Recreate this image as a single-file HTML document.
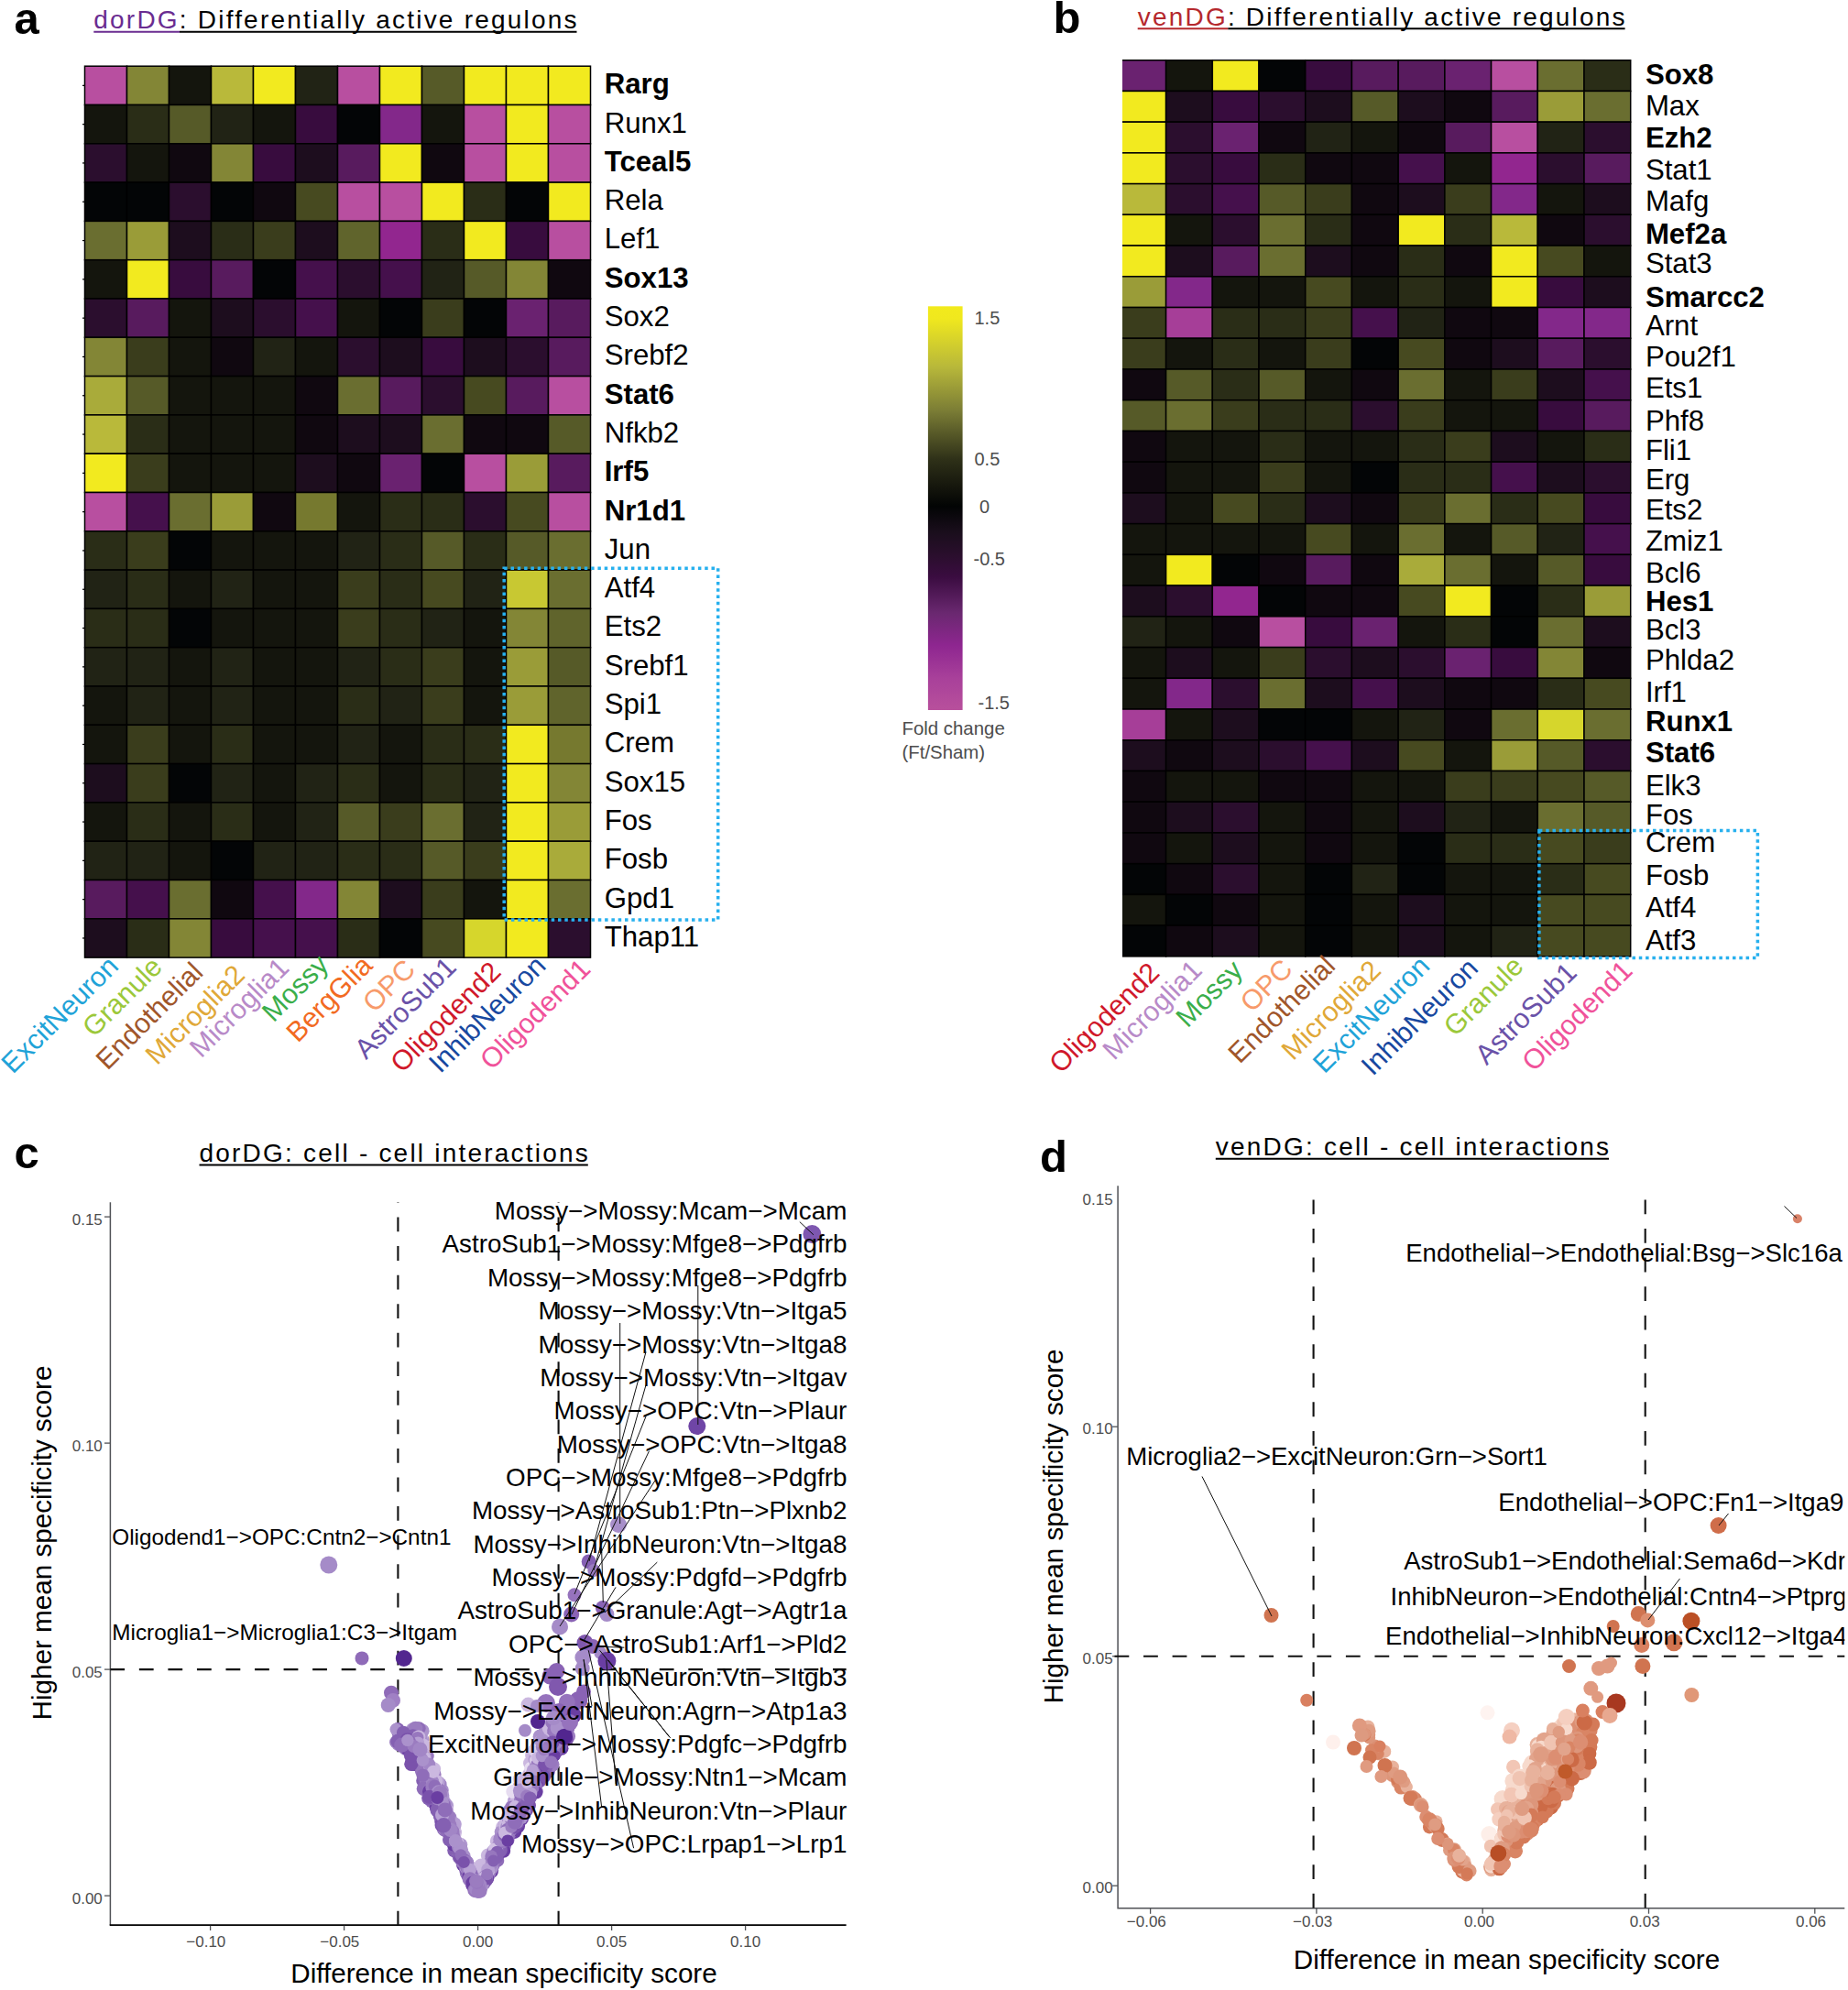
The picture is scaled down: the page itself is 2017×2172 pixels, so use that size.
<!DOCTYPE html>
<html><head><meta charset="utf-8"><title>Figure</title>
<style>
html,body{margin:0;padding:0;background:#fff}
svg{display:block;font-family:"Liberation Sans",sans-serif}
</style></head><body>
<svg width="2017" height="2172" viewBox="0 0 2017 2172">
<rect width="2017" height="2172" fill="#fff"/>
<g stroke="#000" stroke-width="1.5">
<rect x="92.50" y="72.20" width="46.00" height="42.30" fill="#b84fa0"/>
<rect x="138.50" y="72.20" width="46.00" height="42.30" fill="#838636"/>
<rect x="184.50" y="72.20" width="46.00" height="42.30" fill="#14150d"/>
<rect x="230.50" y="72.20" width="46.00" height="42.30" fill="#b9b93a"/>
<rect x="276.50" y="72.20" width="46.00" height="42.30" fill="#f2ea1f"/>
<rect x="322.50" y="72.20" width="46.00" height="42.30" fill="#212315"/>
<rect x="368.50" y="72.20" width="46.00" height="42.30" fill="#b84fa0"/>
<rect x="414.50" y="72.20" width="46.00" height="42.30" fill="#f2ea1f"/>
<rect x="460.50" y="72.20" width="46.00" height="42.30" fill="#565a28"/>
<rect x="506.50" y="72.20" width="46.00" height="42.30" fill="#f2ea1f"/>
<rect x="552.50" y="72.20" width="46.00" height="42.30" fill="#f2ea1f"/>
<rect x="598.50" y="72.20" width="46.00" height="42.30" fill="#f2ea1f"/>
<rect x="92.50" y="114.50" width="46.00" height="42.30" fill="#14150d"/>
<rect x="138.50" y="114.50" width="46.00" height="42.30" fill="#2a2d17"/>
<rect x="184.50" y="114.50" width="46.00" height="42.30" fill="#565a28"/>
<rect x="230.50" y="114.50" width="46.00" height="42.30" fill="#212315"/>
<rect x="276.50" y="114.50" width="46.00" height="42.30" fill="#14150d"/>
<rect x="322.50" y="114.50" width="46.00" height="42.30" fill="#380c3e"/>
<rect x="368.50" y="114.50" width="46.00" height="42.30" fill="#030506"/>
<rect x="414.50" y="114.50" width="46.00" height="42.30" fill="#83288a"/>
<rect x="460.50" y="114.50" width="46.00" height="42.30" fill="#14150d"/>
<rect x="506.50" y="114.50" width="46.00" height="42.30" fill="#b84fa0"/>
<rect x="552.50" y="114.50" width="46.00" height="42.30" fill="#f2ea1f"/>
<rect x="598.50" y="114.50" width="46.00" height="42.30" fill="#b84fa0"/>
<rect x="92.50" y="156.80" width="46.00" height="42.30" fill="#2b0e2e"/>
<rect x="138.50" y="156.80" width="46.00" height="42.30" fill="#14150d"/>
<rect x="184.50" y="156.80" width="46.00" height="42.30" fill="#100810"/>
<rect x="230.50" y="156.80" width="46.00" height="42.30" fill="#838636"/>
<rect x="276.50" y="156.80" width="46.00" height="42.30" fill="#380c3e"/>
<rect x="322.50" y="156.80" width="46.00" height="42.30" fill="#1d0d1e"/>
<rect x="368.50" y="156.80" width="46.00" height="42.30" fill="#581b5e"/>
<rect x="414.50" y="156.80" width="46.00" height="42.30" fill="#f2ea1f"/>
<rect x="460.50" y="156.80" width="46.00" height="42.30" fill="#100810"/>
<rect x="506.50" y="156.80" width="46.00" height="42.30" fill="#b84fa0"/>
<rect x="552.50" y="156.80" width="46.00" height="42.30" fill="#f2ea1f"/>
<rect x="598.50" y="156.80" width="46.00" height="42.30" fill="#b84fa0"/>
<rect x="92.50" y="199.10" width="46.00" height="42.30" fill="#030506"/>
<rect x="138.50" y="199.10" width="46.00" height="42.30" fill="#030506"/>
<rect x="184.50" y="199.10" width="46.00" height="42.30" fill="#2b0e2e"/>
<rect x="230.50" y="199.10" width="46.00" height="42.30" fill="#030506"/>
<rect x="276.50" y="199.10" width="46.00" height="42.30" fill="#100810"/>
<rect x="322.50" y="199.10" width="46.00" height="42.30" fill="#474a20"/>
<rect x="368.50" y="199.10" width="46.00" height="42.30" fill="#b84fa0"/>
<rect x="414.50" y="199.10" width="46.00" height="42.30" fill="#b84fa0"/>
<rect x="460.50" y="199.10" width="46.00" height="42.30" fill="#f2ea1f"/>
<rect x="506.50" y="199.10" width="46.00" height="42.30" fill="#2a2d17"/>
<rect x="552.50" y="199.10" width="46.00" height="42.30" fill="#030506"/>
<rect x="598.50" y="199.10" width="46.00" height="42.30" fill="#f2ea1f"/>
<rect x="92.50" y="241.40" width="46.00" height="42.30" fill="#6a6e30"/>
<rect x="138.50" y="241.40" width="46.00" height="42.30" fill="#9a9c38"/>
<rect x="184.50" y="241.40" width="46.00" height="42.30" fill="#1d0d1e"/>
<rect x="230.50" y="241.40" width="46.00" height="42.30" fill="#2a2d17"/>
<rect x="276.50" y="241.40" width="46.00" height="42.30" fill="#3a3d1c"/>
<rect x="322.50" y="241.40" width="46.00" height="42.30" fill="#1d0d1e"/>
<rect x="368.50" y="241.40" width="46.00" height="42.30" fill="#60642c"/>
<rect x="414.50" y="241.40" width="46.00" height="42.30" fill="#92268f"/>
<rect x="460.50" y="241.40" width="46.00" height="42.30" fill="#2a2d17"/>
<rect x="506.50" y="241.40" width="46.00" height="42.30" fill="#f2ea1f"/>
<rect x="552.50" y="241.40" width="46.00" height="42.30" fill="#380c3e"/>
<rect x="598.50" y="241.40" width="46.00" height="42.30" fill="#b84fa0"/>
<rect x="92.50" y="283.70" width="46.00" height="42.30" fill="#14150d"/>
<rect x="138.50" y="283.70" width="46.00" height="42.30" fill="#f2ea1f"/>
<rect x="184.50" y="283.70" width="46.00" height="42.30" fill="#380c3e"/>
<rect x="230.50" y="283.70" width="46.00" height="42.30" fill="#581b5e"/>
<rect x="276.50" y="283.70" width="46.00" height="42.30" fill="#030506"/>
<rect x="322.50" y="283.70" width="46.00" height="42.30" fill="#45104c"/>
<rect x="368.50" y="283.70" width="46.00" height="42.30" fill="#2b0e2e"/>
<rect x="414.50" y="283.70" width="46.00" height="42.30" fill="#45104c"/>
<rect x="460.50" y="283.70" width="46.00" height="42.30" fill="#212315"/>
<rect x="506.50" y="283.70" width="46.00" height="42.30" fill="#565a28"/>
<rect x="552.50" y="283.70" width="46.00" height="42.30" fill="#838636"/>
<rect x="598.50" y="283.70" width="46.00" height="42.30" fill="#100810"/>
<rect x="92.50" y="326.00" width="46.00" height="42.30" fill="#2b0e2e"/>
<rect x="138.50" y="326.00" width="46.00" height="42.30" fill="#581b5e"/>
<rect x="184.50" y="326.00" width="46.00" height="42.30" fill="#14150d"/>
<rect x="230.50" y="326.00" width="46.00" height="42.30" fill="#1d0d1e"/>
<rect x="276.50" y="326.00" width="46.00" height="42.30" fill="#2b0e2e"/>
<rect x="322.50" y="326.00" width="46.00" height="42.30" fill="#45104c"/>
<rect x="368.50" y="326.00" width="46.00" height="42.30" fill="#14150d"/>
<rect x="414.50" y="326.00" width="46.00" height="42.30" fill="#030506"/>
<rect x="460.50" y="326.00" width="46.00" height="42.30" fill="#3a3d1c"/>
<rect x="506.50" y="326.00" width="46.00" height="42.30" fill="#030506"/>
<rect x="552.50" y="326.00" width="46.00" height="42.30" fill="#6a2270"/>
<rect x="598.50" y="326.00" width="46.00" height="42.30" fill="#581b5e"/>
<rect x="92.50" y="368.30" width="46.00" height="42.30" fill="#838636"/>
<rect x="138.50" y="368.30" width="46.00" height="42.30" fill="#3a3d1c"/>
<rect x="184.50" y="368.30" width="46.00" height="42.30" fill="#14150d"/>
<rect x="230.50" y="368.30" width="46.00" height="42.30" fill="#100810"/>
<rect x="276.50" y="368.30" width="46.00" height="42.30" fill="#212315"/>
<rect x="322.50" y="368.30" width="46.00" height="42.30" fill="#14150d"/>
<rect x="368.50" y="368.30" width="46.00" height="42.30" fill="#2b0e2e"/>
<rect x="414.50" y="368.30" width="46.00" height="42.30" fill="#1d0d1e"/>
<rect x="460.50" y="368.30" width="46.00" height="42.30" fill="#380c3e"/>
<rect x="506.50" y="368.30" width="46.00" height="42.30" fill="#1d0d1e"/>
<rect x="552.50" y="368.30" width="46.00" height="42.30" fill="#2b0e2e"/>
<rect x="598.50" y="368.30" width="46.00" height="42.30" fill="#581b5e"/>
<rect x="92.50" y="410.60" width="46.00" height="42.30" fill="#a9ab3a"/>
<rect x="138.50" y="410.60" width="46.00" height="42.30" fill="#565a28"/>
<rect x="184.50" y="410.60" width="46.00" height="42.30" fill="#14150d"/>
<rect x="230.50" y="410.60" width="46.00" height="42.30" fill="#14150d"/>
<rect x="276.50" y="410.60" width="46.00" height="42.30" fill="#14150d"/>
<rect x="322.50" y="410.60" width="46.00" height="42.30" fill="#100810"/>
<rect x="368.50" y="410.60" width="46.00" height="42.30" fill="#6a6e30"/>
<rect x="414.50" y="410.60" width="46.00" height="42.30" fill="#581b5e"/>
<rect x="460.50" y="410.60" width="46.00" height="42.30" fill="#2b0e2e"/>
<rect x="506.50" y="410.60" width="46.00" height="42.30" fill="#474a20"/>
<rect x="552.50" y="410.60" width="46.00" height="42.30" fill="#581b5e"/>
<rect x="598.50" y="410.60" width="46.00" height="42.30" fill="#b84fa0"/>
<rect x="92.50" y="452.90" width="46.00" height="42.30" fill="#b9b93a"/>
<rect x="138.50" y="452.90" width="46.00" height="42.30" fill="#2a2d17"/>
<rect x="184.50" y="452.90" width="46.00" height="42.30" fill="#14150d"/>
<rect x="230.50" y="452.90" width="46.00" height="42.30" fill="#14150d"/>
<rect x="276.50" y="452.90" width="46.00" height="42.30" fill="#14150d"/>
<rect x="322.50" y="452.90" width="46.00" height="42.30" fill="#100810"/>
<rect x="368.50" y="452.90" width="46.00" height="42.30" fill="#1d0d1e"/>
<rect x="414.50" y="452.90" width="46.00" height="42.30" fill="#1d0d1e"/>
<rect x="460.50" y="452.90" width="46.00" height="42.30" fill="#6a6e30"/>
<rect x="506.50" y="452.90" width="46.00" height="42.30" fill="#100810"/>
<rect x="552.50" y="452.90" width="46.00" height="42.30" fill="#100810"/>
<rect x="598.50" y="452.90" width="46.00" height="42.30" fill="#565a28"/>
<rect x="92.50" y="495.20" width="46.00" height="42.30" fill="#f2ea1f"/>
<rect x="138.50" y="495.20" width="46.00" height="42.30" fill="#3a3d1c"/>
<rect x="184.50" y="495.20" width="46.00" height="42.30" fill="#14150d"/>
<rect x="230.50" y="495.20" width="46.00" height="42.30" fill="#14150d"/>
<rect x="276.50" y="495.20" width="46.00" height="42.30" fill="#14150d"/>
<rect x="322.50" y="495.20" width="46.00" height="42.30" fill="#1d0d1e"/>
<rect x="368.50" y="495.20" width="46.00" height="42.30" fill="#100810"/>
<rect x="414.50" y="495.20" width="46.00" height="42.30" fill="#6a2270"/>
<rect x="460.50" y="495.20" width="46.00" height="42.30" fill="#030506"/>
<rect x="506.50" y="495.20" width="46.00" height="42.30" fill="#b84fa0"/>
<rect x="552.50" y="495.20" width="46.00" height="42.30" fill="#9a9c38"/>
<rect x="598.50" y="495.20" width="46.00" height="42.30" fill="#581b5e"/>
<rect x="92.50" y="537.50" width="46.00" height="42.30" fill="#b84fa0"/>
<rect x="138.50" y="537.50" width="46.00" height="42.30" fill="#45104c"/>
<rect x="184.50" y="537.50" width="46.00" height="42.30" fill="#6a6e30"/>
<rect x="230.50" y="537.50" width="46.00" height="42.30" fill="#9a9c38"/>
<rect x="276.50" y="537.50" width="46.00" height="42.30" fill="#100810"/>
<rect x="322.50" y="537.50" width="46.00" height="42.30" fill="#76792f"/>
<rect x="368.50" y="537.50" width="46.00" height="42.30" fill="#14150d"/>
<rect x="414.50" y="537.50" width="46.00" height="42.30" fill="#2a2d17"/>
<rect x="460.50" y="537.50" width="46.00" height="42.30" fill="#2a2d17"/>
<rect x="506.50" y="537.50" width="46.00" height="42.30" fill="#2b0e2e"/>
<rect x="552.50" y="537.50" width="46.00" height="42.30" fill="#474a20"/>
<rect x="598.50" y="537.50" width="46.00" height="42.30" fill="#b84fa0"/>
<rect x="92.50" y="579.80" width="46.00" height="42.30" fill="#2a2d17"/>
<rect x="138.50" y="579.80" width="46.00" height="42.30" fill="#3a3d1c"/>
<rect x="184.50" y="579.80" width="46.00" height="42.30" fill="#030506"/>
<rect x="230.50" y="579.80" width="46.00" height="42.30" fill="#14150d"/>
<rect x="276.50" y="579.80" width="46.00" height="42.30" fill="#14150d"/>
<rect x="322.50" y="579.80" width="46.00" height="42.30" fill="#14150d"/>
<rect x="368.50" y="579.80" width="46.00" height="42.30" fill="#212315"/>
<rect x="414.50" y="579.80" width="46.00" height="42.30" fill="#2a2d17"/>
<rect x="460.50" y="579.80" width="46.00" height="42.30" fill="#565a28"/>
<rect x="506.50" y="579.80" width="46.00" height="42.30" fill="#2a2d17"/>
<rect x="552.50" y="579.80" width="46.00" height="42.30" fill="#565a28"/>
<rect x="598.50" y="579.80" width="46.00" height="42.30" fill="#6a6e30"/>
<rect x="92.50" y="622.10" width="46.00" height="42.30" fill="#212315"/>
<rect x="138.50" y="622.10" width="46.00" height="42.30" fill="#2a2d17"/>
<rect x="184.50" y="622.10" width="46.00" height="42.30" fill="#14150d"/>
<rect x="230.50" y="622.10" width="46.00" height="42.30" fill="#212315"/>
<rect x="276.50" y="622.10" width="46.00" height="42.30" fill="#14150d"/>
<rect x="322.50" y="622.10" width="46.00" height="42.30" fill="#14150d"/>
<rect x="368.50" y="622.10" width="46.00" height="42.30" fill="#3a3d1c"/>
<rect x="414.50" y="622.10" width="46.00" height="42.30" fill="#2a2d17"/>
<rect x="460.50" y="622.10" width="46.00" height="42.30" fill="#474a20"/>
<rect x="506.50" y="622.10" width="46.00" height="42.30" fill="#212315"/>
<rect x="552.50" y="622.10" width="46.00" height="42.30" fill="#c8c832"/>
<rect x="598.50" y="622.10" width="46.00" height="42.30" fill="#6a6e30"/>
<rect x="92.50" y="664.40" width="46.00" height="42.30" fill="#2a2d17"/>
<rect x="138.50" y="664.40" width="46.00" height="42.30" fill="#2a2d17"/>
<rect x="184.50" y="664.40" width="46.00" height="42.30" fill="#030506"/>
<rect x="230.50" y="664.40" width="46.00" height="42.30" fill="#14150d"/>
<rect x="276.50" y="664.40" width="46.00" height="42.30" fill="#14150d"/>
<rect x="322.50" y="664.40" width="46.00" height="42.30" fill="#14150d"/>
<rect x="368.50" y="664.40" width="46.00" height="42.30" fill="#3a3d1c"/>
<rect x="414.50" y="664.40" width="46.00" height="42.30" fill="#2a2d17"/>
<rect x="460.50" y="664.40" width="46.00" height="42.30" fill="#212315"/>
<rect x="506.50" y="664.40" width="46.00" height="42.30" fill="#14150d"/>
<rect x="552.50" y="664.40" width="46.00" height="42.30" fill="#838636"/>
<rect x="598.50" y="664.40" width="46.00" height="42.30" fill="#60642c"/>
<rect x="92.50" y="706.70" width="46.00" height="42.30" fill="#212315"/>
<rect x="138.50" y="706.70" width="46.00" height="42.30" fill="#212315"/>
<rect x="184.50" y="706.70" width="46.00" height="42.30" fill="#14150d"/>
<rect x="230.50" y="706.70" width="46.00" height="42.30" fill="#212315"/>
<rect x="276.50" y="706.70" width="46.00" height="42.30" fill="#14150d"/>
<rect x="322.50" y="706.70" width="46.00" height="42.30" fill="#14150d"/>
<rect x="368.50" y="706.70" width="46.00" height="42.30" fill="#212315"/>
<rect x="414.50" y="706.70" width="46.00" height="42.30" fill="#2a2d17"/>
<rect x="460.50" y="706.70" width="46.00" height="42.30" fill="#3a3d1c"/>
<rect x="506.50" y="706.70" width="46.00" height="42.30" fill="#14150d"/>
<rect x="552.50" y="706.70" width="46.00" height="42.30" fill="#9a9c38"/>
<rect x="598.50" y="706.70" width="46.00" height="42.30" fill="#565a28"/>
<rect x="92.50" y="749.00" width="46.00" height="42.30" fill="#14150d"/>
<rect x="138.50" y="749.00" width="46.00" height="42.30" fill="#212315"/>
<rect x="184.50" y="749.00" width="46.00" height="42.30" fill="#14150d"/>
<rect x="230.50" y="749.00" width="46.00" height="42.30" fill="#212315"/>
<rect x="276.50" y="749.00" width="46.00" height="42.30" fill="#14150d"/>
<rect x="322.50" y="749.00" width="46.00" height="42.30" fill="#14150d"/>
<rect x="368.50" y="749.00" width="46.00" height="42.30" fill="#2a2d17"/>
<rect x="414.50" y="749.00" width="46.00" height="42.30" fill="#212315"/>
<rect x="460.50" y="749.00" width="46.00" height="42.30" fill="#3a3d1c"/>
<rect x="506.50" y="749.00" width="46.00" height="42.30" fill="#14150d"/>
<rect x="552.50" y="749.00" width="46.00" height="42.30" fill="#9a9c38"/>
<rect x="598.50" y="749.00" width="46.00" height="42.30" fill="#60642c"/>
<rect x="92.50" y="791.30" width="46.00" height="42.30" fill="#14150d"/>
<rect x="138.50" y="791.30" width="46.00" height="42.30" fill="#3a3d1c"/>
<rect x="184.50" y="791.30" width="46.00" height="42.30" fill="#14150d"/>
<rect x="230.50" y="791.30" width="46.00" height="42.30" fill="#2a2d17"/>
<rect x="276.50" y="791.30" width="46.00" height="42.30" fill="#14150d"/>
<rect x="322.50" y="791.30" width="46.00" height="42.30" fill="#14150d"/>
<rect x="368.50" y="791.30" width="46.00" height="42.30" fill="#212315"/>
<rect x="414.50" y="791.30" width="46.00" height="42.30" fill="#14150d"/>
<rect x="460.50" y="791.30" width="46.00" height="42.30" fill="#2a2d17"/>
<rect x="506.50" y="791.30" width="46.00" height="42.30" fill="#2a2d17"/>
<rect x="552.50" y="791.30" width="46.00" height="42.30" fill="#f2ea1f"/>
<rect x="598.50" y="791.30" width="46.00" height="42.30" fill="#76792f"/>
<rect x="92.50" y="833.60" width="46.00" height="42.30" fill="#1d0d1e"/>
<rect x="138.50" y="833.60" width="46.00" height="42.30" fill="#3a3d1c"/>
<rect x="184.50" y="833.60" width="46.00" height="42.30" fill="#030506"/>
<rect x="230.50" y="833.60" width="46.00" height="42.30" fill="#212315"/>
<rect x="276.50" y="833.60" width="46.00" height="42.30" fill="#14150d"/>
<rect x="322.50" y="833.60" width="46.00" height="42.30" fill="#212315"/>
<rect x="368.50" y="833.60" width="46.00" height="42.30" fill="#2a2d17"/>
<rect x="414.50" y="833.60" width="46.00" height="42.30" fill="#14150d"/>
<rect x="460.50" y="833.60" width="46.00" height="42.30" fill="#2a2d17"/>
<rect x="506.50" y="833.60" width="46.00" height="42.30" fill="#212315"/>
<rect x="552.50" y="833.60" width="46.00" height="42.30" fill="#f2ea1f"/>
<rect x="598.50" y="833.60" width="46.00" height="42.30" fill="#838636"/>
<rect x="92.50" y="875.90" width="46.00" height="42.30" fill="#14150d"/>
<rect x="138.50" y="875.90" width="46.00" height="42.30" fill="#2a2d17"/>
<rect x="184.50" y="875.90" width="46.00" height="42.30" fill="#14150d"/>
<rect x="230.50" y="875.90" width="46.00" height="42.30" fill="#2a2d17"/>
<rect x="276.50" y="875.90" width="46.00" height="42.30" fill="#14150d"/>
<rect x="322.50" y="875.90" width="46.00" height="42.30" fill="#212315"/>
<rect x="368.50" y="875.90" width="46.00" height="42.30" fill="#565a28"/>
<rect x="414.50" y="875.90" width="46.00" height="42.30" fill="#3a3d1c"/>
<rect x="460.50" y="875.90" width="46.00" height="42.30" fill="#6a6e30"/>
<rect x="506.50" y="875.90" width="46.00" height="42.30" fill="#212315"/>
<rect x="552.50" y="875.90" width="46.00" height="42.30" fill="#f2ea1f"/>
<rect x="598.50" y="875.90" width="46.00" height="42.30" fill="#9a9c38"/>
<rect x="92.50" y="918.20" width="46.00" height="42.30" fill="#212315"/>
<rect x="138.50" y="918.20" width="46.00" height="42.30" fill="#212315"/>
<rect x="184.50" y="918.20" width="46.00" height="42.30" fill="#14150d"/>
<rect x="230.50" y="918.20" width="46.00" height="42.30" fill="#030506"/>
<rect x="276.50" y="918.20" width="46.00" height="42.30" fill="#212315"/>
<rect x="322.50" y="918.20" width="46.00" height="42.30" fill="#212315"/>
<rect x="368.50" y="918.20" width="46.00" height="42.30" fill="#2a2d17"/>
<rect x="414.50" y="918.20" width="46.00" height="42.30" fill="#2a2d17"/>
<rect x="460.50" y="918.20" width="46.00" height="42.30" fill="#565a28"/>
<rect x="506.50" y="918.20" width="46.00" height="42.30" fill="#3a3d1c"/>
<rect x="552.50" y="918.20" width="46.00" height="42.30" fill="#f2ea1f"/>
<rect x="598.50" y="918.20" width="46.00" height="42.30" fill="#a9ab3a"/>
<rect x="92.50" y="960.50" width="46.00" height="42.30" fill="#581b5e"/>
<rect x="138.50" y="960.50" width="46.00" height="42.30" fill="#45104c"/>
<rect x="184.50" y="960.50" width="46.00" height="42.30" fill="#6a6e30"/>
<rect x="230.50" y="960.50" width="46.00" height="42.30" fill="#100810"/>
<rect x="276.50" y="960.50" width="46.00" height="42.30" fill="#45104c"/>
<rect x="322.50" y="960.50" width="46.00" height="42.30" fill="#83288a"/>
<rect x="368.50" y="960.50" width="46.00" height="42.30" fill="#838636"/>
<rect x="414.50" y="960.50" width="46.00" height="42.30" fill="#1d0d1e"/>
<rect x="460.50" y="960.50" width="46.00" height="42.30" fill="#3a3d1c"/>
<rect x="506.50" y="960.50" width="46.00" height="42.30" fill="#14150d"/>
<rect x="552.50" y="960.50" width="46.00" height="42.30" fill="#f2ea1f"/>
<rect x="598.50" y="960.50" width="46.00" height="42.30" fill="#6a6e30"/>
<rect x="92.50" y="1002.80" width="46.00" height="42.30" fill="#1d0d1e"/>
<rect x="138.50" y="1002.80" width="46.00" height="42.30" fill="#2a2d17"/>
<rect x="184.50" y="1002.80" width="46.00" height="42.30" fill="#838636"/>
<rect x="230.50" y="1002.80" width="46.00" height="42.30" fill="#380c3e"/>
<rect x="276.50" y="1002.80" width="46.00" height="42.30" fill="#45104c"/>
<rect x="322.50" y="1002.80" width="46.00" height="42.30" fill="#45104c"/>
<rect x="368.50" y="1002.80" width="46.00" height="42.30" fill="#2a2d17"/>
<rect x="414.50" y="1002.80" width="46.00" height="42.30" fill="#030506"/>
<rect x="460.50" y="1002.80" width="46.00" height="42.30" fill="#474a20"/>
<rect x="506.50" y="1002.80" width="46.00" height="42.30" fill="#d6d62c"/>
<rect x="552.50" y="1002.80" width="46.00" height="42.30" fill="#f2ea1f"/>
<rect x="598.50" y="1002.80" width="46.00" height="42.30" fill="#2b0e2e"/>
</g>
<g stroke="#000" stroke-width="1.2">
<line x1="90.00" x2="92.50" y1="93.35" y2="93.35"/>
<line x1="90.00" x2="92.50" y1="135.65" y2="135.65"/>
<line x1="90.00" x2="92.50" y1="177.95" y2="177.95"/>
<line x1="90.00" x2="92.50" y1="220.25" y2="220.25"/>
<line x1="90.00" x2="92.50" y1="262.55" y2="262.55"/>
<line x1="90.00" x2="92.50" y1="304.85" y2="304.85"/>
<line x1="90.00" x2="92.50" y1="347.15" y2="347.15"/>
<line x1="90.00" x2="92.50" y1="389.45" y2="389.45"/>
<line x1="90.00" x2="92.50" y1="431.75" y2="431.75"/>
<line x1="90.00" x2="92.50" y1="474.05" y2="474.05"/>
<line x1="90.00" x2="92.50" y1="516.35" y2="516.35"/>
<line x1="90.00" x2="92.50" y1="558.65" y2="558.65"/>
<line x1="90.00" x2="92.50" y1="600.95" y2="600.95"/>
<line x1="90.00" x2="92.50" y1="643.25" y2="643.25"/>
<line x1="90.00" x2="92.50" y1="685.55" y2="685.55"/>
<line x1="90.00" x2="92.50" y1="727.85" y2="727.85"/>
<line x1="90.00" x2="92.50" y1="770.15" y2="770.15"/>
<line x1="90.00" x2="92.50" y1="812.45" y2="812.45"/>
<line x1="90.00" x2="92.50" y1="854.75" y2="854.75"/>
<line x1="90.00" x2="92.50" y1="897.05" y2="897.05"/>
<line x1="90.00" x2="92.50" y1="939.35" y2="939.35"/>
<line x1="90.00" x2="92.50" y1="981.65" y2="981.65"/>
<line x1="90.00" x2="92.50" y1="1023.95" y2="1023.95"/>
</g>
<g font-size="31.2" fill="#000">
<text x="659.7" y="102.25" font-weight="bold">Rarg</text>
<text x="659.7" y="144.55">Runx1</text>
<text x="659.7" y="186.85" font-weight="bold">Tceal5</text>
<text x="659.7" y="229.15">Rela</text>
<text x="659.7" y="271.45">Lef1</text>
<text x="659.7" y="313.75" font-weight="bold">Sox13</text>
<text x="659.7" y="356.05">Sox2</text>
<text x="659.7" y="398.35">Srebf2</text>
<text x="659.7" y="440.65" font-weight="bold">Stat6</text>
<text x="659.7" y="482.95">Nfkb2</text>
<text x="659.7" y="525.25" font-weight="bold">Irf5</text>
<text x="659.7" y="567.55" font-weight="bold">Nr1d1</text>
<text x="659.7" y="609.85">Jun</text>
<text x="659.7" y="652.15">Atf4</text>
<text x="659.7" y="694.45">Ets2</text>
<text x="659.7" y="736.75">Srebf1</text>
<text x="659.7" y="779.05">Spi1</text>
<text x="659.7" y="821.35">Crem</text>
<text x="659.7" y="863.65">Sox15</text>
<text x="659.7" y="905.95">Fos</text>
<text x="659.7" y="948.25">Fosb</text>
<text x="659.7" y="990.55">Gpd1</text>
<text x="659.7" y="1032.85">Thap11</text>
</g>
<g font-size="30.3" text-anchor="end">
<text transform="translate(130.80,1056.40) rotate(-45)" fill="#1fa3d8">ExcitNeuron</text>
<text transform="translate(178.76,1057.04) rotate(-45)" fill="#9bc83a">Granule</text>
<text transform="translate(223.20,1062.90) rotate(-45)" fill="#a0562a">Endothelial</text>
<text transform="translate(268.86,1065.94) rotate(-45)" fill="#e0a838">Microglia2</text>
<text transform="translate(317.26,1058.04) rotate(-45)" fill="#b88ac8">Microglia1</text>
<text transform="translate(360.31,1054.79) rotate(-45)" fill="#3aae4a">Mossy</text>
<text transform="translate(408.24,1055.56) rotate(-45)" fill="#f26a22">BergGlia</text>
<text transform="translate(454.86,1059.74) rotate(-45)" fill="#f79a6a">OPC</text>
<text transform="translate(499.56,1057.24) rotate(-45)" fill="#6a52a8">AstroSub1</text>
<text transform="translate(548.46,1062.44) rotate(-45)" fill="#d0182a">Oligodend2</text>
<text transform="translate(597.30,1055.80) rotate(-45)" fill="#1848a0">InhibNeuron</text>
<text transform="translate(646.16,1059.44) rotate(-45)" fill="#f0529a">Oligodend1</text>
</g>
<defs><clipPath id="clb"><rect x="1224.9" y="60" width="600" height="1000"/></clipPath></defs>
<g stroke="#000" stroke-width="1.5" clip-path="url(#clb)">
<rect x="1221.90" y="65.70" width="50.71" height="33.73" fill="#6a2270"/>
<rect x="1272.61" y="65.70" width="50.71" height="33.73" fill="#14150d"/>
<rect x="1323.32" y="65.70" width="50.71" height="33.73" fill="#f2ea1f"/>
<rect x="1374.03" y="65.70" width="50.71" height="33.73" fill="#030506"/>
<rect x="1424.74" y="65.70" width="50.71" height="33.73" fill="#380c3e"/>
<rect x="1475.45" y="65.70" width="50.71" height="33.73" fill="#581b5e"/>
<rect x="1526.16" y="65.70" width="50.71" height="33.73" fill="#581b5e"/>
<rect x="1576.87" y="65.70" width="50.71" height="33.73" fill="#6a2270"/>
<rect x="1627.58" y="65.70" width="50.71" height="33.73" fill="#b84fa0"/>
<rect x="1678.29" y="65.70" width="50.71" height="33.73" fill="#6a6e30"/>
<rect x="1729.00" y="65.70" width="50.71" height="33.73" fill="#2a2d17"/>
<rect x="1221.90" y="99.43" width="50.71" height="33.73" fill="#f2ea1f"/>
<rect x="1272.61" y="99.43" width="50.71" height="33.73" fill="#1d0d1e"/>
<rect x="1323.32" y="99.43" width="50.71" height="33.73" fill="#380c3e"/>
<rect x="1374.03" y="99.43" width="50.71" height="33.73" fill="#2b0e2e"/>
<rect x="1424.74" y="99.43" width="50.71" height="33.73" fill="#1d0d1e"/>
<rect x="1475.45" y="99.43" width="50.71" height="33.73" fill="#565a28"/>
<rect x="1526.16" y="99.43" width="50.71" height="33.73" fill="#1d0d1e"/>
<rect x="1576.87" y="99.43" width="50.71" height="33.73" fill="#100810"/>
<rect x="1627.58" y="99.43" width="50.71" height="33.73" fill="#581b5e"/>
<rect x="1678.29" y="99.43" width="50.71" height="33.73" fill="#9a9c38"/>
<rect x="1729.00" y="99.43" width="50.71" height="33.73" fill="#6a6e30"/>
<rect x="1221.90" y="133.16" width="50.71" height="33.73" fill="#f2ea1f"/>
<rect x="1272.61" y="133.16" width="50.71" height="33.73" fill="#2b0e2e"/>
<rect x="1323.32" y="133.16" width="50.71" height="33.73" fill="#6a2270"/>
<rect x="1374.03" y="133.16" width="50.71" height="33.73" fill="#100810"/>
<rect x="1424.74" y="133.16" width="50.71" height="33.73" fill="#212315"/>
<rect x="1475.45" y="133.16" width="50.71" height="33.73" fill="#14150d"/>
<rect x="1526.16" y="133.16" width="50.71" height="33.73" fill="#100810"/>
<rect x="1576.87" y="133.16" width="50.71" height="33.73" fill="#581b5e"/>
<rect x="1627.58" y="133.16" width="50.71" height="33.73" fill="#b84fa0"/>
<rect x="1678.29" y="133.16" width="50.71" height="33.73" fill="#212315"/>
<rect x="1729.00" y="133.16" width="50.71" height="33.73" fill="#2b0e2e"/>
<rect x="1221.90" y="166.89" width="50.71" height="33.73" fill="#f2ea1f"/>
<rect x="1272.61" y="166.89" width="50.71" height="33.73" fill="#2b0e2e"/>
<rect x="1323.32" y="166.89" width="50.71" height="33.73" fill="#380c3e"/>
<rect x="1374.03" y="166.89" width="50.71" height="33.73" fill="#2a2d17"/>
<rect x="1424.74" y="166.89" width="50.71" height="33.73" fill="#100810"/>
<rect x="1475.45" y="166.89" width="50.71" height="33.73" fill="#100810"/>
<rect x="1526.16" y="166.89" width="50.71" height="33.73" fill="#45104c"/>
<rect x="1576.87" y="166.89" width="50.71" height="33.73" fill="#14150d"/>
<rect x="1627.58" y="166.89" width="50.71" height="33.73" fill="#92268f"/>
<rect x="1678.29" y="166.89" width="50.71" height="33.73" fill="#2b0e2e"/>
<rect x="1729.00" y="166.89" width="50.71" height="33.73" fill="#581b5e"/>
<rect x="1221.90" y="200.62" width="50.71" height="33.73" fill="#b9b93a"/>
<rect x="1272.61" y="200.62" width="50.71" height="33.73" fill="#2b0e2e"/>
<rect x="1323.32" y="200.62" width="50.71" height="33.73" fill="#45104c"/>
<rect x="1374.03" y="200.62" width="50.71" height="33.73" fill="#565a28"/>
<rect x="1424.74" y="200.62" width="50.71" height="33.73" fill="#3a3d1c"/>
<rect x="1475.45" y="200.62" width="50.71" height="33.73" fill="#100810"/>
<rect x="1526.16" y="200.62" width="50.71" height="33.73" fill="#1d0d1e"/>
<rect x="1576.87" y="200.62" width="50.71" height="33.73" fill="#3a3d1c"/>
<rect x="1627.58" y="200.62" width="50.71" height="33.73" fill="#83288a"/>
<rect x="1678.29" y="200.62" width="50.71" height="33.73" fill="#14150d"/>
<rect x="1729.00" y="200.62" width="50.71" height="33.73" fill="#1d0d1e"/>
<rect x="1221.90" y="234.35" width="50.71" height="33.73" fill="#f2ea1f"/>
<rect x="1272.61" y="234.35" width="50.71" height="33.73" fill="#14150d"/>
<rect x="1323.32" y="234.35" width="50.71" height="33.73" fill="#2b0e2e"/>
<rect x="1374.03" y="234.35" width="50.71" height="33.73" fill="#6a6e30"/>
<rect x="1424.74" y="234.35" width="50.71" height="33.73" fill="#2a2d17"/>
<rect x="1475.45" y="234.35" width="50.71" height="33.73" fill="#100810"/>
<rect x="1526.16" y="234.35" width="50.71" height="33.73" fill="#f2ea1f"/>
<rect x="1576.87" y="234.35" width="50.71" height="33.73" fill="#2a2d17"/>
<rect x="1627.58" y="234.35" width="50.71" height="33.73" fill="#b9b93a"/>
<rect x="1678.29" y="234.35" width="50.71" height="33.73" fill="#100810"/>
<rect x="1729.00" y="234.35" width="50.71" height="33.73" fill="#2b0e2e"/>
<rect x="1221.90" y="268.08" width="50.71" height="33.73" fill="#f2ea1f"/>
<rect x="1272.61" y="268.08" width="50.71" height="33.73" fill="#1d0d1e"/>
<rect x="1323.32" y="268.08" width="50.71" height="33.73" fill="#581b5e"/>
<rect x="1374.03" y="268.08" width="50.71" height="33.73" fill="#6a6e30"/>
<rect x="1424.74" y="268.08" width="50.71" height="33.73" fill="#1d0d1e"/>
<rect x="1475.45" y="268.08" width="50.71" height="33.73" fill="#100810"/>
<rect x="1526.16" y="268.08" width="50.71" height="33.73" fill="#2a2d17"/>
<rect x="1576.87" y="268.08" width="50.71" height="33.73" fill="#100810"/>
<rect x="1627.58" y="268.08" width="50.71" height="33.73" fill="#f2ea1f"/>
<rect x="1678.29" y="268.08" width="50.71" height="33.73" fill="#474a20"/>
<rect x="1729.00" y="268.08" width="50.71" height="33.73" fill="#14150d"/>
<rect x="1221.90" y="301.81" width="50.71" height="33.73" fill="#9a9c38"/>
<rect x="1272.61" y="301.81" width="50.71" height="33.73" fill="#83288a"/>
<rect x="1323.32" y="301.81" width="50.71" height="33.73" fill="#14150d"/>
<rect x="1374.03" y="301.81" width="50.71" height="33.73" fill="#14150d"/>
<rect x="1424.74" y="301.81" width="50.71" height="33.73" fill="#474a20"/>
<rect x="1475.45" y="301.81" width="50.71" height="33.73" fill="#14150d"/>
<rect x="1526.16" y="301.81" width="50.71" height="33.73" fill="#2a2d17"/>
<rect x="1576.87" y="301.81" width="50.71" height="33.73" fill="#14150d"/>
<rect x="1627.58" y="301.81" width="50.71" height="33.73" fill="#f2ea1f"/>
<rect x="1678.29" y="301.81" width="50.71" height="33.73" fill="#380c3e"/>
<rect x="1729.00" y="301.81" width="50.71" height="33.73" fill="#1d0d1e"/>
<rect x="1221.90" y="335.54" width="50.71" height="33.73" fill="#3a3d1c"/>
<rect x="1272.61" y="335.54" width="50.71" height="33.73" fill="#a63e98"/>
<rect x="1323.32" y="335.54" width="50.71" height="33.73" fill="#2a2d17"/>
<rect x="1374.03" y="335.54" width="50.71" height="33.73" fill="#2a2d17"/>
<rect x="1424.74" y="335.54" width="50.71" height="33.73" fill="#3a3d1c"/>
<rect x="1475.45" y="335.54" width="50.71" height="33.73" fill="#45104c"/>
<rect x="1526.16" y="335.54" width="50.71" height="33.73" fill="#212315"/>
<rect x="1576.87" y="335.54" width="50.71" height="33.73" fill="#100810"/>
<rect x="1627.58" y="335.54" width="50.71" height="33.73" fill="#100810"/>
<rect x="1678.29" y="335.54" width="50.71" height="33.73" fill="#83288a"/>
<rect x="1729.00" y="335.54" width="50.71" height="33.73" fill="#83288a"/>
<rect x="1221.90" y="369.27" width="50.71" height="33.73" fill="#3a3d1c"/>
<rect x="1272.61" y="369.27" width="50.71" height="33.73" fill="#14150d"/>
<rect x="1323.32" y="369.27" width="50.71" height="33.73" fill="#2a2d17"/>
<rect x="1374.03" y="369.27" width="50.71" height="33.73" fill="#14150d"/>
<rect x="1424.74" y="369.27" width="50.71" height="33.73" fill="#3a3d1c"/>
<rect x="1475.45" y="369.27" width="50.71" height="33.73" fill="#030506"/>
<rect x="1526.16" y="369.27" width="50.71" height="33.73" fill="#474a20"/>
<rect x="1576.87" y="369.27" width="50.71" height="33.73" fill="#100810"/>
<rect x="1627.58" y="369.27" width="50.71" height="33.73" fill="#1d0d1e"/>
<rect x="1678.29" y="369.27" width="50.71" height="33.73" fill="#581b5e"/>
<rect x="1729.00" y="369.27" width="50.71" height="33.73" fill="#2b0e2e"/>
<rect x="1221.90" y="403.00" width="50.71" height="33.73" fill="#100810"/>
<rect x="1272.61" y="403.00" width="50.71" height="33.73" fill="#565a28"/>
<rect x="1323.32" y="403.00" width="50.71" height="33.73" fill="#2a2d17"/>
<rect x="1374.03" y="403.00" width="50.71" height="33.73" fill="#565a28"/>
<rect x="1424.74" y="403.00" width="50.71" height="33.73" fill="#14150d"/>
<rect x="1475.45" y="403.00" width="50.71" height="33.73" fill="#100810"/>
<rect x="1526.16" y="403.00" width="50.71" height="33.73" fill="#6a6e30"/>
<rect x="1576.87" y="403.00" width="50.71" height="33.73" fill="#14150d"/>
<rect x="1627.58" y="403.00" width="50.71" height="33.73" fill="#3a3d1c"/>
<rect x="1678.29" y="403.00" width="50.71" height="33.73" fill="#1d0d1e"/>
<rect x="1729.00" y="403.00" width="50.71" height="33.73" fill="#45104c"/>
<rect x="1221.90" y="436.73" width="50.71" height="33.73" fill="#565a28"/>
<rect x="1272.61" y="436.73" width="50.71" height="33.73" fill="#6a6e30"/>
<rect x="1323.32" y="436.73" width="50.71" height="33.73" fill="#3a3d1c"/>
<rect x="1374.03" y="436.73" width="50.71" height="33.73" fill="#2a2d17"/>
<rect x="1424.74" y="436.73" width="50.71" height="33.73" fill="#2a2d17"/>
<rect x="1475.45" y="436.73" width="50.71" height="33.73" fill="#2b0e2e"/>
<rect x="1526.16" y="436.73" width="50.71" height="33.73" fill="#3a3d1c"/>
<rect x="1576.87" y="436.73" width="50.71" height="33.73" fill="#14150d"/>
<rect x="1627.58" y="436.73" width="50.71" height="33.73" fill="#14150d"/>
<rect x="1678.29" y="436.73" width="50.71" height="33.73" fill="#380c3e"/>
<rect x="1729.00" y="436.73" width="50.71" height="33.73" fill="#581b5e"/>
<rect x="1221.90" y="470.46" width="50.71" height="33.73" fill="#100810"/>
<rect x="1272.61" y="470.46" width="50.71" height="33.73" fill="#14150d"/>
<rect x="1323.32" y="470.46" width="50.71" height="33.73" fill="#14150d"/>
<rect x="1374.03" y="470.46" width="50.71" height="33.73" fill="#2a2d17"/>
<rect x="1424.74" y="470.46" width="50.71" height="33.73" fill="#14150d"/>
<rect x="1475.45" y="470.46" width="50.71" height="33.73" fill="#14150d"/>
<rect x="1526.16" y="470.46" width="50.71" height="33.73" fill="#2a2d17"/>
<rect x="1576.87" y="470.46" width="50.71" height="33.73" fill="#3a3d1c"/>
<rect x="1627.58" y="470.46" width="50.71" height="33.73" fill="#1d0d1e"/>
<rect x="1678.29" y="470.46" width="50.71" height="33.73" fill="#14150d"/>
<rect x="1729.00" y="470.46" width="50.71" height="33.73" fill="#2a2d17"/>
<rect x="1221.90" y="504.19" width="50.71" height="33.73" fill="#100810"/>
<rect x="1272.61" y="504.19" width="50.71" height="33.73" fill="#14150d"/>
<rect x="1323.32" y="504.19" width="50.71" height="33.73" fill="#14150d"/>
<rect x="1374.03" y="504.19" width="50.71" height="33.73" fill="#3a3d1c"/>
<rect x="1424.74" y="504.19" width="50.71" height="33.73" fill="#14150d"/>
<rect x="1475.45" y="504.19" width="50.71" height="33.73" fill="#030506"/>
<rect x="1526.16" y="504.19" width="50.71" height="33.73" fill="#2a2d17"/>
<rect x="1576.87" y="504.19" width="50.71" height="33.73" fill="#2a2d17"/>
<rect x="1627.58" y="504.19" width="50.71" height="33.73" fill="#45104c"/>
<rect x="1678.29" y="504.19" width="50.71" height="33.73" fill="#1d0d1e"/>
<rect x="1729.00" y="504.19" width="50.71" height="33.73" fill="#2b0e2e"/>
<rect x="1221.90" y="537.92" width="50.71" height="33.73" fill="#1d0d1e"/>
<rect x="1272.61" y="537.92" width="50.71" height="33.73" fill="#14150d"/>
<rect x="1323.32" y="537.92" width="50.71" height="33.73" fill="#474a20"/>
<rect x="1374.03" y="537.92" width="50.71" height="33.73" fill="#2a2d17"/>
<rect x="1424.74" y="537.92" width="50.71" height="33.73" fill="#1d0d1e"/>
<rect x="1475.45" y="537.92" width="50.71" height="33.73" fill="#100810"/>
<rect x="1526.16" y="537.92" width="50.71" height="33.73" fill="#3a3d1c"/>
<rect x="1576.87" y="537.92" width="50.71" height="33.73" fill="#6a6e30"/>
<rect x="1627.58" y="537.92" width="50.71" height="33.73" fill="#2a2d17"/>
<rect x="1678.29" y="537.92" width="50.71" height="33.73" fill="#474a20"/>
<rect x="1729.00" y="537.92" width="50.71" height="33.73" fill="#380c3e"/>
<rect x="1221.90" y="571.65" width="50.71" height="33.73" fill="#14150d"/>
<rect x="1272.61" y="571.65" width="50.71" height="33.73" fill="#14150d"/>
<rect x="1323.32" y="571.65" width="50.71" height="33.73" fill="#14150d"/>
<rect x="1374.03" y="571.65" width="50.71" height="33.73" fill="#14150d"/>
<rect x="1424.74" y="571.65" width="50.71" height="33.73" fill="#474a20"/>
<rect x="1475.45" y="571.65" width="50.71" height="33.73" fill="#14150d"/>
<rect x="1526.16" y="571.65" width="50.71" height="33.73" fill="#6a6e30"/>
<rect x="1576.87" y="571.65" width="50.71" height="33.73" fill="#14150d"/>
<rect x="1627.58" y="571.65" width="50.71" height="33.73" fill="#565a28"/>
<rect x="1678.29" y="571.65" width="50.71" height="33.73" fill="#212315"/>
<rect x="1729.00" y="571.65" width="50.71" height="33.73" fill="#45104c"/>
<rect x="1221.90" y="605.38" width="50.71" height="33.73" fill="#14150d"/>
<rect x="1272.61" y="605.38" width="50.71" height="33.73" fill="#f2ea1f"/>
<rect x="1323.32" y="605.38" width="50.71" height="33.73" fill="#030506"/>
<rect x="1374.03" y="605.38" width="50.71" height="33.73" fill="#100810"/>
<rect x="1424.74" y="605.38" width="50.71" height="33.73" fill="#581b5e"/>
<rect x="1475.45" y="605.38" width="50.71" height="33.73" fill="#100810"/>
<rect x="1526.16" y="605.38" width="50.71" height="33.73" fill="#a9ab3a"/>
<rect x="1576.87" y="605.38" width="50.71" height="33.73" fill="#6a6e30"/>
<rect x="1627.58" y="605.38" width="50.71" height="33.73" fill="#14150d"/>
<rect x="1678.29" y="605.38" width="50.71" height="33.73" fill="#565a28"/>
<rect x="1729.00" y="605.38" width="50.71" height="33.73" fill="#380c3e"/>
<rect x="1221.90" y="639.11" width="50.71" height="33.73" fill="#1d0d1e"/>
<rect x="1272.61" y="639.11" width="50.71" height="33.73" fill="#2b0e2e"/>
<rect x="1323.32" y="639.11" width="50.71" height="33.73" fill="#92268f"/>
<rect x="1374.03" y="639.11" width="50.71" height="33.73" fill="#030506"/>
<rect x="1424.74" y="639.11" width="50.71" height="33.73" fill="#100810"/>
<rect x="1475.45" y="639.11" width="50.71" height="33.73" fill="#100810"/>
<rect x="1526.16" y="639.11" width="50.71" height="33.73" fill="#474a20"/>
<rect x="1576.87" y="639.11" width="50.71" height="33.73" fill="#f2ea1f"/>
<rect x="1627.58" y="639.11" width="50.71" height="33.73" fill="#030506"/>
<rect x="1678.29" y="639.11" width="50.71" height="33.73" fill="#2a2d17"/>
<rect x="1729.00" y="639.11" width="50.71" height="33.73" fill="#9a9c38"/>
<rect x="1221.90" y="672.84" width="50.71" height="33.73" fill="#212315"/>
<rect x="1272.61" y="672.84" width="50.71" height="33.73" fill="#14150d"/>
<rect x="1323.32" y="672.84" width="50.71" height="33.73" fill="#100810"/>
<rect x="1374.03" y="672.84" width="50.71" height="33.73" fill="#b84fa0"/>
<rect x="1424.74" y="672.84" width="50.71" height="33.73" fill="#380c3e"/>
<rect x="1475.45" y="672.84" width="50.71" height="33.73" fill="#6a2270"/>
<rect x="1526.16" y="672.84" width="50.71" height="33.73" fill="#14150d"/>
<rect x="1576.87" y="672.84" width="50.71" height="33.73" fill="#2a2d17"/>
<rect x="1627.58" y="672.84" width="50.71" height="33.73" fill="#030506"/>
<rect x="1678.29" y="672.84" width="50.71" height="33.73" fill="#6a6e30"/>
<rect x="1729.00" y="672.84" width="50.71" height="33.73" fill="#1d0d1e"/>
<rect x="1221.90" y="706.57" width="50.71" height="33.73" fill="#14150d"/>
<rect x="1272.61" y="706.57" width="50.71" height="33.73" fill="#1d0d1e"/>
<rect x="1323.32" y="706.57" width="50.71" height="33.73" fill="#14150d"/>
<rect x="1374.03" y="706.57" width="50.71" height="33.73" fill="#3a3d1c"/>
<rect x="1424.74" y="706.57" width="50.71" height="33.73" fill="#2b0e2e"/>
<rect x="1475.45" y="706.57" width="50.71" height="33.73" fill="#1d0d1e"/>
<rect x="1526.16" y="706.57" width="50.71" height="33.73" fill="#2b0e2e"/>
<rect x="1576.87" y="706.57" width="50.71" height="33.73" fill="#6a2270"/>
<rect x="1627.58" y="706.57" width="50.71" height="33.73" fill="#380c3e"/>
<rect x="1678.29" y="706.57" width="50.71" height="33.73" fill="#838636"/>
<rect x="1729.00" y="706.57" width="50.71" height="33.73" fill="#100810"/>
<rect x="1221.90" y="740.30" width="50.71" height="33.73" fill="#14150d"/>
<rect x="1272.61" y="740.30" width="50.71" height="33.73" fill="#83288a"/>
<rect x="1323.32" y="740.30" width="50.71" height="33.73" fill="#2b0e2e"/>
<rect x="1374.03" y="740.30" width="50.71" height="33.73" fill="#6a6e30"/>
<rect x="1424.74" y="740.30" width="50.71" height="33.73" fill="#1d0d1e"/>
<rect x="1475.45" y="740.30" width="50.71" height="33.73" fill="#45104c"/>
<rect x="1526.16" y="740.30" width="50.71" height="33.73" fill="#1d0d1e"/>
<rect x="1576.87" y="740.30" width="50.71" height="33.73" fill="#100810"/>
<rect x="1627.58" y="740.30" width="50.71" height="33.73" fill="#100810"/>
<rect x="1678.29" y="740.30" width="50.71" height="33.73" fill="#2a2d17"/>
<rect x="1729.00" y="740.30" width="50.71" height="33.73" fill="#474a20"/>
<rect x="1221.90" y="774.03" width="50.71" height="33.73" fill="#a63e98"/>
<rect x="1272.61" y="774.03" width="50.71" height="33.73" fill="#14150d"/>
<rect x="1323.32" y="774.03" width="50.71" height="33.73" fill="#1d0d1e"/>
<rect x="1374.03" y="774.03" width="50.71" height="33.73" fill="#030506"/>
<rect x="1424.74" y="774.03" width="50.71" height="33.73" fill="#030506"/>
<rect x="1475.45" y="774.03" width="50.71" height="33.73" fill="#14150d"/>
<rect x="1526.16" y="774.03" width="50.71" height="33.73" fill="#212315"/>
<rect x="1576.87" y="774.03" width="50.71" height="33.73" fill="#100810"/>
<rect x="1627.58" y="774.03" width="50.71" height="33.73" fill="#6a6e30"/>
<rect x="1678.29" y="774.03" width="50.71" height="33.73" fill="#d6d62c"/>
<rect x="1729.00" y="774.03" width="50.71" height="33.73" fill="#6a6e30"/>
<rect x="1221.90" y="807.76" width="50.71" height="33.73" fill="#1d0d1e"/>
<rect x="1272.61" y="807.76" width="50.71" height="33.73" fill="#100810"/>
<rect x="1323.32" y="807.76" width="50.71" height="33.73" fill="#1d0d1e"/>
<rect x="1374.03" y="807.76" width="50.71" height="33.73" fill="#2b0e2e"/>
<rect x="1424.74" y="807.76" width="50.71" height="33.73" fill="#45104c"/>
<rect x="1475.45" y="807.76" width="50.71" height="33.73" fill="#1d0d1e"/>
<rect x="1526.16" y="807.76" width="50.71" height="33.73" fill="#474a20"/>
<rect x="1576.87" y="807.76" width="50.71" height="33.73" fill="#14150d"/>
<rect x="1627.58" y="807.76" width="50.71" height="33.73" fill="#9a9c38"/>
<rect x="1678.29" y="807.76" width="50.71" height="33.73" fill="#565a28"/>
<rect x="1729.00" y="807.76" width="50.71" height="33.73" fill="#2b0e2e"/>
<rect x="1221.90" y="841.49" width="50.71" height="33.73" fill="#100810"/>
<rect x="1272.61" y="841.49" width="50.71" height="33.73" fill="#14150d"/>
<rect x="1323.32" y="841.49" width="50.71" height="33.73" fill="#14150d"/>
<rect x="1374.03" y="841.49" width="50.71" height="33.73" fill="#100810"/>
<rect x="1424.74" y="841.49" width="50.71" height="33.73" fill="#100810"/>
<rect x="1475.45" y="841.49" width="50.71" height="33.73" fill="#14150d"/>
<rect x="1526.16" y="841.49" width="50.71" height="33.73" fill="#14150d"/>
<rect x="1576.87" y="841.49" width="50.71" height="33.73" fill="#3a3d1c"/>
<rect x="1627.58" y="841.49" width="50.71" height="33.73" fill="#3a3d1c"/>
<rect x="1678.29" y="841.49" width="50.71" height="33.73" fill="#474a20"/>
<rect x="1729.00" y="841.49" width="50.71" height="33.73" fill="#565a28"/>
<rect x="1221.90" y="875.22" width="50.71" height="33.73" fill="#100810"/>
<rect x="1272.61" y="875.22" width="50.71" height="33.73" fill="#1d0d1e"/>
<rect x="1323.32" y="875.22" width="50.71" height="33.73" fill="#2b0e2e"/>
<rect x="1374.03" y="875.22" width="50.71" height="33.73" fill="#14150d"/>
<rect x="1424.74" y="875.22" width="50.71" height="33.73" fill="#100810"/>
<rect x="1475.45" y="875.22" width="50.71" height="33.73" fill="#14150d"/>
<rect x="1526.16" y="875.22" width="50.71" height="33.73" fill="#1d0d1e"/>
<rect x="1576.87" y="875.22" width="50.71" height="33.73" fill="#212315"/>
<rect x="1627.58" y="875.22" width="50.71" height="33.73" fill="#14150d"/>
<rect x="1678.29" y="875.22" width="50.71" height="33.73" fill="#6a6e30"/>
<rect x="1729.00" y="875.22" width="50.71" height="33.73" fill="#565a28"/>
<rect x="1221.90" y="908.95" width="50.71" height="33.73" fill="#100810"/>
<rect x="1272.61" y="908.95" width="50.71" height="33.73" fill="#14150d"/>
<rect x="1323.32" y="908.95" width="50.71" height="33.73" fill="#1d0d1e"/>
<rect x="1374.03" y="908.95" width="50.71" height="33.73" fill="#14150d"/>
<rect x="1424.74" y="908.95" width="50.71" height="33.73" fill="#100810"/>
<rect x="1475.45" y="908.95" width="50.71" height="33.73" fill="#14150d"/>
<rect x="1526.16" y="908.95" width="50.71" height="33.73" fill="#030506"/>
<rect x="1576.87" y="908.95" width="50.71" height="33.73" fill="#2a2d17"/>
<rect x="1627.58" y="908.95" width="50.71" height="33.73" fill="#2a2d17"/>
<rect x="1678.29" y="908.95" width="50.71" height="33.73" fill="#474a20"/>
<rect x="1729.00" y="908.95" width="50.71" height="33.73" fill="#3a3d1c"/>
<rect x="1221.90" y="942.68" width="50.71" height="33.73" fill="#030506"/>
<rect x="1272.61" y="942.68" width="50.71" height="33.73" fill="#100810"/>
<rect x="1323.32" y="942.68" width="50.71" height="33.73" fill="#2b0e2e"/>
<rect x="1374.03" y="942.68" width="50.71" height="33.73" fill="#14150d"/>
<rect x="1424.74" y="942.68" width="50.71" height="33.73" fill="#030506"/>
<rect x="1475.45" y="942.68" width="50.71" height="33.73" fill="#212315"/>
<rect x="1526.16" y="942.68" width="50.71" height="33.73" fill="#030506"/>
<rect x="1576.87" y="942.68" width="50.71" height="33.73" fill="#14150d"/>
<rect x="1627.58" y="942.68" width="50.71" height="33.73" fill="#14150d"/>
<rect x="1678.29" y="942.68" width="50.71" height="33.73" fill="#2a2d17"/>
<rect x="1729.00" y="942.68" width="50.71" height="33.73" fill="#474a20"/>
<rect x="1221.90" y="976.41" width="50.71" height="33.73" fill="#14150d"/>
<rect x="1272.61" y="976.41" width="50.71" height="33.73" fill="#030506"/>
<rect x="1323.32" y="976.41" width="50.71" height="33.73" fill="#100810"/>
<rect x="1374.03" y="976.41" width="50.71" height="33.73" fill="#14150d"/>
<rect x="1424.74" y="976.41" width="50.71" height="33.73" fill="#030506"/>
<rect x="1475.45" y="976.41" width="50.71" height="33.73" fill="#14150d"/>
<rect x="1526.16" y="976.41" width="50.71" height="33.73" fill="#1d0d1e"/>
<rect x="1576.87" y="976.41" width="50.71" height="33.73" fill="#14150d"/>
<rect x="1627.58" y="976.41" width="50.71" height="33.73" fill="#14150d"/>
<rect x="1678.29" y="976.41" width="50.71" height="33.73" fill="#474a20"/>
<rect x="1729.00" y="976.41" width="50.71" height="33.73" fill="#474a20"/>
<rect x="1221.90" y="1010.14" width="50.71" height="33.73" fill="#030506"/>
<rect x="1272.61" y="1010.14" width="50.71" height="33.73" fill="#100810"/>
<rect x="1323.32" y="1010.14" width="50.71" height="33.73" fill="#1d0d1e"/>
<rect x="1374.03" y="1010.14" width="50.71" height="33.73" fill="#14150d"/>
<rect x="1424.74" y="1010.14" width="50.71" height="33.73" fill="#030506"/>
<rect x="1475.45" y="1010.14" width="50.71" height="33.73" fill="#14150d"/>
<rect x="1526.16" y="1010.14" width="50.71" height="33.73" fill="#1d0d1e"/>
<rect x="1576.87" y="1010.14" width="50.71" height="33.73" fill="#14150d"/>
<rect x="1627.58" y="1010.14" width="50.71" height="33.73" fill="#212315"/>
<rect x="1678.29" y="1010.14" width="50.71" height="33.73" fill="#474a20"/>
<rect x="1729.00" y="1010.14" width="50.71" height="33.73" fill="#474a20"/>
</g>
<g stroke="#000" stroke-width="1.2">
</g>
<g font-size="31.2" fill="#000">
<text x="1795.9" y="91.80" font-weight="bold">Sox8</text>
<text x="1795.9" y="126.10">Max</text>
<text x="1795.9" y="160.70" font-weight="bold">Ezh2</text>
<text x="1795.9" y="196.10">Stat1</text>
<text x="1795.9" y="230.20">Mafg</text>
<text x="1795.9" y="265.80" font-weight="bold">Mef2a</text>
<text x="1795.9" y="298.10">Stat3</text>
<text x="1795.9" y="334.50" font-weight="bold">Smarcc2</text>
<text x="1795.9" y="365.70">Arnt</text>
<text x="1795.9" y="399.80">Pou2f1</text>
<text x="1795.9" y="433.70">Ets1</text>
<text x="1795.9" y="470.30">Phf8</text>
<text x="1795.9" y="501.80">Fli1</text>
<text x="1795.9" y="533.60">Erg</text>
<text x="1795.9" y="566.90">Ets2</text>
<text x="1795.9" y="601.00">Zmiz1</text>
<text x="1795.9" y="635.60">Bcl6</text>
<text x="1795.9" y="666.90" font-weight="bold">Hes1</text>
<text x="1795.9" y="698.10">Bcl3</text>
<text x="1795.9" y="730.90">Phlda2</text>
<text x="1795.9" y="766.30">Irf1</text>
<text x="1795.9" y="798.10" font-weight="bold">Runx1</text>
<text x="1795.9" y="832.20" font-weight="bold">Stat6</text>
<text x="1795.9" y="867.50">Elk3</text>
<text x="1795.9" y="900.10">Fos</text>
<text x="1795.9" y="929.50">Crem</text>
<text x="1795.9" y="966.20">Fosb</text>
<text x="1795.9" y="1001.30">Atf4</text>
<text x="1795.9" y="1037.20">Atf3</text>
</g>
<g font-size="30.3" text-anchor="end">
<text transform="translate(1267.26,1063.24) rotate(-45)" fill="#d0182a">Oligodend2</text>
<text transform="translate(1313.76,1060.54) rotate(-45)" fill="#b88ac8">Microglia1</text>
<text transform="translate(1358.01,1060.89) rotate(-45)" fill="#3aae4a">Mossy</text>
<text transform="translate(1412.56,1059.54) rotate(-45)" fill="#f79a6a">OPC</text>
<text transform="translate(1459.10,1056.10) rotate(-45)" fill="#a0562a">Endothelial</text>
<text transform="translate(1508.86,1060.84) rotate(-45)" fill="#e0a838">Microglia2</text>
<text transform="translate(1562.20,1056.10) rotate(-45)" fill="#1fa3d8">ExcitNeuron</text>
<text transform="translate(1615.00,1058.50) rotate(-45)" fill="#1848a0">InhibNeuron</text>
<text transform="translate(1664.46,1056.34) rotate(-45)" fill="#9bc83a">Granule</text>
<text transform="translate(1722.56,1063.44) rotate(-45)" fill="#6a52a8">AstroSub1</text>
<text transform="translate(1783.36,1061.14) rotate(-45)" fill="#f0529a">Oligodend1</text>
</g>
<g fill="none" stroke="#27b0ee" stroke-width="3.5" stroke-dasharray="3.5 3.8">
<rect x="550.2" y="620.2" width="233.5" height="383.7"/>
<rect x="1679.9" y="906.5" width="238.5" height="139.1"/>
</g>
<defs><linearGradient id="cb" x1="0" y1="0" x2="0" y2="1">
<stop offset="0" stop-color="#f2ea1c"/><stop offset="0.03" stop-color="#f0e81e"/>
<stop offset="0.15" stop-color="#b8b83a"/><stop offset="0.26" stop-color="#7a7c35"/>
<stop offset="0.38" stop-color="#2e3018"/><stop offset="0.45" stop-color="#14150c"/>
<stop offset="0.495" stop-color="#020404"/><stop offset="0.56" stop-color="#1a0e1c"/>
<stop offset="0.62" stop-color="#2b0e2e"/><stop offset="0.67" stop-color="#3a0c40"/>
<stop offset="0.76" stop-color="#6a2870"/><stop offset="0.84" stop-color="#8e2690"/>
<stop offset="0.92" stop-color="#a8409a"/><stop offset="1" stop-color="#b8509c"/>
</linearGradient></defs>
<rect x="1012.9" y="334.3" width="37.7" height="440.7" fill="url(#cb)"/>
<g font-size="20" fill="#4d4d4d">
<text x="1063.5" y="353.6">1.5</text>
<text x="1063.5" y="508.2">0.5</text>
<text x="1069" y="560">0</text>
<text x="1062.5" y="616.5">-0.5</text>
<text x="1067.5" y="774">-1.5</text>
</g>
<g font-size="20.4" fill="#4d4d4d"><text x="984.5" y="802.3">Fold change</text><text x="984.5" y="827.5">(Ft/Sham)</text></g>
<g font-size="49" font-weight="bold" fill="#000">
<text x="15.5" y="36.8">a</text><text x="1149.5" y="36.3">b</text><text x="15.5" y="1275">c</text><text x="1135" y="1278.6">d</text>
</g>
<g font-size="28" fill="#000">
<text x="102.3" y="31" textLength="527.2" lengthAdjust="spacing"><tspan fill="#6a2c91">dorDG</tspan>: Differentially active regulons</text>
<text x="1241.7" y="27.6" textLength="531.9" lengthAdjust="spacing"><tspan fill="#b5282d">venDG</tspan>: Differentially active regulons</text>
<text x="217.5" y="1267.6" textLength="424.3" lengthAdjust="spacing">dorDG: cell - cell interactions</text>
<text x="1326.8" y="1260.7" textLength="429.2" lengthAdjust="spacing">venDG: cell - cell interactions</text>
</g>
<g stroke-width="2">
<line x1="102.3" x2="196" y1="34.8" y2="34.8" stroke="#6a2c91"/><line x1="196" x2="629.5" y1="34.8" y2="34.8" stroke="#000"/>
<line x1="1241.7" x2="1340.3" y1="31.2" y2="31.2" stroke="#b5282d"/><line x1="1340.3" x2="1773.6" y1="31.2" y2="31.2" stroke="#000"/>
<line x1="217.5" x2="641.8" y1="1271.6" y2="1271.6" stroke="#000"/>
<line x1="1326.8" x2="1756" y1="1264.7" y2="1264.7" stroke="#000"/>
</g>
<g fill="none">
<path d="M120.4 1312.2 V2101.2" stroke="#505256" stroke-width="1.5"/><path d="M119.7 2101.2 H923.6" stroke="#000" stroke-width="1.7"/>
</g>
<g stroke="#505256" stroke-width="1.3">
<line x1="229.6" x2="229.6" y1="2101.7" y2="2107"/>
<line x1="375.6" x2="375.6" y1="2101.7" y2="2107"/>
<line x1="521.6" x2="521.6" y1="2101.7" y2="2107"/>
<line x1="667.6" x2="667.6" y1="2101.7" y2="2107"/>
<line x1="813.6" x2="813.6" y1="2101.7" y2="2107"/>
<line x1="114" x2="120.4" y1="2069.1" y2="2069.1"/>
<line x1="114" x2="120.4" y1="1822.1" y2="1822.1"/>
<line x1="114" x2="120.4" y1="1575.1" y2="1575.1"/>
<line x1="114" x2="120.4" y1="1328.1" y2="1328.1"/>
</g>
<g font-size="17" fill="#4d4d4d" text-anchor="middle">
<text x="224.8" y="2124.8">−0.10</text>
<text x="370.8" y="2124.8">−0.05</text>
<text x="521.6" y="2124.8">0.00</text>
<text x="667.6" y="2124.8">0.05</text>
<text x="813.6" y="2124.8">0.10</text>
</g><g font-size="17" fill="#4d4d4d" text-anchor="end">
<text x="111.8" y="2077.7">0.00</text>
<text x="111.8" y="1830.7">0.05</text>
<text x="111.8" y="1583.7">0.10</text>
<text x="111.8" y="1336.7">0.15</text>
</g>
<g font-size="29.64" fill="#000" text-anchor="middle">
<text x="550" y="2164.3">Difference in mean specificity score</text>
<text transform="translate(56,1684) rotate(-90)">Higher mean specificity score</text>
</g>
<g stroke="#111" stroke-width="2.1" stroke-dasharray="15.8 15.75" fill="none">
<line x1="434.4" x2="434.4" y1="1312.2" y2="2101" stroke-dashoffset="15.2"/>
<line x1="609.6" x2="609.6" y1="1312.2" y2="2101" stroke-dashoffset="15.2"/>
<line x1="120.3" x2="923.6" y1="1822.1" y2="1822.1"/>
</g>
<g><circle cx="583.4" cy="1938.7" r="6.5" fill="#ab92cc"/>
<circle cx="574.8" cy="1957.0" r="7.5" fill="#8f6db9"/>
<circle cx="535.3" cy="2039.2" r="7.7" fill="#cbb8e0"/>
<circle cx="600.6" cy="1900.4" r="6.8" fill="#8f6db9"/>
<circle cx="477.7" cy="1966.8" r="7.2" fill="#9b7cc0"/>
<circle cx="574.2" cy="1966.7" r="7.4" fill="#7a52ab"/>
<circle cx="492.1" cy="1988.2" r="6.7" fill="#ab92cc"/>
<circle cx="586.8" cy="1943.8" r="7.8" fill="#9777be"/>
<circle cx="555.6" cy="1998.9" r="8.2" fill="#8f6db9"/>
<circle cx="607.5" cy="1902.7" r="7.3" fill="#9b7cc0"/>
<circle cx="461.1" cy="1934.7" r="6.4" fill="#9777be"/>
<circle cx="596.5" cy="1916.3" r="7.5" fill="#8f6db9"/>
<circle cx="460.4" cy="1921.1" r="7.9" fill="#9b7cc0"/>
<circle cx="563.1" cy="1988.2" r="6.4" fill="#6a3ea2"/>
<circle cx="492.0" cy="1999.0" r="6.5" fill="#cbb8e0"/>
<circle cx="570.2" cy="1975.3" r="8.0" fill="#8460b2"/>
<circle cx="460.9" cy="1898.9" r="7.7" fill="#ab92cc"/>
<circle cx="496.4" cy="2009.4" r="6.8" fill="#8460b2"/>
<circle cx="455.9" cy="1902.3" r="7.7" fill="#cbb8e0"/>
<circle cx="585.0" cy="1932.4" r="7.8" fill="#8f6db9"/>
<circle cx="540.4" cy="2028.5" r="7.0" fill="#a286c6"/>
<circle cx="583.1" cy="1921.5" r="6.3" fill="#cbb8e0"/>
<circle cx="501.7" cy="2021.9" r="8.0" fill="#9777be"/>
<circle cx="462.8" cy="1925.2" r="6.9" fill="#9b7cc0"/>
<circle cx="496.5" cy="1999.5" r="7.2" fill="#ab92cc"/>
<circle cx="450.1" cy="1921.0" r="7.8" fill="#8460b2"/>
<circle cx="620.3" cy="1895.1" r="7.8" fill="#9b7cc0"/>
<circle cx="535.2" cy="2036.2" r="7.9" fill="#8460b2"/>
<circle cx="482.6" cy="1963.3" r="8.2" fill="#b7a0d4"/>
<circle cx="597.9" cy="1926.0" r="8.1" fill="#a286c6"/>
<circle cx="594.0" cy="1911.5" r="7.9" fill="#ab92cc"/>
<circle cx="517.1" cy="2052.2" r="7.6" fill="#9b7cc0"/>
<circle cx="506.1" cy="2029.7" r="7.8" fill="#8f6db9"/>
<circle cx="494.8" cy="2004.5" r="7.0" fill="#9b7cc0"/>
<circle cx="528.0" cy="2048.8" r="7.8" fill="#b7a0d4"/>
<circle cx="511.3" cy="2035.9" r="6.7" fill="#b7a0d4"/>
<circle cx="497.6" cy="2013.7" r="8.0" fill="#9b7cc0"/>
<circle cx="593.2" cy="1910.0" r="7.4" fill="#b7a0d4"/>
<circle cx="488.7" cy="1970.7" r="6.5" fill="#b7a0d4"/>
<circle cx="568.4" cy="1975.9" r="7.1" fill="#9b7cc0"/>
<circle cx="598.6" cy="1928.1" r="6.3" fill="#7a52ab"/>
<circle cx="539.5" cy="2030.0" r="8.2" fill="#8460b2"/>
<circle cx="544.0" cy="2020.8" r="6.3" fill="#9b7cc0"/>
<circle cx="558.4" cy="1991.4" r="7.9" fill="#8460b2"/>
<circle cx="551.8" cy="1993.3" r="6.7" fill="#b7a0d4"/>
<circle cx="581.1" cy="1942.3" r="6.3" fill="#cbb8e0"/>
<circle cx="567.3" cy="1977.2" r="6.2" fill="#ab92cc"/>
<circle cx="598.5" cy="1917.5" r="7.1" fill="#7a52ab"/>
<circle cx="580.7" cy="1945.8" r="6.2" fill="#9777be"/>
<circle cx="489.2" cy="1990.2" r="7.8" fill="#a286c6"/>
<circle cx="471.1" cy="1966.2" r="7.2" fill="#8f6db9"/>
<circle cx="484.9" cy="1983.1" r="6.8" fill="#8460b2"/>
<circle cx="493.7" cy="1995.4" r="7.1" fill="#8f6db9"/>
<circle cx="582.8" cy="1948.0" r="7.4" fill="#8f6db9"/>
<circle cx="547.3" cy="2017.4" r="6.9" fill="#9777be"/>
<circle cx="619.8" cy="1885.4" r="7.7" fill="#8f6db9"/>
<circle cx="612.4" cy="1894.6" r="7.9" fill="#9777be"/>
<circle cx="469.8" cy="1952.0" r="8.2" fill="#7a52ab"/>
<circle cx="450.4" cy="1887.7" r="7.5" fill="#ab92cc"/>
<circle cx="500.3" cy="2012.3" r="6.6" fill="#a286c6"/>
<circle cx="585.1" cy="1906.1" r="6.2" fill="#cbb8e0"/>
<circle cx="556.7" cy="2001.2" r="7.5" fill="#9b7cc0"/>
<circle cx="476.0" cy="1961.6" r="8.1" fill="#9b7cc0"/>
<circle cx="568.2" cy="1977.7" r="7.6" fill="#7a52ab"/>
<circle cx="592.6" cy="1914.8" r="8.2" fill="#8f6db9"/>
<circle cx="461.1" cy="1911.9" r="6.6" fill="#ab92cc"/>
<circle cx="550.4" cy="2010.5" r="6.7" fill="#9777be"/>
<circle cx="541.3" cy="2027.4" r="7.7" fill="#6a3ea2"/>
<circle cx="511.4" cy="2046.9" r="8.0" fill="#8f6db9"/>
<circle cx="493.7" cy="2003.0" r="6.7" fill="#9b7cc0"/>
<circle cx="470.0" cy="1942.3" r="7.1" fill="#cbb8e0"/>
<circle cx="461.4" cy="1920.2" r="6.8" fill="#9777be"/>
<circle cx="573.1" cy="1945.5" r="8.0" fill="#b7a0d4"/>
<circle cx="465.7" cy="1933.4" r="6.7" fill="#ab92cc"/>
<circle cx="593.4" cy="1913.7" r="7.2" fill="#ab92cc"/>
<circle cx="576.9" cy="1947.3" r="6.5" fill="#9b7cc0"/>
<circle cx="534.5" cy="2039.0" r="7.0" fill="#ab92cc"/>
<circle cx="456.0" cy="1887.1" r="7.7" fill="#9777be"/>
<circle cx="574.8" cy="1952.2" r="7.6" fill="#9777be"/>
<circle cx="574.5" cy="1953.2" r="7.8" fill="#ab92cc"/>
<circle cx="545.8" cy="2016.1" r="7.1" fill="#ab92cc"/>
<circle cx="522.3" cy="2062.1" r="7.2" fill="#ab92cc"/>
<circle cx="578.4" cy="1924.6" r="7.4" fill="#cbb8e0"/>
<circle cx="607.2" cy="1913.3" r="6.3" fill="#6a3ea2"/>
<circle cx="548.4" cy="2007.4" r="6.7" fill="#ab92cc"/>
<circle cx="542.4" cy="2025.8" r="7.5" fill="#8460b2"/>
<circle cx="499.1" cy="2014.0" r="7.1" fill="#7a52ab"/>
<circle cx="484.3" cy="1988.0" r="6.9" fill="#8f6db9"/>
<circle cx="474.3" cy="1930.7" r="6.9" fill="#cbb8e0"/>
<circle cx="519.2" cy="2063.3" r="6.8" fill="#8f6db9"/>
<circle cx="489.2" cy="2001.1" r="6.6" fill="#9777be"/>
<circle cx="502.7" cy="2027.4" r="7.9" fill="#8f6db9"/>
<circle cx="589.1" cy="1928.9" r="6.8" fill="#7a52ab"/>
<circle cx="528.8" cy="2048.4" r="7.7" fill="#b7a0d4"/>
<circle cx="547.3" cy="2012.0" r="6.5" fill="#8460b2"/>
<circle cx="513.2" cy="2041.7" r="6.6" fill="#cbb8e0"/>
<circle cx="503.5" cy="2024.3" r="6.3" fill="#8f6db9"/>
<circle cx="590.3" cy="1923.7" r="7.2" fill="#7a52ab"/>
<circle cx="578.7" cy="1956.9" r="8.1" fill="#8460b2"/>
<circle cx="535.2" cy="2038.7" r="8.0" fill="#8f6db9"/>
<circle cx="556.0" cy="1989.1" r="7.0" fill="#9777be"/>
<circle cx="434.1" cy="1887.4" r="7.3" fill="#8460b2"/>
<circle cx="606.7" cy="1896.1" r="7.9" fill="#6a3ea2"/>
<circle cx="589.3" cy="1944.1" r="7.0" fill="#7a52ab"/>
<circle cx="601.6" cy="1887.2" r="6.4" fill="#b7a0d4"/>
<circle cx="519.9" cy="2062.6" r="7.0" fill="#a286c6"/>
<circle cx="563.3" cy="1992.5" r="7.5" fill="#8460b2"/>
<circle cx="590.2" cy="1920.6" r="7.6" fill="#9b7cc0"/>
<circle cx="560.2" cy="1968.7" r="7.0" fill="#cbb8e0"/>
<circle cx="530.2" cy="2045.4" r="8.1" fill="#9b7cc0"/>
<circle cx="534.8" cy="2037.7" r="6.6" fill="#ab92cc"/>
<circle cx="513.3" cy="2046.0" r="7.8" fill="#8460b2"/>
<circle cx="539.0" cy="2020.2" r="7.4" fill="#cbb8e0"/>
<circle cx="453.6" cy="1892.9" r="7.5" fill="#cbb8e0"/>
<circle cx="544.0" cy="2012.8" r="7.0" fill="#9b7cc0"/>
<circle cx="492.5" cy="2004.9" r="7.0" fill="#8460b2"/>
<circle cx="561.0" cy="1995.6" r="6.3" fill="#7a52ab"/>
<circle cx="601.2" cy="1901.1" r="7.9" fill="#a286c6"/>
<circle cx="566.9" cy="1985.5" r="7.3" fill="#8f6db9"/>
<circle cx="524.0" cy="2059.5" r="6.8" fill="#9b7cc0"/>
<circle cx="470.7" cy="1942.3" r="7.8" fill="#9b7cc0"/>
<circle cx="440.5" cy="1893.8" r="7.2" fill="#8460b2"/>
<circle cx="508.9" cy="2036.9" r="7.9" fill="#ab92cc"/>
<circle cx="510.1" cy="2038.0" r="7.9" fill="#a286c6"/>
<circle cx="598.7" cy="1903.6" r="6.7" fill="#9b7cc0"/>
<circle cx="563.2" cy="1975.2" r="6.3" fill="#9b7cc0"/>
<circle cx="453.2" cy="1900.7" r="7.8" fill="#8460b2"/>
<circle cx="610.1" cy="1885.7" r="6.4" fill="#a286c6"/>
<circle cx="506.5" cy="2035.1" r="7.7" fill="#8460b2"/>
<circle cx="516.3" cy="2055.2" r="6.4" fill="#9b7cc0"/>
<circle cx="488.7" cy="1975.7" r="6.6" fill="#cbb8e0"/>
<circle cx="485.2" cy="1973.3" r="7.3" fill="#ab92cc"/>
<circle cx="613.9" cy="1885.4" r="6.4" fill="#7a52ab"/>
<circle cx="468.5" cy="1947.7" r="7.0" fill="#ab92cc"/>
<circle cx="589.5" cy="1895.4" r="7.9" fill="#ab92cc"/>
<circle cx="522.7" cy="2062.7" r="6.8" fill="#9b7cc0"/>
<circle cx="558.3" cy="1999.1" r="6.9" fill="#8460b2"/>
<circle cx="548.3" cy="2017.3" r="8.0" fill="#7a52ab"/>
<circle cx="448.2" cy="1899.7" r="6.2" fill="#8f6db9"/>
<circle cx="501.5" cy="2024.7" r="7.5" fill="#7a52ab"/>
<circle cx="562.0" cy="1965.7" r="8.0" fill="#b7a0d4"/>
<circle cx="454.7" cy="1914.8" r="6.9" fill="#8f6db9"/>
<circle cx="549.0" cy="1994.4" r="8.0" fill="#cbb8e0"/>
<circle cx="598.7" cy="1925.5" r="7.0" fill="#9777be"/>
<circle cx="619.6" cy="1886.3" r="7.6" fill="#8f6db9"/>
<circle cx="549.3" cy="2002.2" r="7.2" fill="#cbb8e0"/>
<circle cx="464.0" cy="1920.4" r="6.7" fill="#9b7cc0"/>
<circle cx="588.8" cy="1930.3" r="6.6" fill="#ab92cc"/>
<circle cx="583.5" cy="1926.0" r="7.4" fill="#b7a0d4"/>
<circle cx="503.8" cy="2021.5" r="7.4" fill="#a286c6"/>
<circle cx="603.6" cy="1889.1" r="8.0" fill="#ab92cc"/>
<circle cx="585.5" cy="1947.4" r="7.2" fill="#6a3ea2"/>
<circle cx="574.1" cy="1960.6" r="6.8" fill="#8f6db9"/>
<circle cx="574.5" cy="1962.3" r="6.2" fill="#8f6db9"/>
<circle cx="555.9" cy="1984.1" r="8.0" fill="#cbb8e0"/>
<circle cx="598.1" cy="1911.5" r="7.2" fill="#9777be"/>
<circle cx="509.4" cy="2044.1" r="7.1" fill="#8460b2"/>
<circle cx="536.1" cy="2041.8" r="8.1" fill="#9777be"/>
<circle cx="500.1" cy="2014.9" r="7.3" fill="#9b7cc0"/>
<circle cx="603.3" cy="1884.8" r="7.1" fill="#a286c6"/>
<circle cx="542.8" cy="2009.5" r="6.3" fill="#9b7cc0"/>
<circle cx="564.0" cy="1957.8" r="6.8" fill="#cbb8e0"/>
<circle cx="508.9" cy="2036.2" r="6.2" fill="#b7a0d4"/>
<circle cx="582.9" cy="1911.6" r="7.7" fill="#cbb8e0"/>
<circle cx="572.0" cy="1953.3" r="6.8" fill="#8f6db9"/>
<circle cx="524.3" cy="2061.4" r="7.7" fill="#8f6db9"/>
<circle cx="531.9" cy="2043.3" r="7.4" fill="#cbb8e0"/>
<circle cx="511.8" cy="2039.4" r="7.4" fill="#b7a0d4"/>
<circle cx="557.7" cy="1994.6" r="6.8" fill="#a286c6"/>
<circle cx="551.2" cy="2007.3" r="6.3" fill="#a286c6"/>
<circle cx="445.3" cy="1905.6" r="7.8" fill="#9b7cc0"/>
<circle cx="487.3" cy="1984.6" r="6.6" fill="#9777be"/>
<circle cx="587.0" cy="1927.6" r="7.5" fill="#b7a0d4"/>
<circle cx="613.4" cy="1887.5" r="6.8" fill="#8f6db9"/>
<circle cx="594.7" cy="1906.2" r="7.1" fill="#a286c6"/>
<circle cx="537.5" cy="2037.2" r="6.4" fill="#a286c6"/>
<circle cx="613.9" cy="1900.9" r="6.3" fill="#6a3ea2"/>
<circle cx="471.6" cy="1955.8" r="6.6" fill="#8460b2"/>
<circle cx="606.8" cy="1895.6" r="7.8" fill="#8460b2"/>
<circle cx="484.8" cy="1996.7" r="7.6" fill="#6a3ea2"/>
<circle cx="461.2" cy="1932.6" r="6.3" fill="#8460b2"/>
<circle cx="599.8" cy="1897.1" r="6.8" fill="#ab92cc"/>
<circle cx="573.2" cy="1962.5" r="8.2" fill="#9777be"/>
<circle cx="565.9" cy="1990.6" r="7.5" fill="#6a3ea2"/>
<circle cx="588.2" cy="1927.1" r="6.7" fill="#ab92cc"/>
<circle cx="542.9" cy="2021.0" r="6.7" fill="#9777be"/>
<circle cx="569.3" cy="1963.3" r="7.0" fill="#ab92cc"/>
<circle cx="566.4" cy="1978.0" r="6.2" fill="#ab92cc"/>
<circle cx="584.4" cy="1935.2" r="7.2" fill="#ab92cc"/>
<circle cx="601.3" cy="1903.3" r="7.2" fill="#b7a0d4"/>
<circle cx="593.5" cy="1911.5" r="6.4" fill="#a286c6"/>
<circle cx="485.3" cy="1971.9" r="6.5" fill="#b7a0d4"/>
<circle cx="563.5" cy="1976.4" r="6.2" fill="#9777be"/>
<circle cx="455.0" cy="1890.3" r="7.3" fill="#9b7cc0"/>
<circle cx="511.5" cy="2040.3" r="7.6" fill="#b7a0d4"/>
<circle cx="528.6" cy="2050.4" r="7.2" fill="#8f6db9"/>
<circle cx="511.0" cy="2046.1" r="7.8" fill="#6a3ea2"/>
<circle cx="487.0" cy="1986.0" r="7.2" fill="#9777be"/>
<circle cx="514.6" cy="2053.1" r="8.0" fill="#8f6db9"/>
<circle cx="467.5" cy="1944.4" r="7.1" fill="#ab92cc"/>
<circle cx="562.4" cy="1969.3" r="6.9" fill="#b7a0d4"/>
<circle cx="482.6" cy="1953.9" r="7.2" fill="#ab92cc"/>
<circle cx="554.7" cy="2003.4" r="6.7" fill="#9777be"/>
<circle cx="436.4" cy="1898.1" r="8.5" fill="#8f6db9"/>
<circle cx="541.9" cy="2025.1" r="6.3" fill="#8f6db9"/>
<circle cx="467.9" cy="1930.6" r="6.4" fill="#9777be"/>
<circle cx="547.2" cy="2013.5" r="7.1" fill="#ab92cc"/>
<circle cx="477.0" cy="1947.3" r="7.5" fill="#ab92cc"/>
<circle cx="492.0" cy="1989.8" r="7.8" fill="#ab92cc"/>
<circle cx="551.6" cy="1992.0" r="7.8" fill="#a286c6"/>
<circle cx="566.7" cy="1965.0" r="6.4" fill="#ab92cc"/>
<circle cx="488.9" cy="1990.3" r="8.2" fill="#9777be"/>
<circle cx="479.1" cy="1967.1" r="7.5" fill="#7a52ab"/>
<circle cx="493.3" cy="2004.7" r="6.8" fill="#ab92cc"/>
<circle cx="539.1" cy="2029.3" r="6.7" fill="#9777be"/>
<circle cx="548.9" cy="2018.3" r="7.3" fill="#a286c6"/>
<circle cx="513.0" cy="2039.0" r="7.8" fill="#cbb8e0"/>
<circle cx="589.4" cy="1916.6" r="6.9" fill="#cbb8e0"/>
<circle cx="546.6" cy="2002.4" r="6.5" fill="#c0a9d9"/>
<circle cx="541.9" cy="2030.5" r="6.7" fill="#6a3ea2"/>
<circle cx="538.3" cy="2035.9" r="7.2" fill="#9b7cc0"/>
<circle cx="459.8" cy="1920.1" r="6.9" fill="#8460b2"/>
<circle cx="529.0" cy="2043.3" r="6.9" fill="#cbb8e0"/>
<circle cx="477.5" cy="1947.6" r="7.8" fill="#cbb8e0"/>
<circle cx="509.6" cy="2042.9" r="7.6" fill="#7a52ab"/>
<circle cx="598.6" cy="1933.8" r="7.1" fill="#6a3ea2"/>
<circle cx="437.1" cy="1902.2" r="6.9" fill="#6a3ea2"/>
<circle cx="600.0" cy="1890.7" r="8.1" fill="#9777be"/>
<circle cx="590.5" cy="1902.7" r="6.7" fill="#a286c6"/>
<circle cx="536.1" cy="2042.8" r="7.5" fill="#6a3ea2"/>
<circle cx="594.4" cy="1909.5" r="8.1" fill="#cbb8e0"/>
<circle cx="457.7" cy="1897.4" r="8.2" fill="#cbb8e0"/>
<circle cx="606.9" cy="1903.8" r="7.3" fill="#9b7cc0"/>
<circle cx="463.0" cy="1920.1" r="8.0" fill="#b7a0d4"/>
<circle cx="546.3" cy="2015.1" r="6.7" fill="#9777be"/>
<circle cx="496.4" cy="2015.2" r="6.6" fill="#7a52ab"/>
<circle cx="567.3" cy="1949.7" r="7.7" fill="#cbb8e0"/>
<circle cx="542.1" cy="2024.9" r="6.6" fill="#7a52ab"/>
<circle cx="559.6" cy="1990.5" r="7.9" fill="#9777be"/>
<circle cx="470.9" cy="1952.8" r="8.2" fill="#9777be"/>
<circle cx="550.3" cy="2014.7" r="7.5" fill="#8f6db9"/>
<circle cx="535.7" cy="2029.8" r="6.5" fill="#a286c6"/>
<circle cx="565.0" cy="1993.0" r="8.1" fill="#6a3ea2"/>
<circle cx="559.9" cy="1999.4" r="8.0" fill="#a286c6"/>
<circle cx="453.1" cy="1912.4" r="8.0" fill="#a286c6"/>
<circle cx="463.1" cy="1943.1" r="7.7" fill="#6a3ea2"/>
<circle cx="607.1" cy="1910.0" r="6.6" fill="#6a3ea2"/>
<circle cx="617.7" cy="1885.6" r="6.5" fill="#9777be"/>
<circle cx="589.7" cy="1911.9" r="7.9" fill="#8460b2"/>
<circle cx="454.6" cy="1887.6" r="6.5" fill="#8460b2"/>
<circle cx="564.6" cy="1967.9" r="6.9" fill="#9777be"/>
<circle cx="490.9" cy="1985.4" r="6.6" fill="#cbb8e0"/>
<circle cx="481.1" cy="1987.7" r="6.8" fill="#6a3ea2"/>
<circle cx="562.1" cy="1970.0" r="7.1" fill="#ab92cc"/>
<circle cx="599.7" cy="1915.1" r="7.3" fill="#b7a0d4"/>
<circle cx="475.9" cy="1972.2" r="7.2" fill="#6a3ea2"/>
<circle cx="528.4" cy="2053.1" r="8.0" fill="#a286c6"/>
<circle cx="563.9" cy="1977.0" r="6.5" fill="#9b7cc0"/>
<circle cx="479.6" cy="1968.0" r="7.1" fill="#9777be"/>
<circle cx="476.0" cy="1973.9" r="6.6" fill="#6a3ea2"/>
<circle cx="518.0" cy="2060.5" r="6.4" fill="#6a3ea2"/>
<circle cx="540.5" cy="2026.7" r="8.0" fill="#a286c6"/>
<circle cx="612.5" cy="1898.8" r="7.0" fill="#9777be"/>
<circle cx="434.7" cy="1891.5" r="7.1" fill="#9777be"/>
<circle cx="528.1" cy="2051.0" r="7.0" fill="#b7a0d4"/>
<circle cx="577.8" cy="1970.5" r="7.2" fill="#7a52ab"/>
<circle cx="534.5" cy="2039.2" r="7.5" fill="#9777be"/>
<circle cx="574.2" cy="1964.6" r="7.7" fill="#7a52ab"/>
<circle cx="451.9" cy="1890.9" r="8.3" fill="#a286c6"/>
<circle cx="467.4" cy="1930.9" r="6.7" fill="#9b7cc0"/>
<circle cx="438.1" cy="1903.4" r="7.4" fill="#7a52ab"/>
<circle cx="589.5" cy="1920.1" r="7.8" fill="#9777be"/>
<circle cx="489.5" cy="1986.4" r="6.3" fill="#8f6db9"/>
<circle cx="530.8" cy="2045.7" r="8.0" fill="#ab92cc"/>
<circle cx="460.5" cy="1895.3" r="6.6" fill="#cbb8e0"/>
<circle cx="507.1" cy="2035.1" r="7.9" fill="#a286c6"/>
<circle cx="605.4" cy="1909.7" r="7.1" fill="#6a3ea2"/>
<circle cx="545.0" cy="2015.1" r="7.2" fill="#9b7cc0"/>
<circle cx="550.5" cy="2015.3" r="6.9" fill="#8f6db9"/>
<circle cx="486.5" cy="1984.6" r="7.6" fill="#9b7cc0"/>
<circle cx="506.2" cy="2029.5" r="7.7" fill="#a286c6"/>
<circle cx="535.9" cy="2038.4" r="7.8" fill="#9777be"/>
<circle cx="459.7" cy="1891.9" r="6.8" fill="#cbb8e0"/>
<circle cx="460.2" cy="1924.7" r="6.6" fill="#8460b2"/>
<circle cx="593.9" cy="1908.5" r="8.1" fill="#8460b2"/>
<circle cx="454.9" cy="1902.7" r="8.5" fill="#9777be"/>
<circle cx="587.7" cy="1930.9" r="7.4" fill="#9b7cc0"/>
<circle cx="606.9" cy="1889.8" r="7.0" fill="#8f6db9"/>
<circle cx="453.7" cy="1923.5" r="7.9" fill="#9777be"/>
<circle cx="545.0" cy="2020.7" r="7.9" fill="#9b7cc0"/>
<circle cx="572.1" cy="1953.1" r="7.7" fill="#7a52ab"/>
<circle cx="516.6" cy="2056.4" r="7.1" fill="#6a3ea2"/>
<circle cx="507.2" cy="2032.6" r="7.6" fill="#9b7cc0"/>
<circle cx="608.1" cy="1906.5" r="6.6" fill="#9777be"/>
<circle cx="589.9" cy="1908.1" r="7.1" fill="#cbb8e0"/>
<circle cx="536.1" cy="2035.3" r="7.0" fill="#8f6db9"/>
<circle cx="573.1" cy="1959.9" r="7.3" fill="#ab92cc"/>
<circle cx="450.3" cy="1898.3" r="6.8" fill="#ab92cc"/>
<circle cx="514.4" cy="2050.4" r="7.6" fill="#b7a0d4"/>
<circle cx="570.2" cy="1948.6" r="6.4" fill="#ab92cc"/>
<circle cx="599.0" cy="1914.0" r="7.6" fill="#a286c6"/>
<circle cx="446.6" cy="1910.0" r="7.7" fill="#9777be"/>
<circle cx="466.2" cy="1934.3" r="8.2" fill="#9777be"/>
<circle cx="545.6" cy="2017.5" r="7.9" fill="#8f6db9"/>
<circle cx="482.8" cy="1962.3" r="6.9" fill="#cbb8e0"/>
<circle cx="599.4" cy="1892.0" r="6.5" fill="#cbb8e0"/>
<circle cx="586.0" cy="1955.2" r="6.8" fill="#9777be"/>
<circle cx="529.8" cy="2042.1" r="7.4" fill="#ab92cc"/>
<circle cx="520.4" cy="2062.0" r="7.4" fill="#cbb8e0"/>
<circle cx="567.3" cy="1969.7" r="7.2" fill="#8f6db9"/>
<circle cx="532.4" cy="2025.0" r="7.6" fill="#cbb8e0"/>
<circle cx="593.4" cy="1898.6" r="6.7" fill="#b7a0d4"/>
<circle cx="591.7" cy="1902.7" r="6.6" fill="#a286c6"/>
<circle cx="432.1" cy="1901.4" r="7.0" fill="#9777be"/>
<circle cx="585.7" cy="1924.1" r="6.2" fill="#cbb8e0"/>
<circle cx="559.0" cy="1989.2" r="6.6" fill="#b7a0d4"/>
<circle cx="498.8" cy="2014.8" r="7.4" fill="#a286c6"/>
<circle cx="520.4" cy="2061.9" r="7.1" fill="#9777be"/>
<circle cx="562.7" cy="1983.4" r="7.3" fill="#9777be"/>
<circle cx="473.2" cy="1948.2" r="6.7" fill="#a286c6"/>
<circle cx="594.3" cy="1924.8" r="8.0" fill="#7a52ab"/>
<circle cx="536.3" cy="2033.0" r="7.6" fill="#ab92cc"/>
<circle cx="609.5" cy="1879.4" r="7.5" fill="#a286c6"/>
<circle cx="501.1" cy="2021.0" r="6.6" fill="#9b7cc0"/>
<circle cx="563.6" cy="1983.5" r="7.9" fill="#9777be"/>
<circle cx="512.9" cy="2045.5" r="7.9" fill="#9b7cc0"/>
<circle cx="570.3" cy="1962.9" r="6.8" fill="#a286c6"/>
<circle cx="514.0" cy="2043.7" r="7.1" fill="#cbb8e0"/>
<circle cx="587.2" cy="1929.0" r="7.4" fill="#cbb8e0"/>
<circle cx="464.5" cy="1910.8" r="6.5" fill="#cbb8e0"/>
<circle cx="583.6" cy="1929.9" r="7.3" fill="#cbb8e0"/>
<circle cx="554.3" cy="1998.9" r="7.7" fill="#9b7cc0"/>
<circle cx="567.0" cy="1941.7" r="7.3" fill="#ddd0ea"/>
<circle cx="612.1" cy="1886.3" r="7.5" fill="#6a3ea2"/>
<circle cx="472.4" cy="1945.7" r="7.4" fill="#7a52ab"/>
<circle cx="605.9" cy="1905.2" r="8.2" fill="#ab92cc"/>
<circle cx="605.0" cy="1904.1" r="6.7" fill="#6a3ea2"/>
<circle cx="525.0" cy="2056.0" r="6.3" fill="#ab92cc"/>
<circle cx="582.4" cy="1932.9" r="7.3" fill="#cbb8e0"/>
<circle cx="501.0" cy="2017.7" r="6.5" fill="#8f6db9"/>
<circle cx="615.1" cy="1885.7" r="7.8" fill="#9777be"/>
<circle cx="461.0" cy="1889.2" r="7.6" fill="#ab92cc"/>
<circle cx="445.3" cy="1900.1" r="7.0" fill="#9777be"/>
<circle cx="460.2" cy="1914.4" r="7.7" fill="#8460b2"/>
<circle cx="540.0" cy="2031.4" r="8.0" fill="#ab92cc"/>
<circle cx="485.8" cy="1969.1" r="7.8" fill="#ab92cc"/>
<circle cx="592.7" cy="1937.6" r="6.4" fill="#9b7cc0"/>
<circle cx="509.3" cy="2043.8" r="7.6" fill="#9777be"/>
<circle cx="580.5" cy="1926.9" r="7.8" fill="#cbb8e0"/>
<circle cx="538.2" cy="2029.3" r="7.6" fill="#b7a0d4"/>
<circle cx="494.2" cy="1998.2" r="6.7" fill="#ab92cc"/>
<circle cx="540.5" cy="2022.8" r="7.6" fill="#a286c6"/>
<circle cx="553.8" cy="1999.2" r="7.3" fill="#cbb8e0"/>
<circle cx="528.3" cy="2040.3" r="6.9" fill="#cbb8e0"/>
<circle cx="546.9" cy="1999.6" r="7.2" fill="#ab92cc"/>
<circle cx="543.3" cy="2029.9" r="6.7" fill="#8460b2"/>
<circle cx="557.5" cy="1992.3" r="6.8" fill="#a286c6"/>
<circle cx="471.5" cy="1939.0" r="6.7" fill="#9777be"/>
<circle cx="553.3" cy="2000.4" r="6.8" fill="#9b7cc0"/>
<circle cx="434.8" cy="1903.3" r="7.8" fill="#a286c6"/>
<circle cx="542.9" cy="2020.3" r="6.6" fill="#9b7cc0"/>
<circle cx="498.3" cy="2015.9" r="6.5" fill="#a286c6"/>
<circle cx="499.2" cy="2019.9" r="6.3" fill="#8f6db9"/>
<circle cx="463.3" cy="1922.0" r="6.5" fill="#a286c6"/>
<circle cx="591.3" cy="1914.5" r="6.5" fill="#7a52ab"/>
<circle cx="474.8" cy="1957.8" r="7.0" fill="#9b7cc0"/>
<circle cx="469.5" cy="1952.6" r="7.0" fill="#9b7cc0"/>
<circle cx="561.5" cy="1994.7" r="7.5" fill="#ab92cc"/>
<circle cx="580.7" cy="1951.0" r="6.9" fill="#9777be"/>
<circle cx="456.7" cy="1912.5" r="6.7" fill="#8f6db9"/>
<circle cx="501.1" cy="2026.2" r="6.3" fill="#a286c6"/>
<circle cx="452.9" cy="1903.5" r="7.9" fill="#9b7cc0"/>
<circle cx="516.3" cy="2054.5" r="6.6" fill="#a286c6"/>
<circle cx="582.4" cy="1943.3" r="8.0" fill="#9b7cc0"/>
<circle cx="569.2" cy="1956.3" r="7.5" fill="#a286c6"/>
<circle cx="467.1" cy="1916.5" r="6.7" fill="#9777be"/>
<circle cx="472.8" cy="1948.8" r="7.4" fill="#9b7cc0"/>
<circle cx="603.7" cy="1903.5" r="7.1" fill="#8f6db9"/>
<circle cx="527.7" cy="2055.1" r="8.1" fill="#8f6db9"/>
<circle cx="482.8" cy="1973.6" r="7.3" fill="#9b7cc0"/>
<circle cx="449.5" cy="1895.9" r="7.1" fill="#9b7cc0"/>
<circle cx="475.0" cy="1952.9" r="6.9" fill="#ab92cc"/>
<circle cx="510.5" cy="2044.7" r="6.3" fill="#9777be"/>
<circle cx="473.5" cy="1948.8" r="7.6" fill="#ab92cc"/>
<circle cx="580.9" cy="1930.9" r="7.7" fill="#a286c6"/>
<circle cx="564.1" cy="1972.4" r="7.1" fill="#8f6db9"/>
<circle cx="494.8" cy="1993.4" r="8.2" fill="#cbb8e0"/>
<circle cx="467.7" cy="1950.8" r="7.5" fill="#9777be"/>
<circle cx="511.0" cy="2036.5" r="7.8" fill="#cbb8e0"/>
<circle cx="519.1" cy="2057.8" r="6.5" fill="#a286c6"/>
<circle cx="611.4" cy="1881.3" r="7.6" fill="#9777be"/>
<circle cx="597.6" cy="1919.4" r="6.9" fill="#9777be"/>
<circle cx="484.6" cy="1985.5" r="7.1" fill="#8460b2"/>
<circle cx="480.9" cy="1977.0" r="6.6" fill="#8f6db9"/>
<circle cx="526.3" cy="2056.8" r="7.2" fill="#9b7cc0"/>
<circle cx="574.2" cy="1953.4" r="6.4" fill="#ab92cc"/>
<circle cx="495.4" cy="2003.7" r="6.5" fill="#9b7cc0"/>
<circle cx="564.3" cy="1969.5" r="6.9" fill="#a286c6"/>
<circle cx="593.7" cy="1922.7" r="6.9" fill="#8f6db9"/>
<circle cx="614.3" cy="1896.6" r="8.1" fill="#8f6db9"/>
<circle cx="533.3" cy="2038.3" r="7.2" fill="#a286c6"/>
<circle cx="541.3" cy="2023.5" r="6.9" fill="#cbb8e0"/>
<circle cx="603.0" cy="1926.1" r="7.6" fill="#9b7cc0"/>
<circle cx="585.1" cy="1922.4" r="8.0" fill="#e6dcf0"/>
<circle cx="462.2" cy="1934.0" r="6.2" fill="#ab92cc"/>
<circle cx="599.5" cy="1921.0" r="6.8" fill="#8460b2"/>
<circle cx="482.2" cy="1981.0" r="8.1" fill="#a286c6"/>
<circle cx="595.1" cy="1911.3" r="7.8" fill="#9b7cc0"/>
<circle cx="577.5" cy="1943.2" r="6.9" fill="#8460b2"/>
<circle cx="567.1" cy="1976.3" r="6.3" fill="#9777be"/>
<circle cx="560.6" cy="1971.1" r="6.8" fill="#cbb8e0"/>
<circle cx="534.1" cy="2038.1" r="8.1" fill="#cbb8e0"/>
<circle cx="506.4" cy="2029.5" r="8.0" fill="#ab92cc"/>
<circle cx="517.4" cy="2057.2" r="7.6" fill="#a286c6"/>
<circle cx="549.5" cy="2004.0" r="7.0" fill="#9777be"/>
<circle cx="567.7" cy="1957.9" r="7.9" fill="#e6dcf0"/>
<circle cx="566.6" cy="1986.7" r="7.1" fill="#8460b2"/>
<circle cx="476.0" cy="1971.5" r="6.3" fill="#6a3ea2"/>
<circle cx="514.0" cy="2050.2" r="6.5" fill="#cbb8e0"/>
<circle cx="546.3" cy="2021.7" r="6.9" fill="#8f6db9"/>
<circle cx="567.8" cy="1969.1" r="6.6" fill="#ab92cc"/>
<circle cx="616.9" cy="1893.0" r="7.6" fill="#6a3ea2"/>
<circle cx="599.2" cy="1895.5" r="8.2" fill="#8460b2"/>
<circle cx="542.3" cy="2009.4" r="7.5" fill="#cbb8e0"/>
<circle cx="490.9" cy="1990.8" r="7.8" fill="#7a52ab"/>
<circle cx="564.5" cy="1978.8" r="6.3" fill="#9777be"/>
<circle cx="570.8" cy="1946.1" r="8.2" fill="#ddd0ea"/>
<circle cx="526.4" cy="2056.9" r="6.8" fill="#6a3ea2"/>
<circle cx="454.2" cy="1907.5" r="8.0" fill="#9777be"/>
<circle cx="483.2" cy="1985.5" r="6.9" fill="#7a52ab"/>
<circle cx="503.2" cy="2023.7" r="6.7" fill="#6a3ea2"/>
<circle cx="479.6" cy="1973.4" r="6.7" fill="#8460b2"/>
<circle cx="493.5" cy="2006.6" r="7.1" fill="#9777be"/>
<circle cx="491.2" cy="1986.9" r="6.6" fill="#9777be"/>
<circle cx="594.8" cy="1882.6" r="7.6" fill="#cbb8e0"/>
<circle cx="570.7" cy="1949.3" r="7.7" fill="#cbb8e0"/>
<circle cx="476.6" cy="1963.8" r="6.9" fill="#9b7cc0"/>
<circle cx="534.7" cy="2041.9" r="6.4" fill="#a286c6"/>
<circle cx="567.0" cy="1956.8" r="8.0" fill="#ab92cc"/>
<circle cx="561.6" cy="1980.0" r="8.0" fill="#9777be"/>
<circle cx="581.8" cy="1940.2" r="6.7" fill="#b7a0d4"/>
<circle cx="444.6" cy="1899.0" r="8.1" fill="#8f6db9"/>
<circle cx="503.0" cy="2013.3" r="7.3" fill="#b7a0d4"/>
<circle cx="591.0" cy="1908.9" r="7.9" fill="#cbb8e0"/>
<circle cx="465.0" cy="1941.0" r="7.5" fill="#9777be"/>
<circle cx="539.1" cy="2029.9" r="6.9" fill="#a286c6"/>
<circle cx="613.1" cy="1908.3" r="7.4" fill="#6a3ea2"/>
<circle cx="543.2" cy="2030.7" r="7.1" fill="#8f6db9"/>
<circle cx="582.6" cy="1931.3" r="7.4" fill="#b7a0d4"/>
<circle cx="517.1" cy="2053.8" r="6.7" fill="#ab92cc"/>
<circle cx="570.5" cy="1970.2" r="6.5" fill="#6a3ea2"/>
<circle cx="459.1" cy="1925.1" r="7.4" fill="#cbb8e0"/>
<circle cx="465.8" cy="1934.1" r="7.2" fill="#9777be"/>
<circle cx="565.0" cy="1978.1" r="8.2" fill="#9b7cc0"/>
<circle cx="597.2" cy="1905.9" r="7.2" fill="#ab92cc"/>
<circle cx="579.3" cy="1960.5" r="6.7" fill="#7a52ab"/>
<circle cx="538.2" cy="2021.0" r="7.5" fill="#b7a0d4"/>
<circle cx="609.8" cy="1893.1" r="8.0" fill="#8460b2"/>
<circle cx="438.5" cy="1901.1" r="8.3" fill="#ab92cc"/>
<circle cx="555.3" cy="1999.2" r="7.2" fill="#8f6db9"/>
<circle cx="598.4" cy="1881.6" r="6.5" fill="#ab92cc"/>
<circle cx="583.6" cy="1949.4" r="6.6" fill="#7a52ab"/>
<circle cx="528.7" cy="2049.1" r="6.6" fill="#b7a0d4"/>
<circle cx="502.4" cy="2022.4" r="6.8" fill="#ab92cc"/>
<circle cx="504.6" cy="2035.9" r="6.5" fill="#6a3ea2"/>
<circle cx="540.2" cy="2018.8" r="7.4" fill="#cbb8e0"/>
<circle cx="527.8" cy="2046.4" r="6.8" fill="#cbb8e0"/>
<circle cx="457.2" cy="1899.0" r="6.3" fill="#ab92cc"/>
<circle cx="454.9" cy="1910.7" r="6.8" fill="#a286c6"/>
<circle cx="599.3" cy="1908.1" r="6.3" fill="#8f6db9"/>
<circle cx="509.6" cy="2032.8" r="7.5" fill="#8460b2"/>
<circle cx="469.4" cy="1936.0" r="6.9" fill="#9b7cc0"/>
<circle cx="578.9" cy="1961.1" r="7.2" fill="#8460b2"/>
<circle cx="494.6" cy="1997.9" r="7.5" fill="#8f6db9"/>
<circle cx="508.7" cy="2033.6" r="7.8" fill="#ab92cc"/>
<circle cx="480.8" cy="1981.8" r="8.1" fill="#8460b2"/>
<circle cx="602.0" cy="1907.5" r="6.3" fill="#6a3ea2"/>
<circle cx="471.6" cy="1929.8" r="6.9" fill="#ab92cc"/>
<circle cx="589.4" cy="1920.6" r="7.5" fill="#9b7cc0"/>
<circle cx="472.0" cy="1951.2" r="7.1" fill="#ab92cc"/>
<circle cx="572.9" cy="1967.6" r="7.0" fill="#8f6db9"/>
<circle cx="447.3" cy="1901.1" r="6.7" fill="#9b7cc0"/>
<circle cx="502.4" cy="2022.9" r="7.2" fill="#cbb8e0"/>
<circle cx="567.2" cy="1973.1" r="8.0" fill="#ab92cc"/>
<circle cx="596.2" cy="1934.9" r="6.9" fill="#8f6db9"/>
<circle cx="470.9" cy="1951.9" r="8.1" fill="#8460b2"/>
<circle cx="535.6" cy="2036.5" r="7.8" fill="#9b7cc0"/>
<circle cx="551.3" cy="1988.8" r="6.9" fill="#cbb8e0"/>
<circle cx="590.9" cy="1911.0" r="8.0" fill="#ab92cc"/>
<circle cx="453.9" cy="1907.3" r="7.9" fill="#9777be"/>
<circle cx="502.6" cy="2012.7" r="6.2" fill="#ab92cc"/>
<circle cx="565.1" cy="1957.5" r="6.7" fill="#b7a0d4"/>
<circle cx="581.7" cy="1938.9" r="8.0" fill="#ab92cc"/>
<circle cx="455.2" cy="1905.2" r="6.6" fill="#9b7cc0"/>
<circle cx="510.9" cy="2042.3" r="7.9" fill="#9b7cc0"/>
<circle cx="504.3" cy="2024.1" r="8.0" fill="#cbb8e0"/>
<circle cx="463.0" cy="1915.9" r="7.3" fill="#cbb8e0"/>
<circle cx="571.4" cy="1944.4" r="7.9" fill="#cbb8e0"/>
<circle cx="547.8" cy="2012.5" r="6.5" fill="#ab92cc"/>
<circle cx="494.6" cy="2004.3" r="7.9" fill="#8f6db9"/>
<circle cx="456.8" cy="1897.2" r="6.2" fill="#9777be"/>
<circle cx="511.8" cy="2041.1" r="7.5" fill="#9777be"/>
<circle cx="479.0" cy="1964.0" r="6.6" fill="#a286c6"/>
<circle cx="474.7" cy="1954.2" r="8.0" fill="#8460b2"/>
<circle cx="482.8" cy="1972.2" r="8.2" fill="#cbb8e0"/>
<circle cx="531.5" cy="2043.6" r="7.4" fill="#9777be"/>
<circle cx="452.0" cy="1915.4" r="7.8" fill="#9777be"/>
<circle cx="503.1" cy="2018.3" r="7.5" fill="#a286c6"/>
<circle cx="504.2" cy="2027.6" r="7.3" fill="#8460b2"/>
<circle cx="504.4" cy="2031.7" r="6.9" fill="#9777be"/>
<circle cx="492.4" cy="2001.2" r="7.4" fill="#a286c6"/>
<circle cx="558.7" cy="1994.9" r="7.9" fill="#a286c6"/>
<circle cx="518.9" cy="2054.8" r="6.7" fill="#cbb8e0"/>
<circle cx="480.3" cy="1947.4" r="7.3" fill="#a286c6"/>
<circle cx="580.1" cy="1944.2" r="6.7" fill="#a286c6"/>
<circle cx="553.7" cy="2005.7" r="7.7" fill="#8f6db9"/>
<circle cx="518.2" cy="2060.8" r="7.6" fill="#9777be"/>
<circle cx="459.2" cy="1929.5" r="7.6" fill="#6a3ea2"/>
<circle cx="595.2" cy="1887.8" r="7.2" fill="#ab92cc"/>
<circle cx="615.8" cy="1884.2" r="6.5" fill="#ab92cc"/>
<circle cx="492.8" cy="1986.8" r="6.5" fill="#ab92cc"/>
<circle cx="520.1" cy="2062.8" r="7.1" fill="#9777be"/>
<circle cx="482.5" cy="1971.7" r="6.2" fill="#b7a0d4"/>
<circle cx="589.8" cy="1927.7" r="8.0" fill="#a286c6"/>
<circle cx="503.4" cy="2016.8" r="6.8" fill="#a286c6"/>
<circle cx="499.0" cy="2020.5" r="6.6" fill="#7a52ab"/>
<circle cx="575.1" cy="1949.8" r="6.5" fill="#cbb8e0"/>
<circle cx="490.5" cy="1998.1" r="6.2" fill="#9777be"/>
<circle cx="502.7" cy="2027.7" r="7.0" fill="#6a3ea2"/>
<circle cx="574.8" cy="1975.6" r="7.3" fill="#7a52ab"/>
<circle cx="603.2" cy="1911.7" r="7.0" fill="#8460b2"/>
<circle cx="482.0" cy="1956.5" r="7.2" fill="#9b7cc0"/>
<circle cx="513.2" cy="2049.6" r="7.8" fill="#8460b2"/>
<circle cx="496.2" cy="2000.1" r="7.7" fill="#cbb8e0"/>
<circle cx="456.4" cy="1916.4" r="6.7" fill="#ab92cc"/>
<circle cx="593.5" cy="1918.9" r="6.6" fill="#9777be"/>
<circle cx="583.4" cy="1954.0" r="6.5" fill="#9777be"/>
<circle cx="544.4" cy="2019.0" r="8.0" fill="#9b7cc0"/>
<circle cx="547.6" cy="2015.3" r="7.5" fill="#ab92cc"/>
<circle cx="599.2" cy="1886.6" r="7.4" fill="#cbb8e0"/>
<circle cx="561.3" cy="1992.5" r="6.8" fill="#b7a0d4"/>
<circle cx="500.0" cy="2010.9" r="6.7" fill="#cbb8e0"/>
<circle cx="491.6" cy="1983.2" r="6.7" fill="#a286c6"/>
<circle cx="502.0" cy="2018.0" r="6.9" fill="#a286c6"/>
<circle cx="496.6" cy="1993.8" r="6.5" fill="#9b7cc0"/>
<circle cx="489.0" cy="1991.6" r="7.1" fill="#9777be"/>
<circle cx="552.1" cy="1992.5" r="7.9" fill="#cbb8e0"/>
<circle cx="587.2" cy="1933.4" r="7.6" fill="#9b7cc0"/>
<circle cx="501.7" cy="2019.9" r="8.1" fill="#8f6db9"/>
<circle cx="442.6" cy="1908.4" r="7.4" fill="#9b7cc0"/>
<circle cx="574.7" cy="1949.5" r="7.0" fill="#b7a0d4"/>
<circle cx="589.9" cy="1924.5" r="6.3" fill="#9777be"/>
<circle cx="558.7" cy="1978.2" r="7.0" fill="#ab92cc"/>
<circle cx="515.2" cy="2047.2" r="7.8" fill="#a286c6"/>
<circle cx="561.6" cy="1998.9" r="7.8" fill="#6a3ea2"/>
<circle cx="477.4" cy="1949.4" r="7.0" fill="#a286c6"/>
<circle cx="474.9" cy="1936.8" r="6.7" fill="#9b7cc0"/>
<circle cx="455.8" cy="1907.6" r="7.8" fill="#7a52ab"/>
<circle cx="517.5" cy="2061.4" r="6.5" fill="#6a3ea2"/>
<circle cx="612.7" cy="1882.5" r="6.4" fill="#b7a0d4"/>
<circle cx="567.3" cy="1964.3" r="7.5" fill="#a286c6"/>
<circle cx="559.6" cy="1981.5" r="7.9" fill="#a286c6"/>
<circle cx="516.2" cy="2056.2" r="8.2" fill="#8f6db9"/>
<circle cx="580.6" cy="1942.1" r="7.0" fill="#8460b2"/>
<circle cx="526.8" cy="2053.7" r="6.6" fill="#cbb8e0"/>
<circle cx="581.1" cy="1916.0" r="8.0" fill="#cbb8e0"/>
<circle cx="508.9" cy="2037.1" r="7.6" fill="#b7a0d4"/>
<circle cx="606.9" cy="1897.3" r="7.1" fill="#a286c6"/>
<circle cx="491.2" cy="1998.5" r="6.6" fill="#8460b2"/>
<circle cx="580.1" cy="1957.2" r="7.8" fill="#9777be"/>
<circle cx="491.2" cy="2004.0" r="6.4" fill="#a286c6"/>
<circle cx="556.2" cy="2000.6" r="7.0" fill="#9777be"/>
<circle cx="455.8" cy="1918.5" r="6.9" fill="#ab92cc"/>
<circle cx="579.8" cy="1956.5" r="7.0" fill="#9b7cc0"/>
<circle cx="460.5" cy="1920.4" r="7.9" fill="#9b7cc0"/>
<circle cx="534.7" cy="2040.8" r="6.5" fill="#8460b2"/>
<circle cx="535.8" cy="2038.7" r="6.4" fill="#8f6db9"/>
<circle cx="465.5" cy="1934.4" r="7.7" fill="#a286c6"/>
<circle cx="449.4" cy="1902.7" r="7.7" fill="#7a52ab"/>
<circle cx="478.7" cy="1945.0" r="6.8" fill="#b7a0d4"/>
<circle cx="604.9" cy="1903.0" r="7.2" fill="#9b7cc0"/>
<circle cx="584.0" cy="1949.4" r="7.8" fill="#9777be"/>
<circle cx="469.7" cy="1946.1" r="7.1" fill="#8f6db9"/>
<circle cx="583.5" cy="1933.5" r="7.7" fill="#cbb8e0"/>
<circle cx="455.9" cy="1924.2" r="7.3" fill="#8460b2"/>
<circle cx="470.2" cy="1947.0" r="6.5" fill="#a286c6"/>
<circle cx="529.5" cy="2049.2" r="7.6" fill="#ab92cc"/>
<circle cx="467.4" cy="1954.8" r="8.1" fill="#9777be"/>
<circle cx="529.0" cy="2049.8" r="7.5" fill="#a286c6"/>
<circle cx="570.8" cy="1968.1" r="7.6" fill="#7a52ab"/>
<circle cx="502.3" cy="2025.2" r="6.2" fill="#ab92cc"/>
<circle cx="567.6" cy="1974.0" r="6.9" fill="#8f6db9"/>
<circle cx="452.4" cy="1894.8" r="6.8" fill="#9777be"/>
<circle cx="484.5" cy="1996.2" r="7.4" fill="#a286c6"/>
<circle cx="530.7" cy="2041.0" r="7.1" fill="#cbb8e0"/>
<circle cx="559.8" cy="1987.6" r="6.4" fill="#a286c6"/>
<circle cx="444.8" cy="1892.7" r="6.6" fill="#8460b2"/>
<circle cx="610.1" cy="1901.6" r="6.7" fill="#9777be"/>
<circle cx="518.6" cy="2061.2" r="6.6" fill="#a286c6"/>
<circle cx="542.3" cy="2027.5" r="7.9" fill="#8f6db9"/>
<circle cx="464.5" cy="1918.6" r="6.7" fill="#ab92cc"/>
<circle cx="581.7" cy="1932.0" r="6.7" fill="#cbb8e0"/>
<circle cx="550.3" cy="2002.0" r="6.7" fill="#ab92cc"/>
<circle cx="590.9" cy="1919.0" r="7.0" fill="#b7a0d4"/>
<circle cx="592.4" cy="1935.2" r="6.7" fill="#8f6db9"/>
<circle cx="556.9" cy="2000.4" r="7.1" fill="#a286c6"/>
<circle cx="607.5" cy="1881.9" r="7.2" fill="#9b7cc0"/>
<circle cx="520.3" cy="2063.4" r="6.4" fill="#7a52ab"/>
<circle cx="484.7" cy="1982.9" r="7.8" fill="#8f6db9"/>
<circle cx="568.1" cy="1973.2" r="6.5" fill="#9777be"/>
<circle cx="579.0" cy="1940.5" r="7.0" fill="#8f6db9"/>
<circle cx="450.9" cy="1926.6" r="6.4" fill="#6a3ea2"/>
<circle cx="459.7" cy="1897.5" r="6.9" fill="#ab92cc"/>
<circle cx="537.0" cy="2037.3" r="7.3" fill="#8f6db9"/>
<circle cx="560.6" cy="1996.5" r="8.0" fill="#6a3ea2"/>
<circle cx="461.3" cy="1943.7" r="7.1" fill="#8460b2"/>
<circle cx="560.4" cy="1990.1" r="7.4" fill="#a286c6"/>
<circle cx="586.6" cy="1927.8" r="7.6" fill="#a286c6"/>
<circle cx="493.6" cy="1995.7" r="7.0" fill="#ab92cc"/>
<circle cx="577.1" cy="1936.4" r="6.9" fill="#cbb8e0"/>
<circle cx="564.5" cy="1959.7" r="7.6" fill="#ddd0ea"/>
<circle cx="465.1" cy="1944.6" r="7.4" fill="#9777be"/>
<circle cx="487.4" cy="1985.2" r="8.0" fill="#cbb8e0"/>
<circle cx="571.0" cy="1968.8" r="7.6" fill="#8f6db9"/>
<circle cx="566.6" cy="1984.3" r="7.9" fill="#9777be"/>
<circle cx="573.6" cy="1955.8" r="6.9" fill="#a286c6"/>
<circle cx="540.4" cy="2027.0" r="7.7" fill="#8f6db9"/>
<circle cx="556.3" cy="1976.7" r="7.8" fill="#9b7cc0"/>
<circle cx="585.1" cy="1956.4" r="7.2" fill="#6a3ea2"/>
<circle cx="579.6" cy="1930.2" r="7.5" fill="#e6dcf0"/>
<circle cx="459.7" cy="1914.9" r="8.0" fill="#8f6db9"/>
<circle cx="470.7" cy="1952.3" r="7.4" fill="#a286c6"/>
<circle cx="432.2" cy="1887.5" r="6.7" fill="#ab92cc"/>
<circle cx="466.6" cy="1947.0" r="6.9" fill="#9b7cc0"/>
<circle cx="465.4" cy="1928.9" r="6.3" fill="#ab92cc"/>
<circle cx="587.5" cy="1930.7" r="6.9" fill="#cbb8e0"/>
<circle cx="533.0" cy="2041.2" r="7.4" fill="#9b7cc0"/>
<circle cx="536.4" cy="2031.5" r="7.8" fill="#a286c6"/>
<circle cx="482.4" cy="1991.9" r="7.9" fill="#7a52ab"/>
<circle cx="601.8" cy="1897.5" r="6.3" fill="#8460b2"/>
<circle cx="554.6" cy="2003.0" r="7.3" fill="#8f6db9"/>
<circle cx="571.5" cy="1964.8" r="6.5" fill="#ab92cc"/>
<circle cx="575.5" cy="1952.9" r="6.3" fill="#ab92cc"/>
<circle cx="556.6" cy="1995.5" r="7.9" fill="#a286c6"/>
<circle cx="589.0" cy="1930.7" r="7.3" fill="#8f6db9"/>
<circle cx="578.0" cy="1940.9" r="8.2" fill="#9b7cc0"/>
<circle cx="559.8" cy="1986.2" r="6.9" fill="#9b7cc0"/>
<circle cx="484.3" cy="1968.7" r="7.0" fill="#b7a0d4"/>
<circle cx="585.8" cy="1926.8" r="7.9" fill="#a286c6"/>
<circle cx="460.5" cy="1924.5" r="7.3" fill="#8460b2"/>
<circle cx="526.6" cy="2052.5" r="7.3" fill="#ab92cc"/>
<circle cx="557.8" cy="1983.5" r="6.8" fill="#a286c6"/>
<circle cx="516.4" cy="2056.9" r="7.7" fill="#9777be"/>
<circle cx="553.6" cy="1994.5" r="7.7" fill="#ab92cc"/>
<circle cx="568.8" cy="1962.1" r="6.6" fill="#a286c6"/>
<circle cx="439.8" cy="1900.3" r="8.5" fill="#8f6db9"/>
<circle cx="560.0" cy="1981.9" r="6.3" fill="#a286c6"/>
<circle cx="549.7" cy="2008.2" r="7.3" fill="#a286c6"/>
<circle cx="482.4" cy="1972.7" r="7.0" fill="#ab92cc"/>
<circle cx="508.4" cy="2033.7" r="8.1" fill="#a286c6"/>
<circle cx="483.8" cy="1959.6" r="6.5" fill="#ab92cc"/>
<circle cx="492.7" cy="1998.2" r="6.3" fill="#a286c6"/>
<circle cx="482.3" cy="1976.9" r="7.6" fill="#9777be"/>
<circle cx="480.6" cy="1977.5" r="7.2" fill="#9777be"/>
<circle cx="530.4" cy="2050.9" r="8.1" fill="#a286c6"/>
<circle cx="495.5" cy="1999.6" r="7.0" fill="#7a52ab"/>
<circle cx="563.2" cy="1969.3" r="8.3" fill="#cbb8e0"/>
<circle cx="479.8" cy="1953.2" r="6.8" fill="#9b7cc0"/>
<circle cx="462.4" cy="1952.3" r="7.7" fill="#8f6db9"/>
<circle cx="481.1" cy="1958.8" r="7.0" fill="#9b7cc0"/>
<circle cx="536.1" cy="2034.0" r="7.4" fill="#8460b2"/>
<circle cx="550.8" cy="2007.0" r="6.4" fill="#a286c6"/>
<circle cx="508.0" cy="2040.5" r="6.9" fill="#8460b2"/>
<circle cx="434.8" cy="1900.6" r="8.2" fill="#8460b2"/>
<circle cx="606.9" cy="1910.9" r="6.6" fill="#a286c6"/>
<circle cx="613.7" cy="1895.6" r="6.3" fill="#9b7cc0"/>
<circle cx="463.5" cy="1925.0" r="6.7" fill="#a286c6"/>
<circle cx="605.5" cy="1911.1" r="7.9" fill="#9777be"/>
<circle cx="598.9" cy="1917.7" r="6.9" fill="#a286c6"/>
<circle cx="562.6" cy="1990.1" r="6.9" fill="#8f6db9"/>
<circle cx="450.8" cy="1912.7" r="6.7" fill="#9777be"/>
<circle cx="534.6" cy="2036.7" r="7.3" fill="#a286c6"/>
<circle cx="511.7" cy="2041.9" r="7.0" fill="#a286c6"/>
<circle cx="593.5" cy="1923.4" r="6.4" fill="#8f6db9"/>
<circle cx="449.1" cy="1905.6" r="6.8" fill="#6a3ea2"/>
<circle cx="618.5" cy="1898.9" r="7.3" fill="#7a52ab"/>
<circle cx="597.2" cy="1928.1" r="6.4" fill="#8460b2"/>
<circle cx="486.0" cy="1980.1" r="6.4" fill="#ab92cc"/>
<circle cx="513.1" cy="2044.5" r="6.7" fill="#8f6db9"/>
<circle cx="457.4" cy="1886.6" r="7.3" fill="#8f6db9"/>
<circle cx="480.2" cy="1976.9" r="7.4" fill="#6a3ea2"/>
<circle cx="607.1" cy="1893.5" r="7.7" fill="#a286c6"/>
<circle cx="530.9" cy="2039.2" r="7.2" fill="#ab92cc"/>
<circle cx="468.5" cy="1955.4" r="8.0" fill="#9777be"/>
<circle cx="489.1" cy="1996.6" r="6.3" fill="#9777be"/>
<circle cx="472.5" cy="1948.7" r="7.3" fill="#9b7cc0"/>
<circle cx="569.9" cy="1968.5" r="6.5" fill="#8f6db9"/>
<circle cx="550.4" cy="2007.5" r="7.5" fill="#8460b2"/>
<circle cx="524.1" cy="2062.5" r="6.7" fill="#8f6db9"/>
<circle cx="594.6" cy="1911.5" r="6.2" fill="#ab92cc"/>
<circle cx="557.4" cy="1997.9" r="6.8" fill="#ab92cc"/>
<circle cx="472.6" cy="1929.4" r="6.7" fill="#cbb8e0"/>
<circle cx="556.0" cy="1987.6" r="7.9" fill="#a286c6"/>
<circle cx="497.8" cy="2011.2" r="7.1" fill="#ab92cc"/>
<circle cx="496.1" cy="2001.1" r="6.3" fill="#cbb8e0"/>
<circle cx="571.2" cy="1965.3" r="8.1" fill="#9777be"/>
<circle cx="483.3" cy="1979.8" r="7.8" fill="#9777be"/>
<circle cx="553.9" cy="2002.8" r="8.1" fill="#9777be"/>
<circle cx="536.9" cy="2034.2" r="7.6" fill="#a286c6"/>
<circle cx="461.8" cy="1919.9" r="7.0" fill="#9b7cc0"/>
<circle cx="524.2" cy="2062.1" r="7.1" fill="#8460b2"/>
<circle cx="495.2" cy="1996.8" r="7.8" fill="#cbb8e0"/>
<circle cx="447.0" cy="1904.0" r="7.8" fill="#8f6db9"/>
<circle cx="503.3" cy="2021.0" r="6.3" fill="#a286c6"/>
<circle cx="488.6" cy="1983.2" r="7.6" fill="#9b7cc0"/>
<circle cx="612.0" cy="1895.4" r="7.6" fill="#b7a0d4"/>
<circle cx="589.8" cy="1909.9" r="6.4" fill="#ab92cc"/>
<circle cx="525.5" cy="2036.7" r="8.3" fill="#cbb8e0"/>
<circle cx="487.9" cy="1988.0" r="7.8" fill="#a286c6"/>
<circle cx="606.5" cy="1895.4" r="6.5" fill="#ab92cc"/>
<circle cx="464.1" cy="1905.8" r="6.3" fill="#cbb8e0"/>
<circle cx="498.0" cy="2018.8" r="7.5" fill="#9777be"/>
<circle cx="604.1" cy="1896.5" r="7.4" fill="#9777be"/>
<circle cx="496.3" cy="2019.6" r="8.1" fill="#8460b2"/>
<circle cx="577.5" cy="1948.0" r="7.2" fill="#a286c6"/>
<circle cx="604.6" cy="1915.5" r="7.4" fill="#8f6db9"/>
<circle cx="601.3" cy="1916.3" r="6.3" fill="#8f6db9"/>
<circle cx="532.5" cy="2045.4" r="8.2" fill="#a286c6"/>
<circle cx="603.9" cy="1895.7" r="7.8" fill="#7a52ab"/>
<circle cx="599.7" cy="1918.8" r="7.0" fill="#7a52ab"/>
<circle cx="453.5" cy="1921.9" r="6.7" fill="#9777be"/>
<circle cx="528.1" cy="2053.7" r="6.7" fill="#8460b2"/>
<circle cx="561.8" cy="1991.8" r="6.8" fill="#7a52ab"/>
<circle cx="499.8" cy="2021.4" r="7.0" fill="#9b7cc0"/>
<circle cx="554.3" cy="1990.4" r="6.5" fill="#cbb8e0"/>
<circle cx="462.9" cy="1925.2" r="7.6" fill="#9777be"/>
<circle cx="462.1" cy="1936.6" r="6.4" fill="#cbb8e0"/>
<circle cx="552.6" cy="2006.9" r="7.9" fill="#a286c6"/>
<circle cx="600.2" cy="1913.7" r="6.5" fill="#8460b2"/>
<circle cx="561.0" cy="1984.7" r="6.8" fill="#8460b2"/>
<circle cx="488.5" cy="1996.3" r="7.0" fill="#7a52ab"/>
<circle cx="498.9" cy="2015.4" r="7.2" fill="#b7a0d4"/>
<circle cx="459.0" cy="1909.2" r="6.4" fill="#a286c6"/>
<circle cx="553.8" cy="2008.0" r="7.8" fill="#9777be"/>
<circle cx="491.3" cy="1998.1" r="7.9" fill="#9b7cc0"/>
<circle cx="519.1" cy="2063.1" r="7.8" fill="#8f6db9"/>
<circle cx="443.7" cy="1909.7" r="6.2" fill="#6a3ea2"/>
<circle cx="496.0" cy="1991.1" r="7.8" fill="#b7a0d4"/>
<circle cx="570.2" cy="1969.4" r="6.5" fill="#a286c6"/>
<circle cx="565.1" cy="1989.3" r="7.6" fill="#7a52ab"/>
<circle cx="482.1" cy="1978.6" r="6.4" fill="#9777be"/>
<circle cx="515.3" cy="2049.3" r="7.3" fill="#b7a0d4"/>
<circle cx="453.5" cy="1886.6" r="7.9" fill="#9b7cc0"/>
<circle cx="516.6" cy="2054.6" r="6.5" fill="#8f6db9"/>
<circle cx="549.5" cy="2020.1" r="7.7" fill="#6a3ea2"/>
<circle cx="533.3" cy="2046.0" r="7.2" fill="#9777be"/>
<circle cx="559.1" cy="1990.4" r="6.2" fill="#9b7cc0"/>
<circle cx="468.2" cy="1962.4" r="8.1" fill="#8460b2"/>
<circle cx="481.2" cy="1968.2" r="7.2" fill="#9b7cc0"/>
<circle cx="601.1" cy="1878.3" r="6.9" fill="#b7a0d4"/>
<circle cx="507.1" cy="2028.8" r="6.9" fill="#ab92cc"/>
<circle cx="557.4" cy="1987.8" r="6.2" fill="#b7a0d4"/>
<circle cx="522.7" cy="2061.8" r="6.2" fill="#a286c6"/>
<circle cx="516.4" cy="2057.5" r="8.1" fill="#6a3ea2"/>
<circle cx="494.2" cy="2000.7" r="8.2" fill="#cbb8e0"/>
<circle cx="603.1" cy="1880.2" r="7.6" fill="#9777be"/>
<circle cx="450.7" cy="1894.3" r="7.1" fill="#8460b2"/>
<circle cx="517.8" cy="2054.1" r="7.4" fill="#cbb8e0"/>
<circle cx="495.3" cy="2006.7" r="6.7" fill="#6a3ea2"/>
<circle cx="520.2" cy="2061.9" r="7.3" fill="#9777be"/>
<circle cx="599.3" cy="1915.1" r="7.8" fill="#9777be"/>
<circle cx="499.2" cy="2015.1" r="6.6" fill="#ab92cc"/>
<circle cx="539.5" cy="2022.3" r="8.1" fill="#9777be"/>
<circle cx="583.2" cy="1920.1" r="6.9" fill="#b7a0d4"/>
<circle cx="553.8" cy="1999.8" r="7.2" fill="#a286c6"/>
<circle cx="509.4" cy="2038.0" r="8.0" fill="#b7a0d4"/>
<circle cx="442.2" cy="1896.9" r="7.2" fill="#9777be"/>
<circle cx="534.7" cy="2041.3" r="7.8" fill="#a286c6"/>
<circle cx="492.7" cy="1999.2" r="6.5" fill="#9b7cc0"/>
<circle cx="544.3" cy="2015.6" r="8.0" fill="#9b7cc0"/>
<circle cx="556.9" cy="1997.0" r="6.5" fill="#9b7cc0"/>
<circle cx="566.7" cy="1960.6" r="6.2" fill="#ab92cc"/>
<circle cx="537.3" cy="2039.2" r="6.7" fill="#7a52ab"/>
<circle cx="505.2" cy="2028.1" r="7.2" fill="#ab92cc"/>
<circle cx="541.6" cy="2023.7" r="7.4" fill="#a286c6"/>
<circle cx="590.0" cy="1901.3" r="7.4" fill="#cbb8e0"/>
<circle cx="536.7" cy="2038.6" r="7.3" fill="#ab92cc"/>
<circle cx="497.5" cy="2017.0" r="8.0" fill="#8460b2"/>
<circle cx="598.3" cy="1899.4" r="6.4" fill="#a286c6"/>
<circle cx="569.0" cy="1962.1" r="7.9" fill="#9b7cc0"/>
<circle cx="491.5" cy="1995.7" r="6.6" fill="#8f6db9"/>
<circle cx="571.4" cy="1980.1" r="8.0" fill="#7a52ab"/>
<circle cx="601.0" cy="1901.6" r="6.4" fill="#9777be"/>
<circle cx="569.5" cy="1984.9" r="7.5" fill="#6a3ea2"/>
<circle cx="469.9" cy="1931.3" r="7.0" fill="#ab92cc"/>
<circle cx="580.1" cy="1949.4" r="6.3" fill="#7a52ab"/>
<circle cx="525.4" cy="2055.5" r="6.8" fill="#b7a0d4"/>
<circle cx="557.3" cy="1989.6" r="7.9" fill="#cbb8e0"/>
<circle cx="494.5" cy="2013.8" r="6.6" fill="#6a3ea2"/>
<circle cx="583.5" cy="1910.3" r="7.0" fill="#ddd0ea"/>
<circle cx="513.7" cy="2048.3" r="6.5" fill="#8f6db9"/>
<circle cx="468.4" cy="1938.8" r="6.5" fill="#9777be"/>
<circle cx="582.1" cy="1951.8" r="6.3" fill="#9777be"/>
<circle cx="532.7" cy="2041.0" r="6.3" fill="#cbb8e0"/>
<circle cx="452.7" cy="1905.3" r="6.7" fill="#8f6db9"/>
<circle cx="502.8" cy="2017.4" r="6.2" fill="#9b7cc0"/>
<circle cx="569.6" cy="1984.9" r="6.2" fill="#ab92cc"/>
<circle cx="559.7" cy="1955.4" r="7.4" fill="#e6dcf0"/>
<circle cx="585.2" cy="1921.1" r="7.0" fill="#ddd0ea"/>
<circle cx="554.0" cy="1997.5" r="7.7" fill="#8f6db9"/>
<circle cx="470.2" cy="1953.1" r="8.1" fill="#9777be"/>
<circle cx="565.2" cy="1983.8" r="7.9" fill="#9b7cc0"/>
<circle cx="509.1" cy="2032.3" r="7.6" fill="#a286c6"/>
<circle cx="505.3" cy="2032.1" r="8.1" fill="#9777be"/>
<circle cx="456.7" cy="1898.8" r="7.4" fill="#cbb8e0"/>
<circle cx="459.9" cy="1929.3" r="7.1" fill="#8f6db9"/>
<circle cx="440.2" cy="1891.0" r="7.3" fill="#8460b2"/>
<circle cx="472.2" cy="1944.0" r="6.3" fill="#9b7cc0"/>
<circle cx="561.8" cy="1994.4" r="7.3" fill="#7a52ab"/>
<circle cx="463.8" cy="1929.4" r="6.6" fill="#8f6db9"/>
<circle cx="444.7" cy="1899.3" r="8.1" fill="#7a52ab"/>
<circle cx="558.0" cy="1972.5" r="6.9" fill="#9777be"/>
<circle cx="571.1" cy="1977.1" r="8.2" fill="#ab92cc"/>
<circle cx="488.1" cy="1998.4" r="8.0" fill="#8f6db9"/>
<circle cx="549.4" cy="2011.2" r="6.6" fill="#8f6db9"/>
<circle cx="471.9" cy="1950.3" r="7.6" fill="#9777be"/>
<circle cx="567.7" cy="1965.3" r="6.8" fill="#a286c6"/>
<circle cx="574.6" cy="1952.7" r="6.4" fill="#b7a0d4"/>
<circle cx="496.0" cy="2003.5" r="7.3" fill="#cbb8e0"/>
<circle cx="541.9" cy="2026.7" r="7.5" fill="#8460b2"/>
<circle cx="613.1" cy="1889.2" r="7.0" fill="#8f6db9"/>
<circle cx="465.4" cy="1935.4" r="8.0" fill="#9b7cc0"/>
<circle cx="611.8" cy="1906.5" r="7.4" fill="#8460b2"/>
<circle cx="508.9" cy="2038.6" r="6.7" fill="#9777be"/>
<circle cx="527.7" cy="2054.1" r="6.6" fill="#9777be"/>
<circle cx="596.9" cy="1899.3" r="7.3" fill="#cbb8e0"/>
<circle cx="489.5" cy="1986.4" r="7.6" fill="#a286c6"/>
<circle cx="517.2" cy="2058.5" r="6.7" fill="#7a52ab"/>
<circle cx="532.0" cy="2050.2" r="7.2" fill="#6a3ea2"/>
<circle cx="562.6" cy="1972.1" r="7.2" fill="#cbb8e0"/>
<circle cx="478.7" cy="1967.4" r="8.0" fill="#8460b2"/>
<circle cx="500.5" cy="2015.8" r="7.5" fill="#a286c6"/>
<circle cx="468.3" cy="1956.1" r="7.6" fill="#8460b2"/>
<circle cx="494.4" cy="2003.3" r="7.7" fill="#9b7cc0"/>
<circle cx="513.2" cy="2047.6" r="6.6" fill="#b7a0d4"/>
<circle cx="490.0" cy="1984.2" r="7.3" fill="#a286c6"/>
<circle cx="593.5" cy="1938.2" r="6.6" fill="#8460b2"/>
<circle cx="601.6" cy="1912.4" r="6.3" fill="#8f6db9"/>
<circle cx="463.5" cy="1918.2" r="6.6" fill="#cbb8e0"/>
<circle cx="532.7" cy="2041.7" r="7.4" fill="#cbb8e0"/>
<circle cx="593.2" cy="1903.9" r="8.1" fill="#ab92cc"/>
<circle cx="577.9" cy="1940.3" r="6.3" fill="#cbb8e0"/>
<circle cx="476.5" cy="1943.7" r="6.7" fill="#cbb8e0"/>
<circle cx="468.9" cy="1938.6" r="7.4" fill="#9777be"/>
<circle cx="500.3" cy="2027.4" r="6.4" fill="#8460b2"/>
<circle cx="552.4" cy="2000.3" r="7.4" fill="#9b7cc0"/>
<circle cx="546.0" cy="2019.6" r="7.8" fill="#8460b2"/>
<circle cx="603.0" cy="1909.7" r="7.9" fill="#9b7cc0"/>
<circle cx="551.4" cy="2007.1" r="7.6" fill="#ab92cc"/>
<circle cx="517.2" cy="2053.3" r="7.5" fill="#8f6db9"/>
<circle cx="470.2" cy="1952.7" r="6.2" fill="#8460b2"/>
<circle cx="605.4" cy="1916.2" r="6.3" fill="#6a3ea2"/>
<circle cx="533.8" cy="2039.4" r="6.4" fill="#ab92cc"/>
<circle cx="541.0" cy="2019.1" r="8.2" fill="#d3c3e5"/>
<circle cx="536.1" cy="2030.7" r="6.3" fill="#a286c6"/>
<circle cx="459.2" cy="1909.8" r="6.7" fill="#ab92cc"/>
<circle cx="514.8" cy="2055.0" r="6.3" fill="#6a3ea2"/>
<circle cx="592.9" cy="1906.6" r="8.1" fill="#a286c6"/>
<circle cx="586.5" cy="1925.4" r="6.9" fill="#9b7cc0"/>
<circle cx="452.9" cy="1911.4" r="6.8" fill="#9777be"/>
<circle cx="609.3" cy="1890.2" r="7.1" fill="#a286c6"/>
<circle cx="514.0" cy="2044.9" r="7.5" fill="#8f6db9"/>
<circle cx="460.8" cy="1933.3" r="7.8" fill="#9777be"/>
<circle cx="502.4" cy="2028.3" r="6.9" fill="#7a52ab"/>
<circle cx="617.4" cy="1883.5" r="6.9" fill="#6a3ea2"/>
<circle cx="548.5" cy="2011.2" r="6.4" fill="#9777be"/>
<circle cx="587.0" cy="1934.4" r="6.9" fill="#8f6db9"/>
<circle cx="484.4" cy="1976.2" r="7.1" fill="#a286c6"/>
<circle cx="471.8" cy="1944.5" r="7.0" fill="#9777be"/>
<circle cx="536.8" cy="2033.8" r="7.0" fill="#a286c6"/>
<circle cx="460.3" cy="1919.9" r="6.7" fill="#8f6db9"/>
<circle cx="587.3" cy="1918.6" r="7.2" fill="#cbb8e0"/>
<circle cx="487.0" cy="1987.6" r="8.1" fill="#a286c6"/>
<circle cx="489.2" cy="1991.3" r="7.2" fill="#ab92cc"/>
<circle cx="591.0" cy="1934.5" r="6.2" fill="#6a3ea2"/>
<circle cx="484.2" cy="1978.7" r="7.3" fill="#9b7cc0"/>
<circle cx="487.7" cy="1990.8" r="7.5" fill="#9b7cc0"/>
<circle cx="571.4" cy="1971.6" r="7.2" fill="#8460b2"/>
<circle cx="468.5" cy="1955.2" r="7.4" fill="#6a3ea2"/>
<circle cx="557.8" cy="1987.7" r="6.3" fill="#9777be"/>
<circle cx="486.1" cy="1976.2" r="7.9" fill="#9777be"/>
<circle cx="489.8" cy="1990.8" r="6.2" fill="#b7a0d4"/>
<circle cx="558.5" cy="1986.3" r="7.3" fill="#9b7cc0"/>
<circle cx="468.9" cy="1928.6" r="6.7" fill="#cbb8e0"/>
<circle cx="607.3" cy="1903.0" r="6.5" fill="#a286c6"/>
<circle cx="484.1" cy="1970.2" r="7.9" fill="#8f6db9"/>
<circle cx="604.8" cy="1889.1" r="7.7" fill="#9777be"/>
<circle cx="532.6" cy="2040.5" r="7.3" fill="#b7a0d4"/>
<circle cx="490.5" cy="2008.0" r="7.5" fill="#8460b2"/>
<circle cx="456.9" cy="1895.9" r="7.5" fill="#cbb8e0"/>
<circle cx="494.4" cy="1998.8" r="7.1" fill="#9b7cc0"/>
<circle cx="517.0" cy="2055.1" r="8.1" fill="#ab92cc"/>
<circle cx="592.1" cy="1900.6" r="8.2" fill="#ab92cc"/>
<circle cx="583.4" cy="1934.1" r="6.6" fill="#9777be"/>
<circle cx="462.3" cy="1905.2" r="7.5" fill="#cbb8e0"/>
<circle cx="511.7" cy="2041.9" r="8.1" fill="#9777be"/>
<circle cx="471.9" cy="1944.5" r="7.0" fill="#a286c6"/>
<circle cx="455.8" cy="1896.6" r="6.7" fill="#9777be"/>
<circle cx="530.3" cy="2051.2" r="8.1" fill="#7a52ab"/>
<circle cx="477.4" cy="1975.7" r="7.9" fill="#8460b2"/>
<circle cx="472.4" cy="1950.4" r="8.1" fill="#9b7cc0"/>
<circle cx="448.8" cy="1925.3" r="7.6" fill="#7a52ab"/>
<circle cx="554.5" cy="1981.1" r="7.2" fill="#cbb8e0"/>
<circle cx="518.5" cy="2061.2" r="6.9" fill="#7a52ab"/>
<circle cx="452.1" cy="1913.7" r="7.4" fill="#ab92cc"/>
<circle cx="474.4" cy="1949.3" r="6.8" fill="#8f6db9"/>
<circle cx="477.6" cy="1963.1" r="7.3" fill="#9777be"/>
<circle cx="483.4" cy="1966.8" r="6.6" fill="#ab92cc"/>
<circle cx="487.9" cy="1984.5" r="8.0" fill="#9777be"/>
<circle cx="594.2" cy="1925.7" r="7.1" fill="#7a52ab"/>
<circle cx="581.4" cy="1935.3" r="7.5" fill="#b7a0d4"/>
<circle cx="530.0" cy="2048.8" r="7.9" fill="#9b7cc0"/>
<circle cx="581.3" cy="1931.9" r="6.5" fill="#b7a0d4"/>
<circle cx="448.8" cy="1915.5" r="8.0" fill="#7a52ab"/>
<circle cx="468.2" cy="1925.5" r="6.9" fill="#a286c6"/>
<circle cx="490.0" cy="1981.6" r="6.6" fill="#9b7cc0"/>
<circle cx="570.5" cy="1945.7" r="7.8" fill="#cbb8e0"/>
<circle cx="487.4" cy="1988.5" r="6.5" fill="#9b7cc0"/>
<circle cx="591.6" cy="1916.3" r="6.9" fill="#ab92cc"/>
<circle cx="456.3" cy="1902.4" r="6.9" fill="#b7a0d4"/>
<circle cx="438.4" cy="1904.7" r="8.2" fill="#8f6db9"/>
<circle cx="507.2" cy="2025.2" r="6.3" fill="#ab92cc"/>
<circle cx="519.9" cy="2063.3" r="6.9" fill="#9b7cc0"/>
<circle cx="542.7" cy="2021.8" r="7.1" fill="#8460b2"/>
<circle cx="491.4" cy="1991.9" r="7.1" fill="#9b7cc0"/>
<circle cx="604.2" cy="1882.5" r="6.7" fill="#9777be"/>
<circle cx="603.0" cy="1901.9" r="7.5" fill="#7a52ab"/>
<circle cx="546.4" cy="2007.5" r="8.1" fill="#a286c6"/>
<circle cx="550.8" cy="2002.7" r="7.4" fill="#8460b2"/>
<circle cx="478.9" cy="1956.4" r="8.1" fill="#ab92cc"/>
<circle cx="510.7" cy="2040.5" r="6.6" fill="#a286c6"/>
<circle cx="579.2" cy="1941.6" r="7.3" fill="#b7a0d4"/>
<circle cx="512.5" cy="2048.2" r="8.0" fill="#6a3ea2"/>
<circle cx="446.5" cy="1901.0" r="7.6" fill="#8f6db9"/>
<circle cx="523.0" cy="2062.5" r="6.4" fill="#9b7cc0"/>
<circle cx="482.6" cy="1980.9" r="7.6" fill="#b7a0d4"/>
<circle cx="526.7" cy="2057.0" r="7.1" fill="#ab92cc"/>
<circle cx="502.6" cy="2017.2" r="7.7" fill="#ab92cc"/>
<circle cx="507.1" cy="2030.6" r="7.2" fill="#7a52ab"/>
<circle cx="551.3" cy="2000.7" r="7.3" fill="#cbb8e0"/>
<circle cx="497.1" cy="2009.4" r="7.2" fill="#ab92cc"/>
<circle cx="554.2" cy="2009.1" r="6.7" fill="#6a3ea2"/>
<circle cx="485.7" cy="1975.4" r="8.0" fill="#8f6db9"/>
<circle cx="575.4" cy="1961.8" r="8.1" fill="#9777be"/>
<circle cx="468.6" cy="1961.2" r="7.5" fill="#7a52ab"/>
<circle cx="488.8" cy="1994.7" r="6.8" fill="#9777be"/>
<circle cx="527.7" cy="2049.1" r="6.3" fill="#cbb8e0"/>
<circle cx="558.1" cy="1994.2" r="6.6" fill="#9b7cc0"/>
<circle cx="451.5" cy="1906.0" r="7.0" fill="#9b7cc0"/>
<circle cx="515.2" cy="2049.6" r="6.5" fill="#ab92cc"/>
<circle cx="508.6" cy="2031.7" r="6.9" fill="#9b7cc0"/>
<circle cx="600.1" cy="1906.0" r="7.6" fill="#9777be"/>
<circle cx="502.9" cy="2024.8" r="6.6" fill="#8f6db9"/>
<circle cx="491.6" cy="1997.2" r="7.7" fill="#a286c6"/>
<circle cx="593.3" cy="1909.9" r="6.3" fill="#9b7cc0"/>
<circle cx="569.3" cy="1955.4" r="7.8" fill="#ddd0ea"/>
<circle cx="568.4" cy="1959.5" r="7.2" fill="#8f6db9"/>
<circle cx="484.2" cy="1992.2" r="8.2" fill="#8460b2"/>
<circle cx="568.9" cy="1975.6" r="7.8" fill="#7a52ab"/>
<circle cx="568.1" cy="1954.6" r="8.2" fill="#ab92cc"/>
<circle cx="583.5" cy="1943.9" r="6.3" fill="#9b7cc0"/>
<circle cx="444.9" cy="1899.4" r="6.7" fill="#ab92cc"/>
<circle cx="575.5" cy="1945.8" r="6.7" fill="#cbb8e0"/>
<circle cx="579.4" cy="1957.7" r="6.9" fill="#b7a0d4"/>
<circle cx="520.2" cy="2063.5" r="7.4" fill="#ab92cc"/>
<circle cx="470.8" cy="1935.8" r="6.4" fill="#9777be"/>
<circle cx="520.7" cy="2063.4" r="8.2" fill="#cbb8e0"/>
<circle cx="512.8" cy="2040.7" r="7.0" fill="#b7a0d4"/>
<circle cx="497.1" cy="2009.2" r="7.1" fill="#ab92cc"/>
<circle cx="594.3" cy="1939.0" r="6.9" fill="#7a52ab"/>
<circle cx="512.7" cy="2051.2" r="8.0" fill="#9777be"/>
<circle cx="530.8" cy="2050.8" r="6.6" fill="#7a52ab"/>
<circle cx="531.7" cy="2045.8" r="6.4" fill="#9777be"/>
<circle cx="536.1" cy="2026.0" r="6.8" fill="#9777be"/>
<circle cx="461.5" cy="1921.2" r="6.8" fill="#ab92cc"/>
<circle cx="608.6" cy="1885.8" r="8.0" fill="#ab92cc"/>
<circle cx="601.5" cy="1923.2" r="7.0" fill="#9777be"/>
<circle cx="575.3" cy="1968.2" r="7.0" fill="#8460b2"/>
<circle cx="564.2" cy="1988.8" r="7.3" fill="#a286c6"/>
<circle cx="574.7" cy="1960.0" r="6.5" fill="#9b7cc0"/>
<circle cx="538.4" cy="2031.0" r="6.4" fill="#8460b2"/>
<circle cx="479.9" cy="1956.6" r="7.6" fill="#9b7cc0"/>
<circle cx="561.9" cy="1988.6" r="8.1" fill="#8f6db9"/>
<circle cx="473.0" cy="1933.8" r="7.1" fill="#cbb8e0"/>
<circle cx="458.5" cy="1909.5" r="8.1" fill="#a286c6"/>
<circle cx="477.0" cy="1963.4" r="6.5" fill="#a286c6"/>
<circle cx="506.3" cy="2032.4" r="6.5" fill="#7a52ab"/>
<circle cx="515.7" cy="2055.1" r="7.3" fill="#6a3ea2"/>
<circle cx="578.6" cy="1962.5" r="7.0" fill="#8460b2"/>
<circle cx="477.3" cy="1962.0" r="7.1" fill="#6a3ea2"/>
<circle cx="566.9" cy="1981.5" r="7.0" fill="#8f6db9"/>
<circle cx="461.6" cy="1937.6" r="7.2" fill="#8f6db9"/>
<circle cx="521.0" cy="2055.3" r="6.9" fill="#a286c6"/>
<circle cx="524.7" cy="2057.6" r="6.9" fill="#a286c6"/>
<circle cx="519.7" cy="2061.9" r="7.3" fill="#9777be"/>
<circle cx="518.2" cy="2064.1" r="7.1" fill="#9b7cc0"/>
<circle cx="517.3" cy="2063.0" r="7.0" fill="#9777be"/>
<circle cx="522.0" cy="2064.9" r="6.9" fill="#a286c6"/>
<circle cx="522.0" cy="2054.2" r="7.2" fill="#9777be"/>
<circle cx="522.9" cy="2065.3" r="6.6" fill="#a286c6"/>
<circle cx="522.4" cy="2057.6" r="6.8" fill="#9777be"/>
<circle cx="522.4" cy="2056.8" r="7.4" fill="#9777be"/>
<circle cx="521.4" cy="2061.1" r="6.8" fill="#9b7cc0"/>
<circle cx="524.2" cy="2063.2" r="6.5" fill="#a286c6"/>
<circle cx="523.5" cy="2058.2" r="6.8" fill="#9777be"/>
<circle cx="524.2" cy="2056.9" r="7.0" fill="#a286c6"/>
<circle cx="522.1" cy="2058.7" r="6.8" fill="#a286c6"/>
<circle cx="521.9" cy="2059.9" r="7.4" fill="#9b7cc0"/>
<circle cx="520.0" cy="2057.4" r="6.9" fill="#9777be"/>
<circle cx="521.3" cy="2055.9" r="6.8" fill="#a286c6"/>
<circle cx="518.3" cy="2061.7" r="6.5" fill="#9b7cc0"/>
<circle cx="518.7" cy="2062.3" r="6.6" fill="#a286c6"/>
<circle cx="518.8" cy="2052.8" r="6.8" fill="#9777be"/>
<circle cx="524.8" cy="2064.7" r="6.6" fill="#9b7cc0"/>
<circle cx="521.4" cy="2064.9" r="6.6" fill="#9b7cc0"/>
<circle cx="520.5" cy="2054.7" r="7.2" fill="#9777be"/>
<circle cx="520.1" cy="2053.3" r="7.4" fill="#9b7cc0"/>
<circle cx="358.8" cy="1708.0" r="9.5" fill="#a58bc8"/>
<circle cx="395.0" cy="1809.9" r="7.5" fill="#8f6bb8"/>
<circle cx="440.8" cy="1810.0" r="9.0" fill="#53278f"/>
<circle cx="427.0" cy="1847.7" r="8.0" fill="#8f6bb8"/>
<circle cx="429.0" cy="1855.9" r="8.0" fill="#a080c4"/>
<circle cx="423.7" cy="1861.0" r="8.0" fill="#a58bc8"/>
<circle cx="886.4" cy="1347.0" r="10.0" fill="#7e57b0"/>
<circle cx="760.8" cy="1556.6" r="9.5" fill="#6f45a6"/>
<circle cx="675.0" cy="1664.0" r="9.0" fill="#a88fca"/>
<circle cx="642.7" cy="1704.4" r="8.0" fill="#8560b3"/>
<circle cx="648.3" cy="1714.0" r="7.0" fill="#9a7bc0"/>
<circle cx="627.0" cy="1740.7" r="7.5" fill="#9673bd"/>
<circle cx="657.9" cy="1755.0" r="8.0" fill="#8a63b5"/>
<circle cx="662.4" cy="1762.0" r="8.0" fill="#a58bc8"/>
<circle cx="623.7" cy="1762.0" r="8.5" fill="#8a63b5"/>
<circle cx="611.0" cy="1775.5" r="9.0" fill="#a58bc8"/>
<circle cx="638.5" cy="1793.0" r="9.0" fill="#8058ae"/>
<circle cx="647.0" cy="1797.0" r="8.0" fill="#8a63b5"/>
<circle cx="655.4" cy="1804.0" r="7.0" fill="#a58bc8"/>
<circle cx="662.4" cy="1812.7" r="10.0" fill="#6a3ea2"/>
<circle cx="636.4" cy="1809.0" r="9.0" fill="#a58bc8"/>
<circle cx="635.7" cy="1821.0" r="8.0" fill="#a58bc8"/>
<circle cx="607.5" cy="1824.0" r="9.0" fill="#8a63b5"/>
<circle cx="600.5" cy="1829.6" r="9.0" fill="#8a63b5"/>
<circle cx="609.0" cy="1841.0" r="10.0" fill="#8058ae"/>
<circle cx="637.0" cy="1846.5" r="8.0" fill="#8a63b5"/>
<circle cx="631.4" cy="1856.0" r="10.0" fill="#8a63b5"/>
<circle cx="618.8" cy="1857.8" r="9.0" fill="#9673bd"/>
<circle cx="596.0" cy="1859.0" r="10.0" fill="#9673bd"/>
<circle cx="576.6" cy="1860.6" r="8.0" fill="#cbb8e0"/>
<circle cx="586.0" cy="1862.0" r="7.0" fill="#a58bc8"/>
<circle cx="587.0" cy="1879.0" r="8.0" fill="#52268f"/>
<circle cx="625.8" cy="1872.0" r="9.0" fill="#6a3ea2"/>
<circle cx="573.0" cy="1888.7" r="7.0" fill="#a58bc8"/>
<circle cx="616.0" cy="1895.7" r="9.0" fill="#52268f"/>
<circle cx="610.0" cy="1868.0" r="9.0" fill="#8a63b5"/>
<circle cx="622.0" cy="1880.0" r="9.0" fill="#9673bd"/>
<circle cx="604.0" cy="1875.0" r="8.0" fill="#a58bc8"/></g>
<g stroke="#111" stroke-width="1" fill="none">
<line x1="872.8" y1="1333.6" x2="888" y2="1347.8"/>
<line x1="761.8" y1="1403" x2="761.8" y2="1555"/>
<line x1="676.7" y1="1444" x2="676.7" y2="1663"/>
<line x1="705" y1="1475.5" x2="643" y2="1704"/>
<line x1="705" y1="1511.6" x2="648" y2="1714"/>
<line x1="705" y1="1546" x2="627" y2="1740"/>
<line x1="708.5" y1="1583.7" x2="624" y2="1762"/>
<line x1="715" y1="1616" x2="611" y2="1775"/>
<line x1="656.6" y1="1690" x2="658.3" y2="1749"/>
<line x1="717.3" y1="1705.1" x2="660" y2="1760"/>
<line x1="672" y1="1732.4" x2="637" y2="1791"/>
<line x1="637.1" y1="1811.6" x2="656.6" y2="1972"/>
<line x1="642.3" y1="1801.3" x2="691.6" y2="2017.2"/>
<line x1="661.8" y1="1811.6" x2="672.1" y2="1947.3"/>
<line x1="654.6" y1="1801.3" x2="731.7" y2="1896.9"/>
<line x1="664" y1="1812" x2="730.7" y2="1895.9"/>
<line x1="650.5" y1="1797.2" x2="681.3" y2="1798.2"/>
<line x1="637" y1="1811" x2="646" y2="1862"/>
</g>
<g font-size="27.8" fill="#000" text-anchor="end">
<text x="924.4" y="1331.0">Mossy−&gt;Mossy:Mcam−&gt;Mcam</text>
<text x="924.4" y="1367.4">AstroSub1−&gt;Mossy:Mfge8−&gt;Pdgfrb</text>
<text x="924.4" y="1403.7">Mossy−&gt;Mossy:Mfge8−&gt;Pdgfrb</text>
<text x="924.4" y="1440.1">Mossy−&gt;Mossy:Vtn−&gt;Itga5</text>
<text x="924.4" y="1476.5">Mossy−&gt;Mossy:Vtn−&gt;Itga8</text>
<text x="924.4" y="1512.8">Mossy−&gt;Mossy:Vtn−&gt;Itgav</text>
<text x="924.4" y="1549.2">Mossy−&gt;OPC:Vtn−&gt;Plaur</text>
<text x="924.4" y="1585.6">Mossy−&gt;OPC:Vtn−&gt;Itga8</text>
<text x="924.4" y="1622.0">OPC−&gt;Mossy:Mfge8−&gt;Pdgfrb</text>
<text x="924.4" y="1658.3">Mossy−&gt;AstroSub1:Ptn−&gt;Plxnb2</text>
<text x="924.4" y="1694.7">Mossy−&gt;InhibNeuron:Vtn−&gt;Itga8</text>
<text x="924.4" y="1731.1">Mossy−&gt;Mossy:Pdgfd−&gt;Pdgfrb</text>
<text x="924.4" y="1767.4">AstroSub1−&gt;Granule:Agt−&gt;Agtr1a</text>
<text x="924.4" y="1803.8">OPC−&gt;AstroSub1:Arf1−&gt;Pld2</text>
<text x="924.4" y="1840.2">Mossy−&gt;InhibNeuron:Vtn−&gt;Itgb3</text>
<text x="924.4" y="1876.5">Mossy−&gt;ExcitNeuron:Agrn−&gt;Atp1a3</text>
<text x="924.4" y="1912.9">ExcitNeuron−&gt;Mossy:Pdgfc−&gt;Pdgfrb</text>
<text x="924.4" y="1949.3">Granule−&gt;Mossy:Ntn1−&gt;Mcam</text>
<text x="924.4" y="1985.7">Mossy−&gt;InhibNeuron:Vtn−&gt;Plaur</text>
<text x="924.4" y="2022.0">Mossy−&gt;OPC:Lrpap1−&gt;Lrp1</text>
</g>
<g font-size="24.3" fill="#000">
<text x="122.3" y="1686">Oligodend1−&gt;OPC:Cntn2−&gt;Cntn1</text>
<text x="122.3" y="1790">Microglia1−&gt;Microglia1:C3−&gt;Itgam</text>
</g>
<defs><clipPath id="cld"><rect x="1100" y="1200" width="913.3" height="972"/></clipPath></defs><g clip-path="url(#cld)"><g stroke="#505256" stroke-width="1.5" fill="none"><path d="M1220.1 1294.3 V2082.7 H2017"/></g>
<g stroke="#505256" stroke-width="1.3">
<line x1="1255.6" x2="1255.6" y1="2082.7" y2="2088.8"/>
<line x1="1436.9" x2="1436.9" y1="2082.7" y2="2088.8"/>
<line x1="1618.2" x2="1618.2" y1="2082.7" y2="2088.8"/>
<line x1="1799.5" x2="1799.5" y1="2082.7" y2="2088.8"/>
<line x1="1980.8" x2="1980.8" y1="2082.7" y2="2088.8"/>
<line x1="1214.1" x2="1220" y1="2058.2" y2="2058.2"/>
<line x1="1214.1" x2="1220" y1="1807.7" y2="1807.7"/>
<line x1="1214.1" x2="1220" y1="1557.2" y2="1557.2"/>
</g>
<g font-size="17" fill="#4d4d4d" text-anchor="middle">
<text x="1251.3" y="2102.8">−0.06</text>
<text x="1432.6" y="2102.8">−0.03</text>
<text x="1614.5" y="2102.8">0.00</text>
<text x="1795.2" y="2102.8">0.03</text>
<text x="1976.5" y="2102.8">0.06</text>
</g><g font-size="17" fill="#4d4d4d" text-anchor="end">
<text x="1214.6" y="2066.4">0.00</text>
<text x="1214.6" y="1815.9">0.05</text>
<text x="1214.6" y="1565.4">0.10</text>
<text x="1214.6" y="1314.9">0.15</text>
</g>
<g font-size="29.64" fill="#000" text-anchor="middle">
<text x="1644.5" y="2148.6">Difference in mean specificity score</text>
<text transform="translate(1160,1666) rotate(-90)">Higher mean specificity score</text>
</g>
<g stroke="#111" stroke-width="2.1" stroke-dasharray="15.8 15.75" fill="none">
<line x1="1433.6" x2="1433.6" y1="1309.5" y2="2082.5"/>
<line x1="1795.7" x2="1795.7" y1="1309.5" y2="2082.5"/>
<line x1="1216.5" x2="2017" y1="1807.7" y2="1807.7"/>
</g>
<g><circle cx="1675.9" cy="1944.9" r="7.5" fill="#e8b29c"/>
<circle cx="1650.9" cy="2008.6" r="7.7" fill="#d98565"/>
<circle cx="1667.4" cy="1950.1" r="7.4" fill="#e8b29c"/>
<circle cx="1678.0" cy="1935.8" r="7.6" fill="#e2a48c"/>
<circle cx="1597.5" cy="2036.2" r="6.3" fill="#df9c82"/>
<circle cx="1645.3" cy="2007.5" r="7.1" fill="#f0c4b2"/>
<circle cx="1633.1" cy="2031.5" r="7.6" fill="#e8b29c"/>
<circle cx="1641.5" cy="1964.2" r="7.9" fill="#f5cfc0"/>
<circle cx="1711.2" cy="1952.0" r="7.3" fill="#d47a58"/>
<circle cx="1705.1" cy="1929.0" r="7.9" fill="#dd967b"/>
<circle cx="1644.5" cy="1967.8" r="8.1" fill="#f2c6b5"/>
<circle cx="1689.9" cy="1972.3" r="6.6" fill="#cc6a46"/>
<circle cx="1705.3" cy="1937.7" r="7.8" fill="#e2a48c"/>
<circle cx="1689.0" cy="1969.0" r="8.4" fill="#dc8e72"/>
<circle cx="1698.6" cy="1929.6" r="8.4" fill="#df9c82"/>
<circle cx="1649.6" cy="1969.8" r="8.6" fill="#f7dacd"/>
<circle cx="1677.7" cy="1904.2" r="8.1" fill="#e8b29c"/>
<circle cx="1560.1" cy="1994.3" r="7.1" fill="#d47a58"/>
<circle cx="1670.5" cy="1986.8" r="8.8" fill="#dc8e72"/>
<circle cx="1721.0" cy="1878.9" r="8.6" fill="#dd967b"/>
<circle cx="1710.2" cy="1881.2" r="8.7" fill="#e8b29c"/>
<circle cx="1693.6" cy="1955.6" r="6.7" fill="#cc6a46"/>
<circle cx="1698.9" cy="1926.1" r="8.1" fill="#df9c82"/>
<circle cx="1639.2" cy="2025.5" r="7.4" fill="#df9c82"/>
<circle cx="1718.3" cy="1918.9" r="7.3" fill="#cc6a46"/>
<circle cx="1727.9" cy="1888.1" r="7.6" fill="#d98565"/>
<circle cx="1679.6" cy="1906.0" r="8.2" fill="#f7dacd"/>
<circle cx="1652.8" cy="1991.4" r="8.3" fill="#e2a48c"/>
<circle cx="1625.3" cy="2002.0" r="8.9" fill="#fdeee8"/>
<circle cx="1665.8" cy="1951.3" r="8.4" fill="#f0c4b2"/>
<circle cx="1730.8" cy="1891.6" r="6.8" fill="#e2a48c"/>
<circle cx="1640.0" cy="1963.5" r="9.4" fill="#f7dacd"/>
<circle cx="1699.9" cy="1955.2" r="8.1" fill="#d47a58"/>
<circle cx="1700.5" cy="1931.0" r="7.4" fill="#f0c4b2"/>
<circle cx="1718.7" cy="1883.8" r="6.6" fill="#df9c82"/>
<circle cx="1511.0" cy="1911.7" r="7.3" fill="#e8b29c"/>
<circle cx="1730.9" cy="1923.7" r="8.3" fill="#cc6a46"/>
<circle cx="1677.9" cy="1985.8" r="7.8" fill="#d47a58"/>
<circle cx="1519.5" cy="1938.0" r="7.0" fill="#dd967b"/>
<circle cx="1567.9" cy="1987.9" r="6.7" fill="#e8b29c"/>
<circle cx="1694.8" cy="1949.1" r="6.7" fill="#dd967b"/>
<circle cx="1694.7" cy="1896.5" r="6.9" fill="#f7dacd"/>
<circle cx="1681.5" cy="1978.2" r="7.7" fill="#cc6a46"/>
<circle cx="1660.0" cy="1949.2" r="8.4" fill="#f0c4b2"/>
<circle cx="1673.4" cy="1947.8" r="8.1" fill="#df9c82"/>
<circle cx="1694.8" cy="1921.2" r="7.9" fill="#f7dacd"/>
<circle cx="1728.4" cy="1912.5" r="7.4" fill="#d47a58"/>
<circle cx="1729.7" cy="1901.3" r="6.8" fill="#cc6a46"/>
<circle cx="1658.1" cy="1941.7" r="8.3" fill="#f7dacd"/>
<circle cx="1598.3" cy="2042.1" r="6.7" fill="#d47a58"/>
<circle cx="1700.7" cy="1901.7" r="7.4" fill="#df9c82"/>
<circle cx="1592.8" cy="2030.1" r="6.7" fill="#dc8e72"/>
<circle cx="1647.5" cy="1982.5" r="8.6" fill="#f7dacd"/>
<circle cx="1652.9" cy="1962.3" r="6.7" fill="#dc8e72"/>
<circle cx="1707.7" cy="1930.7" r="7.8" fill="#d98565"/>
<circle cx="1725.1" cy="1898.9" r="6.7" fill="#d47a58"/>
<circle cx="1678.4" cy="1911.7" r="8.4" fill="#e8b29c"/>
<circle cx="1713.0" cy="1942.3" r="7.5" fill="#cc6a46"/>
<circle cx="1659.1" cy="1975.3" r="6.5" fill="#e2a48c"/>
<circle cx="1493.2" cy="1893.6" r="8.0" fill="#dc8e72"/>
<circle cx="1683.3" cy="1931.9" r="8.5" fill="#f7dacd"/>
<circle cx="1718.4" cy="1894.7" r="8.5" fill="#e8b29c"/>
<circle cx="1724.0" cy="1903.6" r="8.4" fill="#e2a48c"/>
<circle cx="1683.1" cy="1969.2" r="8.4" fill="#df9c82"/>
<circle cx="1573.9" cy="2008.0" r="7.9" fill="#d47a58"/>
<circle cx="1597.4" cy="2042.5" r="8.0" fill="#d47a58"/>
<circle cx="1677.5" cy="1917.6" r="7.0" fill="#f7dacd"/>
<circle cx="1735.0" cy="1906.9" r="7.0" fill="#d98565"/>
<circle cx="1630.4" cy="2038.1" r="8.0" fill="#e2a48c"/>
<circle cx="1714.0" cy="1897.2" r="6.5" fill="#e2a48c"/>
<circle cx="1701.5" cy="1886.5" r="8.4" fill="#f7dacd"/>
<circle cx="1567.0" cy="1992.1" r="7.5" fill="#dc8e72"/>
<circle cx="1628.5" cy="2033.9" r="8.2" fill="#f7dacd"/>
<circle cx="1668.8" cy="1973.6" r="7.1" fill="#e8b29c"/>
<circle cx="1627.6" cy="2040.8" r="7.4" fill="#e8b29c"/>
<circle cx="1598.2" cy="2039.8" r="7.4" fill="#d98565"/>
<circle cx="1643.7" cy="1985.6" r="7.0" fill="#f0c4b2"/>
<circle cx="1579.8" cy="2011.8" r="6.3" fill="#e2a48c"/>
<circle cx="1639.1" cy="2007.1" r="7.9" fill="#dd967b"/>
<circle cx="1713.7" cy="1938.2" r="7.7" fill="#dd967b"/>
<circle cx="1683.8" cy="1951.3" r="7.3" fill="#dd967b"/>
<circle cx="1685.4" cy="1926.9" r="7.7" fill="#f0c4b2"/>
<circle cx="1686.6" cy="1948.7" r="8.7" fill="#d47a58"/>
<circle cx="1652.9" cy="1956.3" r="8.7" fill="#f7dacd"/>
<circle cx="1661.6" cy="1938.8" r="6.7" fill="#f7dacd"/>
<circle cx="1532.6" cy="1947.5" r="7.5" fill="#dd967b"/>
<circle cx="1703.5" cy="1935.4" r="8.0" fill="#df9c82"/>
<circle cx="1587.3" cy="2018.8" r="7.6" fill="#df9c82"/>
<circle cx="1721.1" cy="1931.0" r="7.9" fill="#d98565"/>
<circle cx="1713.1" cy="1889.9" r="7.3" fill="#e2a48c"/>
<circle cx="1525.6" cy="1944.7" r="7.4" fill="#dd967b"/>
<circle cx="1700.4" cy="1960.9" r="7.0" fill="#cc6a46"/>
<circle cx="1600.6" cy="2038.0" r="6.3" fill="#d98565"/>
<circle cx="1649.4" cy="1974.4" r="8.8" fill="#f0c4b2"/>
<circle cx="1666.1" cy="1975.5" r="8.4" fill="#dc8e72"/>
<circle cx="1701.7" cy="1938.7" r="8.2" fill="#dc8e72"/>
<circle cx="1683.5" cy="1952.3" r="7.1" fill="#dc8e72"/>
<circle cx="1634.5" cy="1974.8" r="7.5" fill="#f2c6b5"/>
<circle cx="1726.6" cy="1886.4" r="7.1" fill="#d47a58"/>
<circle cx="1686.5" cy="1919.1" r="7.0" fill="#e8b29c"/>
<circle cx="1566.1" cy="1992.7" r="7.7" fill="#dd967b"/>
<circle cx="1730.8" cy="1891.8" r="8.7" fill="#d47a58"/>
<circle cx="1596.3" cy="2042.7" r="8.0" fill="#d47a58"/>
<circle cx="1705.6" cy="1881.8" r="8.1" fill="#f7dacd"/>
<circle cx="1693.3" cy="1903.0" r="7.2" fill="#df9c82"/>
<circle cx="1723.5" cy="1932.2" r="7.7" fill="#d47a58"/>
<circle cx="1544.0" cy="1963.6" r="7.8" fill="#d98565"/>
<circle cx="1596.2" cy="2033.6" r="8.0" fill="#dd967b"/>
<circle cx="1685.7" cy="1971.3" r="7.6" fill="#dc8e72"/>
<circle cx="1493.0" cy="1885.1" r="7.6" fill="#e8b29c"/>
<circle cx="1665.9" cy="1979.1" r="8.1" fill="#e2a48c"/>
<circle cx="1722.6" cy="1889.0" r="7.7" fill="#d98565"/>
<circle cx="1632.3" cy="2030.8" r="8.8" fill="#e2a48c"/>
<circle cx="1540.4" cy="1963.3" r="7.4" fill="#df9c82"/>
<circle cx="1692.5" cy="1971.8" r="8.7" fill="#cc6a46"/>
<circle cx="1542.1" cy="1960.7" r="6.8" fill="#dc8e72"/>
<circle cx="1688.5" cy="1921.9" r="8.6" fill="#e2a48c"/>
<circle cx="1681.3" cy="1921.9" r="7.5" fill="#f7dacd"/>
<circle cx="1651.7" cy="1969.2" r="7.6" fill="#dd967b"/>
<circle cx="1600.7" cy="2046.9" r="6.6" fill="#d98565"/>
<circle cx="1540.5" cy="1963.0" r="7.9" fill="#dc8e72"/>
<circle cx="1662.5" cy="1984.2" r="7.6" fill="#df9c82"/>
<circle cx="1695.8" cy="1914.9" r="6.8" fill="#e8b29c"/>
<circle cx="1636.3" cy="1985.7" r="8.0" fill="#f5cfc0"/>
<circle cx="1494.6" cy="1896.8" r="6.6" fill="#dd967b"/>
<circle cx="1627.5" cy="2037.4" r="8.4" fill="#df9c82"/>
<circle cx="1675.8" cy="1967.7" r="7.3" fill="#d98565"/>
<circle cx="1650.8" cy="1953.3" r="7.9" fill="#f7dacd"/>
<circle cx="1728.3" cy="1920.6" r="6.6" fill="#d98565"/>
<circle cx="1692.0" cy="1973.0" r="7.3" fill="#cc6a46"/>
<circle cx="1643.7" cy="1973.6" r="7.7" fill="#e8b29c"/>
<circle cx="1526.0" cy="1941.8" r="8.0" fill="#d47a58"/>
<circle cx="1694.7" cy="1931.7" r="6.6" fill="#e2a48c"/>
<circle cx="1706.6" cy="1880.5" r="7.4" fill="#f0c4b2"/>
<circle cx="1717.2" cy="1888.8" r="8.2" fill="#dd967b"/>
<circle cx="1685.3" cy="1899.4" r="8.6" fill="#e2a48c"/>
<circle cx="1720.4" cy="1898.3" r="6.5" fill="#dc8e72"/>
<circle cx="1642.8" cy="1997.5" r="8.5" fill="#e8b29c"/>
<circle cx="1704.8" cy="1945.4" r="6.8" fill="#cc6a46"/>
<circle cx="1500.9" cy="1905.2" r="6.7" fill="#dd967b"/>
<circle cx="1691.0" cy="1946.3" r="8.4" fill="#dd967b"/>
<circle cx="1651.4" cy="2009.2" r="8.6" fill="#dc8e72"/>
<circle cx="1714.5" cy="1940.8" r="7.8" fill="#d47a58"/>
<circle cx="1637.3" cy="2034.9" r="7.7" fill="#e2a48c"/>
<circle cx="1692.8" cy="1960.0" r="7.3" fill="#dd967b"/>
<circle cx="1645.0" cy="2004.4" r="7.8" fill="#e2a48c"/>
<circle cx="1598.4" cy="2031.9" r="7.1" fill="#e8b29c"/>
<circle cx="1675.4" cy="1962.9" r="7.5" fill="#f0c4b2"/>
<circle cx="1687.8" cy="1916.3" r="7.5" fill="#f0c4b2"/>
<circle cx="1693.4" cy="1945.6" r="8.0" fill="#dd967b"/>
<circle cx="1519.9" cy="1928.5" r="7.1" fill="#e8b29c"/>
<circle cx="1707.5" cy="1927.6" r="8.8" fill="#e8b29c"/>
<circle cx="1687.5" cy="1911.0" r="7.0" fill="#e8b29c"/>
<circle cx="1651.4" cy="1943.9" r="9.0" fill="#f7dacd"/>
<circle cx="1700.9" cy="1922.9" r="8.4" fill="#df9c82"/>
<circle cx="1651.7" cy="1928.5" r="7.7" fill="#f2c6b5"/>
<circle cx="1597.2" cy="2041.0" r="7.7" fill="#e8b29c"/>
<circle cx="1627.6" cy="2037.9" r="6.9" fill="#f7dacd"/>
<circle cx="1529.5" cy="1950.6" r="8.0" fill="#d98565"/>
<circle cx="1718.8" cy="1877.6" r="8.2" fill="#e8b29c"/>
<circle cx="1722.5" cy="1914.6" r="7.3" fill="#d98565"/>
<circle cx="1636.3" cy="2039.9" r="7.4" fill="#cc6a46"/>
<circle cx="1714.7" cy="1884.2" r="7.4" fill="#df9c82"/>
<circle cx="1642.3" cy="2034.4" r="6.7" fill="#dc8e72"/>
<circle cx="1660.3" cy="1974.6" r="8.1" fill="#f0c4b2"/>
<circle cx="1535.3" cy="1950.3" r="6.6" fill="#e8b29c"/>
<circle cx="1677.8" cy="1982.4" r="8.6" fill="#cc6a46"/>
<circle cx="1682.2" cy="1908.6" r="8.8" fill="#f7dacd"/>
<circle cx="1725.1" cy="1935.5" r="7.6" fill="#cc6a46"/>
<circle cx="1494.2" cy="1889.2" r="7.4" fill="#df9c82"/>
<circle cx="1690.8" cy="1919.0" r="7.3" fill="#e2a48c"/>
<circle cx="1641.4" cy="2023.8" r="6.9" fill="#dc8e72"/>
<circle cx="1683.6" cy="1912.8" r="7.0" fill="#e2a48c"/>
<circle cx="1721.1" cy="1928.2" r="7.4" fill="#cc6a46"/>
<circle cx="1646.1" cy="1993.5" r="8.6" fill="#df9c82"/>
<circle cx="1642.5" cy="2000.7" r="8.0" fill="#e8b29c"/>
<circle cx="1644.7" cy="2004.6" r="8.0" fill="#df9c82"/>
<circle cx="1532.5" cy="1944.6" r="6.5" fill="#df9c82"/>
<circle cx="1671.5" cy="1923.7" r="7.9" fill="#f7dacd"/>
<circle cx="1721.5" cy="1900.9" r="7.1" fill="#d47a58"/>
<circle cx="1657.4" cy="1961.0" r="7.9" fill="#e8b29c"/>
<circle cx="1636.3" cy="2025.1" r="7.2" fill="#e8b29c"/>
<circle cx="1666.7" cy="2001.3" r="7.7" fill="#dc8e72"/>
<circle cx="1658.6" cy="1964.0" r="8.4" fill="#e8b29c"/>
<circle cx="1678.9" cy="1972.8" r="6.9" fill="#dc8e72"/>
<circle cx="1694.6" cy="1923.4" r="7.7" fill="#e8b29c"/>
<circle cx="1672.8" cy="1973.4" r="7.3" fill="#df9c82"/>
<circle cx="1676.9" cy="1922.5" r="6.8" fill="#e2a48c"/>
<circle cx="1699.3" cy="1948.2" r="7.1" fill="#d98565"/>
<circle cx="1679.3" cy="1928.3" r="8.3" fill="#f7dacd"/>
<circle cx="1564.2" cy="1991.6" r="7.0" fill="#df9c82"/>
<circle cx="1677.9" cy="1910.0" r="7.8" fill="#e8b29c"/>
<circle cx="1596.4" cy="2037.3" r="6.7" fill="#dd967b"/>
<circle cx="1677.2" cy="1949.7" r="6.8" fill="#e8b29c"/>
<circle cx="1720.2" cy="1895.2" r="8.1" fill="#dc8e72"/>
<circle cx="1709.7" cy="1914.5" r="7.1" fill="#df9c82"/>
<circle cx="1660.3" cy="1951.6" r="7.3" fill="#f7dacd"/>
<circle cx="1734.8" cy="1906.7" r="8.6" fill="#d47a58"/>
<circle cx="1671.2" cy="1939.2" r="8.7" fill="#f0c4b2"/>
<circle cx="1709.9" cy="1954.4" r="7.1" fill="#d47a58"/>
<circle cx="1701.6" cy="1951.3" r="7.8" fill="#d98565"/>
<circle cx="1735.0" cy="1914.1" r="7.4" fill="#cc6a46"/>
<circle cx="1695.2" cy="1920.7" r="7.8" fill="#e2a48c"/>
<circle cx="1728.1" cy="1891.2" r="8.0" fill="#d98565"/>
<circle cx="1697.8" cy="1912.2" r="8.8" fill="#e2a48c"/>
<circle cx="1600.1" cy="2037.0" r="6.7" fill="#df9c82"/>
<circle cx="1662.9" cy="2004.9" r="7.5" fill="#d47a58"/>
<circle cx="1654.1" cy="2005.6" r="7.1" fill="#dc8e72"/>
<circle cx="1653.8" cy="2020.2" r="8.2" fill="#d98565"/>
<circle cx="1696.3" cy="1891.3" r="8.8" fill="#e2a48c"/>
<circle cx="1698.6" cy="1900.1" r="8.8" fill="#dc8e72"/>
<circle cx="1681.9" cy="1954.8" r="8.3" fill="#cc6a46"/>
<circle cx="1671.1" cy="1963.8" r="8.4" fill="#e2a48c"/>
<circle cx="1672.2" cy="1953.7" r="7.1" fill="#dd967b"/>
<circle cx="1667.3" cy="1961.0" r="8.8" fill="#df9c82"/>
<circle cx="1649.3" cy="1985.4" r="7.1" fill="#e2a48c"/>
<circle cx="1655.3" cy="2010.6" r="8.0" fill="#d47a58"/>
<circle cx="1655.0" cy="1971.5" r="7.7" fill="#e8b29c"/>
<circle cx="1693.4" cy="1902.0" r="8.2" fill="#f0c4b2"/>
<circle cx="1690.3" cy="1944.7" r="8.5" fill="#df9c82"/>
<circle cx="1704.9" cy="1895.8" r="7.0" fill="#f7dacd"/>
<circle cx="1663.8" cy="1944.1" r="7.0" fill="#f7dacd"/>
<circle cx="1582.2" cy="2019.2" r="7.2" fill="#df9c82"/>
<circle cx="1637.1" cy="2019.0" r="8.3" fill="#f0c4b2"/>
<circle cx="1720.2" cy="1917.8" r="6.8" fill="#d98565"/>
<circle cx="1710.5" cy="1896.9" r="8.2" fill="#e2a48c"/>
<circle cx="1716.0" cy="1931.7" r="8.1" fill="#dc8e72"/>
<circle cx="1680.5" cy="1941.5" r="6.8" fill="#dc8e72"/>
<circle cx="1728.1" cy="1932.8" r="8.7" fill="#dc8e72"/>
<circle cx="1698.7" cy="1946.7" r="7.4" fill="#cc6a46"/>
<circle cx="1715.2" cy="1880.9" r="8.6" fill="#dc8e72"/>
<circle cx="1710.0" cy="1902.9" r="6.6" fill="#dd967b"/>
<circle cx="1726.4" cy="1876.1" r="6.9" fill="#df9c82"/>
<circle cx="1694.6" cy="1886.7" r="6.7" fill="#e8b29c"/>
<circle cx="1734.7" cy="1923.7" r="8.1" fill="#cc6a46"/>
<circle cx="1658.5" cy="1938.9" r="8.3" fill="#f7dacd"/>
<circle cx="1732.1" cy="1877.4" r="6.7" fill="#dc8e72"/>
<circle cx="1678.8" cy="1920.4" r="8.0" fill="#f0c4b2"/>
<circle cx="1686.1" cy="1974.1" r="8.3" fill="#cc6a46"/>
<circle cx="1592.4" cy="2037.1" r="7.9" fill="#d47a58"/>
<circle cx="1596.8" cy="2030.3" r="6.3" fill="#e2a48c"/>
<circle cx="1722.9" cy="1899.0" r="8.2" fill="#d98565"/>
<circle cx="1674.9" cy="1989.7" r="7.0" fill="#d98565"/>
<circle cx="1604.0" cy="2042.0" r="7.6" fill="#df9c82"/>
<circle cx="1627.1" cy="2015.0" r="7.3" fill="#f0c4b2"/>
<circle cx="1638.7" cy="2007.3" r="7.9" fill="#f7dacd"/>
<circle cx="1685.7" cy="1943.6" r="8.3" fill="#dd967b"/>
<circle cx="1706.5" cy="1928.4" r="7.4" fill="#dd967b"/>
<circle cx="1687.6" cy="1976.7" r="8.1" fill="#d47a58"/>
<circle cx="1673.0" cy="1994.9" r="6.8" fill="#d47a58"/>
<circle cx="1644.9" cy="2009.3" r="6.6" fill="#dd967b"/>
<circle cx="1639.3" cy="2017.7" r="8.6" fill="#df9c82"/>
<circle cx="1642.1" cy="2002.3" r="7.8" fill="#f0c4b2"/>
<circle cx="1702.6" cy="1892.1" r="6.7" fill="#e8b29c"/>
<circle cx="1566.9" cy="1991.8" r="7.5" fill="#dd967b"/>
<circle cx="1696.8" cy="1968.0" r="7.3" fill="#d47a58"/>
<circle cx="1722.0" cy="1925.1" r="8.7" fill="#d98565"/>
<circle cx="1693.8" cy="1966.8" r="8.1" fill="#d47a58"/>
<circle cx="1489.0" cy="1893.6" r="7.4" fill="#d47a58"/>
<circle cx="1657.5" cy="1995.3" r="8.5" fill="#dd967b"/>
<circle cx="1557.3" cy="1984.4" r="6.8" fill="#d47a58"/>
<circle cx="1704.9" cy="1901.8" r="7.2" fill="#dd967b"/>
<circle cx="1651.2" cy="1998.7" r="6.6" fill="#e8b29c"/>
<circle cx="1689.1" cy="1958.2" r="7.4" fill="#cc6a46"/>
<circle cx="1704.0" cy="1910.7" r="6.8" fill="#dd967b"/>
<circle cx="1634.9" cy="2023.7" r="6.7" fill="#dc8e72"/>
<circle cx="1663.0" cy="1973.0" r="7.8" fill="#dc8e72"/>
<circle cx="1521.2" cy="1934.8" r="6.3" fill="#df9c82"/>
<circle cx="1660.4" cy="1993.4" r="8.1" fill="#df9c82"/>
<circle cx="1712.2" cy="1904.9" r="6.7" fill="#df9c82"/>
<circle cx="1735.5" cy="1888.7" r="8.1" fill="#d98565"/>
<circle cx="1679.6" cy="1965.6" r="7.8" fill="#e2a48c"/>
<circle cx="1649.6" cy="1959.1" r="8.4" fill="#f2c6b5"/>
<circle cx="1721.9" cy="1896.2" r="6.6" fill="#dd967b"/>
<circle cx="1539.6" cy="1962.5" r="8.1" fill="#d47a58"/>
<circle cx="1634.6" cy="2025.7" r="7.3" fill="#e2a48c"/>
<circle cx="1694.3" cy="1936.5" r="7.6" fill="#dd967b"/>
<circle cx="1711.2" cy="1934.1" r="7.6" fill="#dc8e72"/>
<circle cx="1556.4" cy="1983.0" r="7.2" fill="#dc8e72"/>
<circle cx="1550.8" cy="1970.1" r="8.0" fill="#e2a48c"/>
<circle cx="1528.2" cy="1939.5" r="8.1" fill="#dd967b"/>
<circle cx="1643.0" cy="1990.0" r="7.7" fill="#f0c4b2"/>
<circle cx="1677.2" cy="1920.1" r="8.3" fill="#e2a48c"/>
<circle cx="1688.9" cy="1934.8" r="8.2" fill="#e8b29c"/>
<circle cx="1587.7" cy="2029.7" r="8.0" fill="#dc8e72"/>
<circle cx="1660.3" cy="1957.5" r="6.7" fill="#f7dacd"/>
<circle cx="1586.7" cy="2019.0" r="6.8" fill="#d98565"/>
<circle cx="1654.5" cy="1974.7" r="7.1" fill="#e8b29c"/>
<circle cx="1726.6" cy="1878.9" r="8.1" fill="#df9c82"/>
<circle cx="1586.8" cy="2028.1" r="7.5" fill="#dd967b"/>
<circle cx="1660.3" cy="1999.6" r="7.2" fill="#dc8e72"/>
<circle cx="1721.8" cy="1908.7" r="7.0" fill="#d47a58"/>
<circle cx="1641.6" cy="2024.4" r="7.6" fill="#d98565"/>
<circle cx="1712.1" cy="1928.5" r="6.8" fill="#dc8e72"/>
<circle cx="1737.0" cy="1899.5" r="7.6" fill="#d47a58"/>
<circle cx="1645.9" cy="2003.7" r="7.6" fill="#dc8e72"/>
<circle cx="1653.0" cy="1978.5" r="7.2" fill="#f0c4b2"/>
<circle cx="1700.3" cy="1953.3" r="8.8" fill="#df9c82"/>
<circle cx="1643.0" cy="1998.9" r="6.5" fill="#f0c4b2"/>
<circle cx="1569.4" cy="1996.0" r="7.3" fill="#d47a58"/>
<circle cx="1692.9" cy="1965.2" r="8.3" fill="#cc6a46"/>
<circle cx="1591.7" cy="2028.3" r="7.1" fill="#df9c82"/>
<circle cx="1684.6" cy="1955.4" r="6.6" fill="#df9c82"/>
<circle cx="1646.2" cy="1977.3" r="7.3" fill="#e2a48c"/>
<circle cx="1704.2" cy="1934.3" r="7.5" fill="#dd967b"/>
<circle cx="1681.4" cy="1972.0" r="7.8" fill="#cc6a46"/>
<circle cx="1648.0" cy="1976.6" r="7.0" fill="#e8b29c"/>
<circle cx="1715.8" cy="1941.3" r="8.2" fill="#cc6a46"/>
<circle cx="1693.8" cy="1920.2" r="7.0" fill="#dd967b"/>
<circle cx="1720.9" cy="1905.1" r="8.3" fill="#dd967b"/>
<circle cx="1671.2" cy="1978.3" r="8.0" fill="#dd967b"/>
<circle cx="1653.2" cy="1994.8" r="7.0" fill="#df9c82"/>
<circle cx="1580.3" cy="2012.8" r="6.5" fill="#dd967b"/>
<circle cx="1560.4" cy="1986.5" r="8.2" fill="#d98565"/>
<circle cx="1658.7" cy="1941.1" r="8.1" fill="#f0c4b2"/>
<circle cx="1627.0" cy="2034.7" r="7.1" fill="#f0c4b2"/>
<circle cx="1689.7" cy="1963.2" r="7.0" fill="#d47a58"/>
<circle cx="1668.9" cy="1927.8" r="7.6" fill="#f7dacd"/>
<circle cx="1644.7" cy="1981.3" r="6.5" fill="#f0c4b2"/>
<circle cx="1671.9" cy="1970.0" r="7.4" fill="#dd967b"/>
<circle cx="1670.3" cy="1949.6" r="6.7" fill="#f0c4b2"/>
<circle cx="1651.9" cy="2002.7" r="8.0" fill="#dd967b"/>
<circle cx="1665.5" cy="1974.2" r="8.6" fill="#e2a48c"/>
<circle cx="1550.0" cy="1970.0" r="6.5" fill="#dd967b"/>
<circle cx="1675.3" cy="1930.5" r="7.5" fill="#e2a48c"/>
<circle cx="1566.2" cy="1991.4" r="6.9" fill="#df9c82"/>
<circle cx="1629.3" cy="2033.9" r="7.2" fill="#f7dacd"/>
<circle cx="1690.4" cy="1956.8" r="6.9" fill="#d47a58"/>
<circle cx="1671.2" cy="1981.4" r="7.8" fill="#d47a58"/>
<circle cx="1675.9" cy="1942.6" r="6.7" fill="#f7dacd"/>
<circle cx="1712.7" cy="1904.5" r="7.0" fill="#dc8e72"/>
<circle cx="1641.7" cy="1988.6" r="6.8" fill="#e8b29c"/>
<circle cx="1698.2" cy="1918.1" r="8.3" fill="#dc8e72"/>
<circle cx="1628.6" cy="2033.5" r="7.6" fill="#f0c4b2"/>
<circle cx="1731.8" cy="1879.6" r="7.3" fill="#dd967b"/>
<circle cx="1678.1" cy="1958.8" r="7.0" fill="#dd967b"/>
<circle cx="1722.2" cy="1899.7" r="7.2" fill="#d98565"/>
<circle cx="1569.4" cy="2006.8" r="7.2" fill="#dc8e72"/>
<circle cx="1641.4" cy="1992.6" r="6.5" fill="#e8b29c"/>
<circle cx="1601.2" cy="2044.9" r="6.7" fill="#d47a58"/>
<circle cx="1591.5" cy="2028.3" r="7.5" fill="#dc8e72"/>
<circle cx="1552.8" cy="1972.0" r="6.8" fill="#dc8e72"/>
<circle cx="1636.0" cy="2022.9" r="8.7" fill="#df9c82"/>
<circle cx="1663.9" cy="1984.1" r="8.0" fill="#f0c4b2"/>
<circle cx="1710.4" cy="1898.6" r="7.6" fill="#dd967b"/>
<circle cx="1702.4" cy="1944.7" r="7.0" fill="#dc8e72"/>
<circle cx="1504.0" cy="1914.5" r="6.8" fill="#dd967b"/>
<circle cx="1665.6" cy="1999.2" r="7.1" fill="#dc8e72"/>
<circle cx="1504.1" cy="1913.9" r="6.4" fill="#d98565"/>
<circle cx="1715.3" cy="1920.7" r="8.4" fill="#cc6a46"/>
<circle cx="1709.7" cy="1887.2" r="6.7" fill="#f7dacd"/>
<circle cx="1647.0" cy="1999.6" r="7.8" fill="#df9c82"/>
<circle cx="1670.7" cy="1997.2" r="8.7" fill="#d98565"/>
<circle cx="1683.7" cy="1983.3" r="6.9" fill="#d47a58"/>
<circle cx="1701.3" cy="1890.5" r="6.7" fill="#df9c82"/>
<circle cx="1714.4" cy="1899.6" r="6.9" fill="#df9c82"/>
<circle cx="1502.8" cy="1906.5" r="6.6" fill="#dc8e72"/>
<circle cx="1709.4" cy="1958.4" r="7.2" fill="#dc8e72"/>
<circle cx="1713.2" cy="1907.1" r="6.5" fill="#d98565"/>
<circle cx="1592.7" cy="2025.3" r="7.5" fill="#e8b29c"/>
<circle cx="1694.8" cy="1957.6" r="6.9" fill="#cc6a46"/>
<circle cx="1710.5" cy="1919.9" r="6.9" fill="#e2a48c"/>
<circle cx="1699.6" cy="1959.9" r="6.7" fill="#d47a58"/>
<circle cx="1497.1" cy="1910.2" r="7.0" fill="#d98565"/>
<circle cx="1679.1" cy="1947.2" r="8.4" fill="#e2a48c"/>
<circle cx="1702.2" cy="1958.7" r="6.6" fill="#dc8e72"/>
<circle cx="1638.4" cy="2037.0" r="8.1" fill="#dc8e72"/>
<circle cx="1671.4" cy="1943.1" r="7.4" fill="#e8b29c"/>
<circle cx="1673.4" cy="1934.5" r="8.3" fill="#e8b29c"/>
<circle cx="1682.9" cy="1954.4" r="7.6" fill="#dc8e72"/>
<circle cx="1711.5" cy="1920.1" r="6.6" fill="#d98565"/>
<circle cx="1681.9" cy="1914.8" r="8.6" fill="#df9c82"/>
<circle cx="1725.1" cy="1901.5" r="8.2" fill="#dc8e72"/>
<circle cx="1489.9" cy="1892.5" r="6.3" fill="#dd967b"/>
<circle cx="1696.4" cy="1961.6" r="7.3" fill="#d47a58"/>
<circle cx="1707.4" cy="1909.0" r="7.3" fill="#e2a48c"/>
<circle cx="1677.1" cy="1954.0" r="8.0" fill="#dd967b"/>
<circle cx="1738.7" cy="1882.1" r="7.5" fill="#d47a58"/>
<circle cx="1661.2" cy="1974.1" r="8.0" fill="#df9c82"/>
<circle cx="1729.3" cy="1880.0" r="8.6" fill="#cc6a46"/>
<circle cx="1426.2" cy="1855.8" r="7.0" fill="#d98060"/>
<circle cx="1455.0" cy="1901.5" r="8.0" fill="#fef0ec"/>
<circle cx="1623.5" cy="1869.3" r="8.0" fill="#fef3f0"/>
<circle cx="1764.0" cy="1859.0" r="10.5" fill="#a83820"/>
<circle cx="1846.4" cy="1850.0" r="8.0" fill="#e09878"/>
<circle cx="1712.5" cy="1818.5" r="7.5" fill="#d07450"/>
<circle cx="1745.0" cy="1821.0" r="8.0" fill="#e09a80"/>
<circle cx="1754.4" cy="1818.5" r="8.0" fill="#e09a80"/>
<circle cx="1758.5" cy="1815.0" r="6.5" fill="#e09a80"/>
<circle cx="1792.9" cy="1818.5" r="8.5" fill="#d07450"/>
<circle cx="1791.8" cy="1795.5" r="8.5" fill="#d98060"/>
<circle cx="1827.0" cy="1792.8" r="9.5" fill="#d07450"/>
<circle cx="1760.7" cy="1775.0" r="7.0" fill="#d07450"/>
<circle cx="1788.3" cy="1761.6" r="8.5" fill="#d07450"/>
<circle cx="1798.3" cy="1768.4" r="8.0" fill="#dd8f70"/>
<circle cx="1845.9" cy="1769.2" r="9.5" fill="#bb5025"/>
<circle cx="1736.3" cy="1842.8" r="8.0" fill="#e09a80"/>
<circle cx="1743.6" cy="1852.3" r="6.5" fill="#e09a80"/>
<circle cx="1749.0" cy="1868.5" r="7.5" fill="#d98060"/>
<circle cx="1757.0" cy="1872.6" r="8.5" fill="#e8a890"/>
<circle cx="1727.4" cy="1867.0" r="7.5" fill="#d98060"/>
<circle cx="1709.8" cy="1874.0" r="9.0" fill="#f5cfc0"/>
<circle cx="1650.0" cy="1888.8" r="9.0" fill="#f5d0c2"/>
<circle cx="1647.6" cy="1895.6" r="8.0" fill="#efb8a4"/>
<circle cx="1635.4" cy="2022.7" r="9.0" fill="#b84e25"/>
<circle cx="1708.4" cy="1933.5" r="8.0" fill="#c05a2a"/>
<circle cx="1961.9" cy="1330.2" r="5.0" fill="#d98268"/>
<circle cx="1875.6" cy="1665.0" r="9.0" fill="#cf6d4a"/>
<circle cx="1387.5" cy="1763.0" r="8.0" fill="#d07450"/>
<circle cx="1483.9" cy="1883.4" r="8.0" fill="#e09a80"/>
<circle cx="1486.0" cy="1894.0" r="7.5" fill="#dd9a80"/>
<circle cx="1478.0" cy="1908.0" r="8.0" fill="#d07450"/>
<circle cx="1506.0" cy="1906.0" r="6.5" fill="#d98060"/>
<circle cx="1495.0" cy="1918.0" r="7.5" fill="#d07450"/>
<circle cx="1491.5" cy="1928.0" r="7.0" fill="#e09a80"/>
<circle cx="1511.5" cy="1927.0" r="8.0" fill="#d07450"/>
<circle cx="1507.4" cy="1939.0" r="7.0" fill="#e09a80"/></g>
<g stroke="#111" stroke-width="1" fill="none">
<line x1="1947.5" y1="1316.5" x2="1961" y2="1329.5"/>
<line x1="1312" y1="1611.5" x2="1388" y2="1764"/>
<line x1="1886.5" y1="1652" x2="1876" y2="1665"/>
<line x1="1833.5" y1="1723" x2="1799" y2="1768"/>
</g>
<g font-size="27.57" fill="#000">
<text x="2010.8" y="1376.5" text-anchor="end">Endothelial−&gt;Endothelial:Bsg−&gt;Slc16a</text>
<text x="1229.2" y="1598.5">Microglia2−&gt;ExcitNeuron:Grn−&gt;Sort1</text>
<text x="2012.3" y="1649" text-anchor="end">Endothelial−&gt;OPC:Fn1−&gt;Itga9</text>
<text x="1532.2" y="1713">AstroSub1−&gt;Endothelial:Sema6d−&gt;Kdr</text>
<text x="1517.6" y="1752">InhibNeuron−&gt;Endothelial:Cntn4−&gt;Ptprg</text>
<text x="1512" y="1794.5">Endothelial−&gt;InhibNeuron:Cxcl12−&gt;Itga4</text>
</g></g>
</svg>
</body></html>
